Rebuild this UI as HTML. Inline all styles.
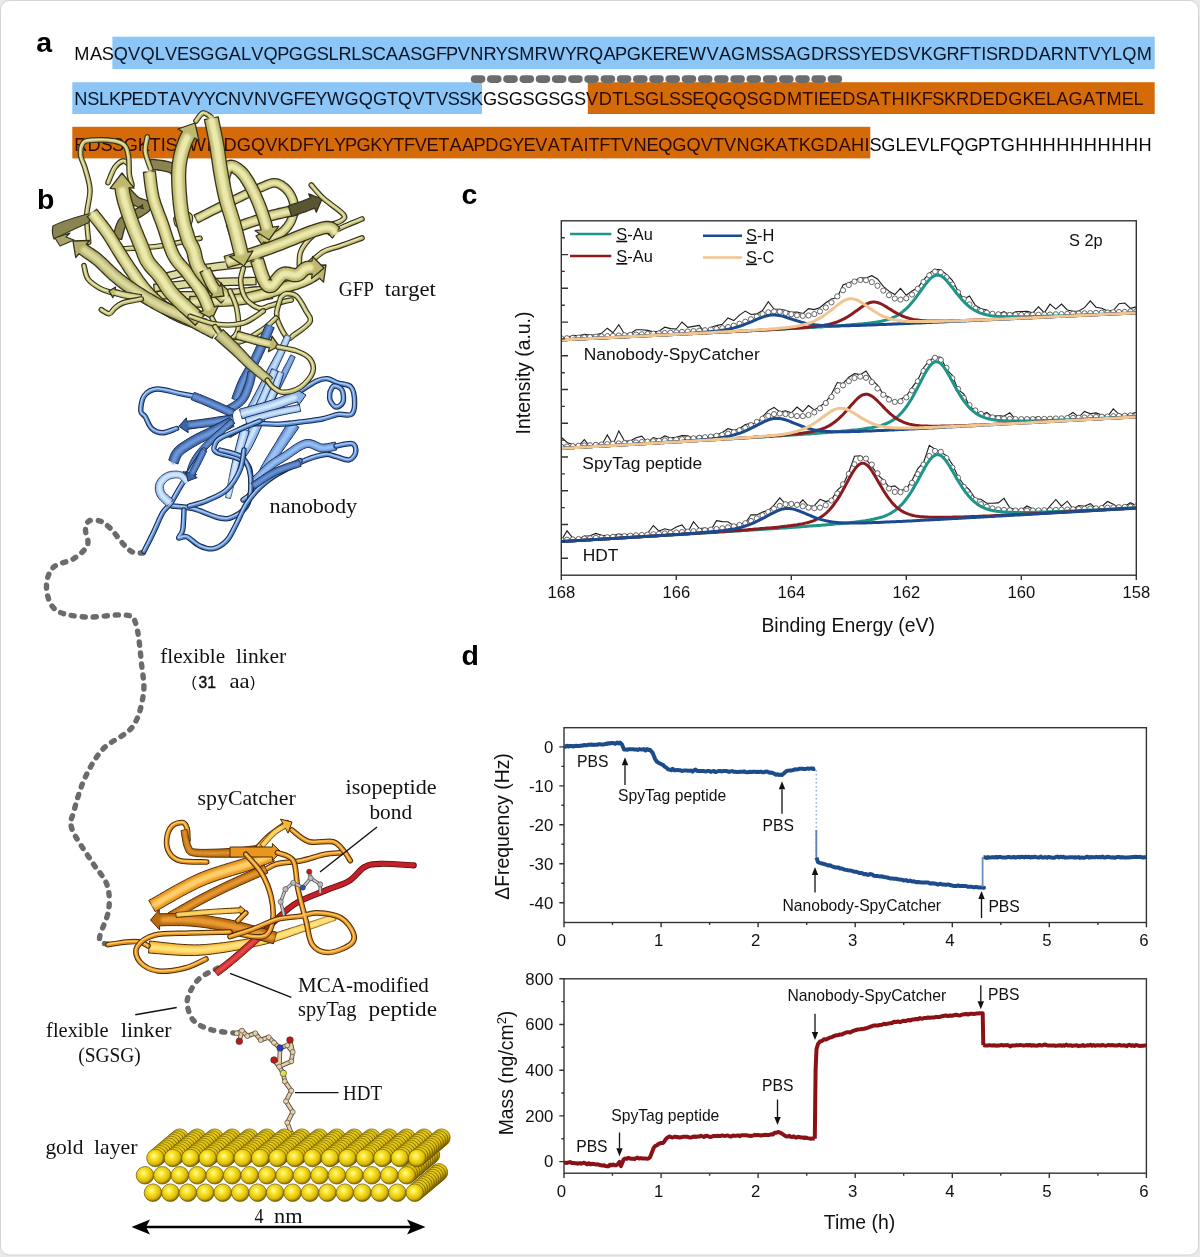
<!DOCTYPE html>
<html><head><meta charset="utf-8"><title>Figure</title>
<style>
html,body{margin:0;padding:0;background:#e9e9e9;width:1200px;height:1257px;overflow:hidden}
svg{display:block;filter:blur(0.3px)}
text{font-family:"Liberation Sans",sans-serif}
.sf{font-family:"Liberation Serif",serif}
</style></head><body>
<svg width="1200" height="1257" viewBox="0 0 1200 1257">
<defs><filter id="bl" x="-20%" y="-20%" width="140%" height="140%"><feGaussianBlur stdDeviation="1.1"/></filter></defs>
<rect x="0.5" y="0.5" width="1198" height="1254.5" rx="9" ry="9" fill="#ffffff" stroke="#d4d4d4" stroke-width="1"/>
<text x="36.3" y="52" font-size="28.5" font-weight="bold" fill="#000">a</text>
<rect x="112.4" y="36.7" width="1042.3" height="32.4" fill="#8cc6f6"/>
<rect x="72.3" y="82.2" width="409.7" height="31.8" fill="#8cc6f6"/>
<rect x="587.8" y="82.2" width="566.9" height="31.8" fill="#d56a08"/>
<rect x="72.3" y="126.8" width="798" height="31.6" fill="#d56a08"/>
<rect x="470.8" y="75.3" width="14.6" height="7.6" rx="3.8" fill="#6c6c6c"/>
<rect x="487.0" y="75.3" width="14.6" height="7.6" rx="3.8" fill="#6c6c6c"/>
<rect x="503.2" y="75.3" width="14.6" height="7.6" rx="3.8" fill="#6c6c6c"/>
<rect x="519.5" y="75.3" width="14.6" height="7.6" rx="3.8" fill="#6c6c6c"/>
<rect x="535.7" y="75.3" width="14.6" height="7.6" rx="3.8" fill="#6c6c6c"/>
<rect x="551.9" y="75.3" width="14.6" height="7.6" rx="3.8" fill="#6c6c6c"/>
<rect x="568.1" y="75.3" width="14.6" height="7.6" rx="3.8" fill="#6c6c6c"/>
<rect x="584.3" y="75.3" width="14.6" height="7.6" rx="3.8" fill="#6c6c6c"/>
<rect x="600.6" y="75.3" width="14.6" height="7.6" rx="3.8" fill="#6c6c6c"/>
<rect x="616.8" y="75.3" width="14.6" height="7.6" rx="3.8" fill="#6c6c6c"/>
<rect x="633.0" y="75.3" width="14.6" height="7.6" rx="3.8" fill="#6c6c6c"/>
<rect x="649.2" y="75.3" width="14.6" height="7.6" rx="3.8" fill="#6c6c6c"/>
<rect x="665.4" y="75.3" width="14.6" height="7.6" rx="3.8" fill="#6c6c6c"/>
<rect x="681.7" y="75.3" width="14.6" height="7.6" rx="3.8" fill="#6c6c6c"/>
<rect x="697.9" y="75.3" width="14.6" height="7.6" rx="3.8" fill="#6c6c6c"/>
<rect x="714.1" y="75.3" width="14.6" height="7.6" rx="3.8" fill="#6c6c6c"/>
<rect x="730.3" y="75.3" width="14.6" height="7.6" rx="3.8" fill="#6c6c6c"/>
<rect x="746.5" y="75.3" width="14.6" height="7.6" rx="3.8" fill="#6c6c6c"/>
<rect x="762.8" y="75.3" width="14.6" height="7.6" rx="3.8" fill="#6c6c6c"/>
<rect x="779.0" y="75.3" width="14.6" height="7.6" rx="3.8" fill="#6c6c6c"/>
<rect x="795.2" y="75.3" width="14.6" height="7.6" rx="3.8" fill="#6c6c6c"/>
<rect x="811.4" y="75.3" width="14.6" height="7.6" rx="3.8" fill="#6c6c6c"/>
<rect x="827.6" y="75.3" width="14.6" height="7.6" rx="3.8" fill="#6c6c6c"/>
<text x="74.3 89.9 101.8" y="59.5" font-size="18.20" fill="#0a0a0a">MAS</text>
<text x="113.8 128.1 140.5 154.8 165.0 177.0 188.5 200.3 214.4 228.7 241.0 251.2 263.6 277.3 288.8 302.9 316.7 328.5 338.4 351.3 361.1 372.8 385.8 398.3 410.2 422.1 435.9 446.1 457.8 470.3 483.4 495.8 507.1 519.2 534.4 547.7 564.7 576.1 589.0 603.4 615.1 626.7 640.7 652.4 663.9 676.5 688.7 706.4 718.9 731.1 745.5 760.7 772.2 784.2 796.4 811.0 824.3 836.9 848.4 859.8 871.1 883.3 896.6 908.6 920.8 932.8 946.6 959.2 970.0 981.2 986.1 997.7 1011.0 1025.0 1038.8 1050.8 1063.9 1077.3 1088.5 1100.3 1111.9 1122.2 1136.7" y="59.5" font-size="18.20" fill="#061426">QVQLVESGGALVQPGGSLRLSCAASGFPVNRYSMRWYRQAPGKEREWVAGMSSAGDRSSYEDSVKGRFTISRDDARNTVYLQM</text>
<text x="74.2 87.2 99.0 109.0 120.4 131.6 143.8 157.3 168.5 180.9 192.6 203.7 215.0 228.1 241.6 254.1 267.5 279.7 293.5 303.9 315.2 327.1 344.6 358.7 372.9 387.0 398.1 412.4 424.7 435.9 447.8 459.3 471.0" y="105.3" font-size="18.20" fill="#061426">NSLKPEDTAVYYCNVNVGFEYWGQGTQVTVSSK</text>
<text x="483.0 496.8 508.7 522.5 534.4 548.2 560.1 573.9" y="105.3" font-size="18.20" fill="#0a0a0a">GSGSGSGS</text>
<text x="585.9 598.7 612.3 623.4 633.3 645.1 659.3 669.1 680.7 692.2 704.2 718.4 732.6 746.6 758.4 773.0 786.9 802.3 813.6 818.5 830.0 842.3 855.6 867.6 880.0 891.4 904.9 910.1 921.8 932.3 944.1 955.9 969.2 982.5 994.8 1008.3 1022.4 1034.1 1046.0 1056.3 1068.6 1082.9 1095.2 1106.6 1121.7 1133.6" y="105.3" font-size="18.20" fill="#2e0a00">VDTLSGLSSEQGQSGDMTIEEDSATHIKFSKRDEDGKELAGATMEL</text>
<text x="74.2 87.4 100.6 112.0 123.7 137.7 149.6 160.8 165.6 177.4 188.8 206.4 211.2 223.4 236.8 250.9 265.2 277.3 289.6 302.8 312.9 324.5 334.0 345.0 356.4 370.3 381.7 393.2 403.9 414.8 426.6 438.3 449.5 461.9 473.5 485.3 498.8 512.3 523.5 535.3 547.7 559.9 571.0 583.4 588.5 599.2 609.9 621.1 633.5 646.4 658.2 672.3 686.4 700.7 712.9 724.0 736.4 749.7 763.6 775.6 787.8 798.7 810.6 825.1 838.7 851.1 864.6" y="151.0" font-size="18.20" fill="#2e0a00">RDSSGKTISTWISDGQVKDFYLYPGKYTFVETAAPDGYEVATAITFTVNEQGQVTVNGKATKGDAHI</text>
<text x="869.5 881.3 895.5 905.3 917.3 929.6 939.5 950.3 964.6 978.1 989.7 1000.8 1015.2 1028.9 1042.6 1056.3 1070.1 1083.8 1097.5 1111.2 1124.9 1138.6" y="151.0" font-size="18.20" fill="#0a0a0a">SGLEVLFQGPTGHHHHHHHHHH</text>
<path d="M143.4,553.0 C141.6,552.8 135.8,553.5 132.4,552.0 C129.1,550.5 127.0,548.0 123.3,544.0 C119.6,540.0 113.9,531.8 110.0,528.0 C106.1,524.2 103.5,522.2 100.0,521.0 C96.5,519.8 91.4,519.5 89.0,521.0 C86.6,522.5 85.8,526.0 85.5,530.0 C85.2,534.0 89.4,540.2 87.5,545.0 C85.6,549.8 79.8,554.7 74.0,558.5 C68.2,562.3 57.6,562.8 53.0,567.7 C48.4,572.6 46.1,580.8 46.5,587.8 C46.9,594.8 49.2,604.9 55.6,609.8 C62.0,614.7 73.3,616.1 84.9,617.0 C96.5,617.9 116.5,613.8 125.0,615.0 C133.5,616.2 133.2,616.1 136.0,624.4 C138.8,632.7 140.4,653.1 141.6,664.7 C142.8,676.3 144.9,683.6 143.4,694.0 C141.9,704.4 139.1,717.8 132.4,726.9 C125.7,736.0 111.1,740.3 103.2,748.8 C95.3,757.3 89.8,767.6 84.9,778.0 C80.0,788.4 76.2,802.5 74.0,811.0 C71.8,819.5 69.0,820.5 72.0,829.0 C75.0,837.5 86.4,853.0 92.2,862.2 C98.0,871.4 104.0,876.3 106.8,884.2 C109.5,892.1 109.9,900.7 108.7,909.8 C107.5,918.9 99.2,933.2 99.5,939.0 C99.8,944.8 108.7,943.6 110.5,944.5" fill="none" stroke="#6b6b6b" stroke-width="5.4" stroke-dasharray="3.2,7.8" stroke-linecap="round"/>
<path d="M218.0,968.0 C215.0,969.7 204.7,974.0 200.0,978.0 C195.3,982.0 192.1,987.5 190.0,992.0 C187.9,996.5 186.6,1000.2 187.3,1005.0 C188.0,1009.8 189.9,1016.8 194.0,1021.0 C198.1,1025.2 205.3,1028.0 212.0,1030.0 C218.7,1032.0 230.3,1032.5 234.0,1033.0" fill="none" stroke="#6b6b6b" stroke-width="5.4" stroke-dasharray="3.2,7.8" stroke-linecap="round"/>
<path d="M158.9,282.6 L161.4,282.0 L164.4,281.2 L168.0,280.3 L172.0,279.2 L176.3,278.1 L180.9,276.9 L185.8,275.7 L190.7,274.6 L195.7,273.6 L200.6,272.7 L206.0,271.9 L212.0,271.0 L218.5,270.2 L225.3,269.4 L232.0,268.6 L238.6,267.9 L244.8,267.2 L250.3,266.6 L254.9,266.1 L258.4,265.7 L257.6,258.3 L254.1,258.7 L249.5,259.2 L244.0,259.8 L237.8,260.4 L231.2,261.1 L224.4,261.9 L217.6,262.7 L211.0,263.6 L204.9,264.4 L199.4,265.3 L194.2,266.2 L189.1,267.3 L184.1,268.4 L179.1,269.6 L174.4,270.8 L170.1,271.9 L166.0,273.0 L162.5,274.0 L159.5,274.8 L157.1,275.4 Z" fill="#dedba0" stroke="#34321a" stroke-width="1.3" stroke-linejoin="round"/>
<path d="M154.4,291.7 L157.1,291.4 L160.6,291.0 L164.6,290.5 L169.1,289.9 L173.9,289.3 L179.1,288.8 L184.4,288.2 L189.8,287.6 L195.1,287.1 L200.3,286.7 L205.7,286.4 L211.6,286.1 L218.0,285.9 L224.5,285.6 L231.0,285.4 L237.3,285.3 L243.1,285.1 L248.3,285.0 L252.7,284.9 L256.1,284.7 L255.9,277.3 L252.5,277.4 L248.1,277.5 L242.9,277.6 L237.1,277.8 L230.8,277.9 L224.2,278.1 L217.7,278.4 L211.3,278.6 L205.2,278.9 L199.7,279.3 L194.5,279.7 L189.1,280.2 L183.6,280.7 L178.3,281.3 L173.1,281.9 L168.2,282.5 L163.6,283.1 L159.6,283.6 L156.2,284.0 L153.6,284.3 Z" fill="#dedba0" stroke="#34321a" stroke-width="1.3" stroke-linejoin="round"/>
<path d="M157.0,298.7 L159.6,298.8 L163.0,298.8 L166.9,298.9 L171.4,299.0 L176.3,299.1 L181.4,299.1 L186.8,299.1 L192.3,299.1 L197.8,299.0 L203.2,298.7 L208.9,298.4 L215.2,298.0 L221.9,297.4 L228.8,296.9 L235.7,296.2 L242.4,295.6 L248.6,295.0 L254.1,294.5 L258.8,294.1 L262.3,293.7 L261.7,286.3 L258.1,286.6 L253.4,287.0 L247.9,287.6 L241.7,288.1 L235.0,288.8 L228.2,289.4 L221.3,290.0 L214.6,290.5 L208.4,290.9 L202.8,291.3 L197.6,291.5 L192.2,291.6 L186.8,291.6 L181.5,291.6 L176.4,291.6 L171.5,291.5 L167.1,291.4 L163.1,291.3 L159.7,291.3 L157.0,291.3 Z" fill="#dedba0" stroke="#34321a" stroke-width="1.3" stroke-linejoin="round"/>
<path d="M172.6,304.7 L174.3,304.9 L176.3,305.1 L178.6,305.5 L181.3,305.9 L184.4,306.2 L187.8,306.6 L191.6,306.8 L195.8,307.0 L200.3,306.9 L205.2,306.7 L210.9,306.3 L217.6,305.6 L225.1,304.8 L233.0,303.9 L241.0,302.8 L248.8,301.8 L256.2,300.8 L262.8,300.0 L268.3,299.2 L272.5,298.7 L271.5,291.3 L267.4,291.8 L261.8,292.5 L255.2,293.4 L247.9,294.4 L240.0,295.4 L232.0,296.4 L224.2,297.4 L216.8,298.2 L210.3,298.8 L204.8,299.3 L200.2,299.4 L195.9,299.5 L192.0,299.3 L188.4,299.1 L185.2,298.8 L182.3,298.4 L179.7,298.1 L177.3,297.7 L175.2,297.4 L173.4,297.3 Z" fill="#dedba0" stroke="#34321a" stroke-width="1.3" stroke-linejoin="round"/>
<path d="M176.0,219.0 C177.0,218.0 179.7,213.5 182.0,213.0 C184.3,212.5 189.0,214.0 190.0,216.0 C191.0,218.0 190.0,223.5 188.0,225.0 C186.0,226.5 180.0,226.0 178.0,225.0 C176.0,224.0 176.3,220.0 176.0,219.0" fill="none" stroke="#34321a" stroke-width="5.6" stroke-linecap="round" stroke-linejoin="round"/><path d="M176.0,219.0 C177.0,218.0 179.7,213.5 182.0,213.0 C184.3,212.5 189.0,214.0 190.0,216.0 C191.0,218.0 190.0,223.5 188.0,225.0 C186.0,226.5 180.0,226.0 178.0,225.0 C176.0,224.0 176.3,220.0 176.0,219.0" fill="none" stroke="#c2bd78" stroke-width="3.4" stroke-linecap="round" stroke-linejoin="round"/><path d="M176.0,219.0 C177.0,218.0 179.7,213.5 182.0,213.0 C184.3,212.5 189.0,214.0 190.0,216.0 C191.0,218.0 190.0,223.5 188.0,225.0 C186.0,226.5 180.0,226.0 178.0,225.0 C176.0,224.0 176.3,220.0 176.0,219.0" fill="none" stroke="#e6e4a8" stroke-width="1.4" stroke-linecap="round" stroke-linejoin="round" transform="translate(-0.4,-0.5)"/>
<path d="M120.0,249.0 C126.7,248.5 146.7,247.8 160.0,246.0 C173.3,244.2 193.3,239.6 200.0,238.3" fill="none" stroke="#34321a" stroke-width="5.6" stroke-linecap="round" stroke-linejoin="round"/><path d="M120.0,249.0 C126.7,248.5 146.7,247.8 160.0,246.0 C173.3,244.2 193.3,239.6 200.0,238.3" fill="none" stroke="#c2bd78" stroke-width="3.4" stroke-linecap="round" stroke-linejoin="round"/><path d="M120.0,249.0 C126.7,248.5 146.7,247.8 160.0,246.0 C173.3,244.2 193.3,239.6 200.0,238.3" fill="none" stroke="#e6e4a8" stroke-width="1.4" stroke-linecap="round" stroke-linejoin="round" transform="translate(-0.4,-0.5)"/>
<path d="M122.1,193.4 L122.7,194.0 L123.5,194.9 L124.4,195.9 L125.5,197.1 L126.7,198.4 L128.0,199.7 L129.3,201.1 L130.6,202.3 L132.0,203.5 L133.4,204.7 L135.0,205.7 L136.8,206.5 L138.4,207.1 L140.0,207.6 L141.4,208.1 L142.5,208.4 L143.2,208.7 L143.3,208.7 L142.7,208.0 L142.2,206.0 L142.5,204.8 L142.5,204.7 L142.0,205.2 L141.1,205.9 L139.8,206.7 L138.4,207.6 L136.9,208.5 L135.4,209.4 L133.9,210.4 L132.6,211.2 L131.6,211.8 L130.5,212.4 L129.3,212.9 L128.0,213.5 L126.6,214.1 L125.1,214.8 L123.6,215.7 L122.0,216.7 L120.5,218.0 L119.1,219.6 L117.9,221.4 L117.0,223.4 L116.2,225.4 L115.5,227.5 L114.9,229.6 L114.4,231.5 L113.9,233.3 L113.6,234.9 L113.2,236.1 L113.0,237.0 L121.6,239.6 L121.9,238.5 L122.3,237.1 L122.7,235.5 L123.1,233.7 L123.6,232.0 L124.1,230.2 L124.6,228.5 L125.2,227.0 L125.8,225.8 L126.3,225.0 L126.8,224.4 L127.5,223.9 L128.3,223.4 L129.2,222.8 L130.3,222.3 L131.6,221.7 L133.0,221.1 L134.4,220.5 L136.0,219.7 L137.4,218.8 L138.7,218.0 L140.1,217.1 L141.6,216.2 L143.2,215.3 L144.7,214.3 L146.3,213.3 L147.7,212.2 L149.1,210.9 L150.3,209.3 L151.2,206.6 L150.4,203.4 L148.7,201.5 L147.0,200.6 L145.6,200.0 L144.1,199.5 L142.7,199.1 L141.4,198.6 L140.2,198.2 L139.3,197.8 L138.6,197.3 L137.8,196.7 L136.7,195.7 L135.6,194.6 L134.4,193.5 L133.2,192.2 L132.1,191.0 L131.0,189.8 L130.1,188.8 L129.2,187.9 L128.5,187.2 Z" fill="#8a8550" stroke="#34321a" stroke-width="1.3" stroke-linejoin="round"/>
<path d="M197.9,222.8 L199.9,221.8 L202.6,220.5 L205.7,218.9 L209.2,217.1 L212.9,215.2 L216.8,213.3 L220.8,211.3 L224.7,209.4 L228.4,207.5 L231.9,205.8 L235.2,204.2 L238.7,202.5 L242.2,200.8 L245.6,199.2 L249.1,197.5 L252.4,196.0 L255.6,194.5 L258.5,193.1 L261.2,191.9 L263.7,190.9 L265.8,190.0 L267.7,189.2 L269.2,188.5 L270.6,188.0 L271.6,187.6 L272.5,187.3 L273.2,187.2 L273.8,187.1 L274.5,187.1 L275.3,187.2 L276.2,187.4 L277.1,187.7 L278.0,188.1 L279.0,188.7 L280.1,189.4 L281.1,190.1 L282.1,191.0 L283.0,191.8 L283.9,192.8 L284.7,193.7 L285.4,194.6 L286.2,195.7 L286.8,196.8 L287.5,198.0 L288.0,199.2 L288.6,200.5 L289.0,201.7 L289.3,203.0 L289.6,204.2 L289.8,205.4 L289.8,206.7 L289.8,208.0 L289.7,209.4 L289.6,210.8 L289.3,212.3 L289.0,213.8 L288.6,215.2 L288.2,216.6 L287.7,218.0 L287.1,219.2 L286.6,220.4 L285.9,221.5 L285.1,222.7 L284.3,223.8 L283.4,224.9 L282.4,226.0 L281.5,227.0 L280.5,228.0 L279.5,228.8 L278.5,229.6 L277.5,230.2 L276.5,230.9 L275.4,231.4 L274.3,231.9 L273.1,232.4 L272.0,232.8 L270.8,233.1 L269.7,233.4 L268.6,233.6 L267.6,233.8 L266.7,233.8 L265.7,233.8 L264.6,233.6 L265.6,230.5 L256.0,236.0 L262.2,245.2 L263.3,242.1 L265.0,242.3 L266.7,242.3 L268.4,242.2 L270.0,242.0 L271.5,241.7 L273.0,241.3 L274.6,240.9 L276.1,240.4 L277.6,239.7 L279.2,239.1 L280.7,238.3 L282.1,237.4 L283.5,236.4 L284.8,235.4 L286.1,234.3 L287.4,233.1 L288.7,231.8 L289.9,230.4 L291.0,229.0 L292.1,227.5 L293.1,226.0 L294.0,224.4 L294.9,222.8 L295.6,221.1 L296.2,219.4 L296.8,217.6 L297.3,215.8 L297.7,213.9 L298.0,212.1 L298.2,210.2 L298.3,208.3 L298.3,206.4 L298.2,204.6 L298.0,202.8 L297.6,201.0 L297.1,199.2 L296.5,197.5 L295.8,195.8 L295.1,194.2 L294.2,192.6 L293.3,191.1 L292.3,189.7 L291.3,188.3 L290.2,187.0 L289.0,185.8 L287.7,184.6 L286.4,183.5 L284.9,182.4 L283.4,181.4 L281.8,180.5 L280.2,179.8 L278.5,179.2 L276.7,178.8 L275.0,178.6 L273.4,178.6 L271.8,178.8 L270.3,179.1 L268.9,179.5 L267.4,180.1 L265.9,180.7 L264.3,181.4 L262.5,182.2 L260.3,183.1 L257.8,184.1 L255.0,185.4 L252.0,186.8 L248.8,188.3 L245.4,189.8 L242.0,191.5 L238.5,193.2 L235.0,194.9 L231.5,196.5 L228.1,198.2 L224.7,199.9 L220.9,201.7 L217.0,203.7 L213.0,205.7 L209.1,207.6 L205.3,209.5 L201.8,211.3 L198.7,212.9 L196.1,214.2 L194.1,215.2 Z" fill="#bdb86e" stroke="#34321a" stroke-width="1.3" stroke-linejoin="round"/><path d="M198.0,218.0 L200.7,216.7 L203.8,215.1 L207.2,213.3 L211.0,211.4 L214.9,209.5 L218.9,207.5 L222.8,205.5 L226.5,203.7 L230.0,202.0 L233.4,200.4 L236.8,198.7 L240.3,197.0 L243.8,195.3 L247.2,193.7 L250.6,192.1 L253.8,190.6 L256.8,189.3 L259.5,188.0 L262.0,187.0 L264.1,186.1 L266.0,185.3 L267.6,184.6 L269.0,184.0 L270.2,183.6 L271.4,183.2 L272.5,183.0 L273.6,182.9 L274.8,182.9 L276.0,183.0 L277.3,183.3 L278.6,183.7 L279.9,184.3 L281.2,185.0 L282.5,185.9 L283.7,186.8 L284.9,187.8 L286.0,188.8 L287.1,189.9 L288.0,191.0 L288.9,192.1 L289.7,193.4 L290.5,194.7 L291.3,196.1 L291.9,197.5 L292.5,199.0 L293.1,200.5 L293.5,202.0 L293.8,203.5 L294.0,205.0 L294.1,206.5 L294.1,208.1 L294.0,209.8 L293.8,211.4 L293.5,213.1 L293.1,214.8 L292.7,216.4 L292.2,218.0 L291.6,219.6 L291.0,221.0 L290.3,222.4 L289.5,223.8 L288.6,225.1 L287.6,226.4 L286.6,227.7 L285.6,228.9 L284.4,230.0 L283.3,231.1 L282.2,232.1 L281.0,233.0 L279.8,233.8 L278.6,234.6 L277.3,235.2 L276.0,235.8 L274.6,236.4 L273.3,236.8 L271.9,237.2 L270.6,237.6 L269.3,237.8 L268.0,238.0 L266.7,238.1 L265.3,238.0" fill="none" stroke="#ebe9ad" stroke-width="4.2" stroke-linecap="round" filter="url(#bl)"/>
<path d="M229.6,234.7 L232.2,233.9 L235.6,232.7 L239.6,231.3 L244.1,229.8 L248.9,228.1 L253.9,226.4 L258.7,224.8 L263.4,223.3 L267.7,221.9 L271.4,220.8 L274.7,219.9 L278.0,219.0 L281.2,218.3 L284.2,217.6 L287.1,217.0 L289.8,216.5 L292.3,216.0 L294.5,215.6 L296.4,215.2 L298.0,214.9 L296.0,205.1 L294.5,205.4 L292.6,205.8 L290.4,206.2 L287.9,206.7 L285.1,207.2 L282.1,207.8 L278.9,208.5 L275.6,209.3 L272.1,210.2 L268.6,211.2 L264.7,212.4 L260.4,213.8 L255.6,215.3 L250.7,217.0 L245.7,218.6 L240.9,220.3 L236.4,221.8 L232.3,223.2 L229.0,224.4 L226.4,225.3 Z" fill="#bdb86e" stroke="#34321a" stroke-width="1.3" stroke-linejoin="round"/><path d="M230.6,229.1 L234.0,228.0 L238.0,226.6 L242.5,225.0 L247.3,223.4 L252.3,221.7 L257.2,220.1 L261.9,218.5 L266.2,217.1 L270.0,216.0 L273.4,215.0 L276.8,214.2 L280.1,213.4 L283.2,212.7 L286.1,212.1 L288.9,211.6 L291.4,211.1 L293.6,210.7 L295.5,210.3" fill="none" stroke="#ebe9ad" stroke-width="5.0" stroke-linecap="round" filter="url(#bl)"/>
<path d="M291.7,216.2 L292.6,215.9 L293.7,215.6 L295.0,215.2 L296.5,214.7 L298.1,214.2 L299.9,213.6 L301.6,213.0 L303.4,212.4 L305.2,211.8 L306.9,211.1 L308.7,210.5 L310.6,209.7 L312.6,208.9 L314.6,208.1 L316.3,212.2 L322.0,199.0 L308.6,193.8 L310.4,197.9 L308.4,198.7 L306.5,199.5 L304.7,200.2 L303.1,200.9 L301.5,201.4 L299.8,202.0 L298.1,202.6 L296.4,203.2 L294.7,203.7 L293.1,204.2 L291.7,204.7 L290.3,205.1 L289.2,205.5 L288.3,205.8 Z" fill="#5a5632" stroke="#34321a" stroke-width="1.3" stroke-linejoin="round"/>
<path d="M311.3,185.0 C313.3,187.2 318.0,193.4 323.3,198.3 C328.6,203.2 340.4,210.5 343.3,214.3 C346.2,218.1 344.0,218.8 340.7,221.0 C337.4,223.2 328.4,224.8 323.3,227.7 C318.2,230.6 313.8,234.3 310.0,238.3 C306.2,242.3 302.5,247.2 300.7,251.7 C298.9,256.1 299.5,262.8 299.3,265.0" fill="none" stroke="#34321a" stroke-width="5.6" stroke-linecap="round" stroke-linejoin="round"/><path d="M311.3,185.0 C313.3,187.2 318.0,193.4 323.3,198.3 C328.6,203.2 340.4,210.5 343.3,214.3 C346.2,218.1 344.0,218.8 340.7,221.0 C337.4,223.2 328.4,224.8 323.3,227.7 C318.2,230.6 313.8,234.3 310.0,238.3 C306.2,242.3 302.5,247.2 300.7,251.7 C298.9,256.1 299.5,262.8 299.3,265.0" fill="none" stroke="#c2bd78" stroke-width="3.4" stroke-linecap="round" stroke-linejoin="round"/><path d="M311.3,185.0 C313.3,187.2 318.0,193.4 323.3,198.3 C328.6,203.2 340.4,210.5 343.3,214.3 C346.2,218.1 344.0,218.8 340.7,221.0 C337.4,223.2 328.4,224.8 323.3,227.7 C318.2,230.6 313.8,234.3 310.0,238.3 C306.2,242.3 302.5,247.2 300.7,251.7 C298.9,256.1 299.5,262.8 299.3,265.0" fill="none" stroke="#e6e4a8" stroke-width="1.4" stroke-linecap="round" stroke-linejoin="round" transform="translate(-0.4,-0.5)"/>
<path d="M362.0,219.0 C359.2,220.2 350.3,223.7 345.0,226.0 C339.7,228.3 332.5,231.8 330.0,233.0" fill="none" stroke="#34321a" stroke-width="5.6" stroke-linecap="round" stroke-linejoin="round"/><path d="M362.0,219.0 C359.2,220.2 350.3,223.7 345.0,226.0 C339.7,228.3 332.5,231.8 330.0,233.0" fill="none" stroke="#c2bd78" stroke-width="3.4" stroke-linecap="round" stroke-linejoin="round"/><path d="M362.0,219.0 C359.2,220.2 350.3,223.7 345.0,226.0 C339.7,228.3 332.5,231.8 330.0,233.0" fill="none" stroke="#e6e4a8" stroke-width="1.4" stroke-linecap="round" stroke-linejoin="round" transform="translate(-0.4,-0.5)"/>
<path d="M362.0,238.0 C358.3,239.3 346.4,243.7 340.0,246.0 C333.6,248.3 328.8,248.5 323.3,251.7 C317.9,254.9 310.0,262.8 307.3,265.0" fill="none" stroke="#34321a" stroke-width="5.6" stroke-linecap="round" stroke-linejoin="round"/><path d="M362.0,238.0 C358.3,239.3 346.4,243.7 340.0,246.0 C333.6,248.3 328.8,248.5 323.3,251.7 C317.9,254.9 310.0,262.8 307.3,265.0" fill="none" stroke="#c2bd78" stroke-width="3.4" stroke-linecap="round" stroke-linejoin="round"/><path d="M362.0,238.0 C358.3,239.3 346.4,243.7 340.0,246.0 C333.6,248.3 328.8,248.5 323.3,251.7 C317.9,254.9 310.0,262.8 307.3,265.0" fill="none" stroke="#e6e4a8" stroke-width="1.4" stroke-linecap="round" stroke-linejoin="round" transform="translate(-0.4,-0.5)"/>
<path d="M227.8,267.7 L230.4,266.9 L233.6,265.9 L237.4,264.8 L241.8,263.4 L246.5,262.0 L251.4,260.4 L256.6,258.8 L261.8,257.1 L267.0,255.4 L272.0,253.7 L277.2,251.7 L282.9,249.6 L288.7,247.2 L294.7,244.8 L300.7,242.4 L306.4,240.1 L311.9,238.0 L316.8,236.2 L321.0,234.8 L324.3,233.9 L326.6,233.5 L327.9,233.5 L328.6,233.6 L328.8,233.7 L328.8,233.8 L329.0,234.0 L329.4,234.5 L330.0,235.4 L331.3,236.9 L332.6,237.9 L339.4,228.1 L339.6,228.3 L339.7,228.4 L339.3,227.7 L338.3,226.4 L336.8,224.7 L334.6,223.2 L331.9,222.1 L328.8,221.5 L325.4,221.5 L321.7,222.1 L317.5,223.3 L312.8,224.8 L307.6,226.7 L302.0,228.9 L296.2,231.2 L290.2,233.7 L284.3,236.1 L278.5,238.4 L273.0,240.5 L268.0,242.3 L263.1,244.0 L258.0,245.7 L252.9,247.4 L247.8,249.0 L242.9,250.5 L238.2,252.0 L233.9,253.3 L230.1,254.5 L226.8,255.5 L224.2,256.3 Z" fill="#bdb86e" stroke="#34321a" stroke-width="1.3" stroke-linejoin="round"/><path d="M228.6,261.2 L231.8,260.2 L235.7,259.0 L240.0,257.7 L244.7,256.2 L249.6,254.7 L254.8,253.1 L259.9,251.4 L265.0,249.7 L270.0,248.0 L275.1,246.1 L280.7,244.0 L286.5,241.7 L292.5,239.2 L298.4,236.8 L304.2,234.5 L309.8,232.4 L314.8,230.5 L319.3,229.0 L323.0,228.0 L326.0,227.5 L328.4,227.5 L330.2,227.8 L331.7,228.4 L332.8,229.2 L333.7,230.2 L334.3,231.1 L334.9,231.9 L335.4,232.6" fill="none" stroke="#ebe9ad" stroke-width="6.0" stroke-linecap="round" filter="url(#bl)"/>
<path d="M230.0,191.8 L230.0,190.8 L229.9,189.4 L229.8,187.8 L229.7,186.1 L229.6,184.4 L229.6,182.6 L229.6,180.9 L229.6,179.4 L229.7,178.2 L229.9,177.3 L230.1,176.4 L230.4,175.4 L230.8,174.4 L231.2,173.5 L231.5,172.8 L231.9,172.2 L232.2,171.9 L232.3,171.8 L232.1,171.9 L231.5,172.1 L230.9,172.2 L230.8,172.2 L231.0,172.3 L231.6,172.5 L232.3,172.8 L233.1,173.3 L234.0,173.9 L234.9,174.6 L235.8,175.3 L236.6,176.1 L237.3,176.8 L238.1,177.7 L238.9,178.6 L239.7,179.7 L240.5,180.8 L241.3,182.1 L242.1,183.4 L243.0,184.8 L243.9,186.3 L244.8,187.9 L245.6,189.5 L246.6,191.3 L247.5,193.2 L248.4,195.1 L249.4,197.1 L250.3,199.1 L251.2,201.2 L252.1,203.2 L252.9,205.3 L253.7,207.2 L254.5,209.2 L255.2,211.2 L256.0,213.2 L256.7,215.2 L257.3,217.2 L258.0,219.2 L258.6,221.1 L259.2,223.0 L259.7,224.9 L260.2,226.6 L260.6,228.2 L261.0,229.9 L255.1,230.7 L269.0,240.0 L278.7,226.4 L272.7,227.2 L272.3,225.3 L271.8,223.4 L271.3,221.5 L270.7,219.6 L270.1,217.6 L269.4,215.5 L268.7,213.4 L268.0,211.3 L267.3,209.1 L266.5,207.0 L265.7,204.9 L264.9,202.8 L264.0,200.7 L263.1,198.5 L262.2,196.4 L261.2,194.2 L260.3,192.1 L259.3,189.9 L258.3,187.9 L257.2,185.8 L256.2,183.9 L255.2,182.1 L254.3,180.4 L253.3,178.7 L252.4,177.1 L251.4,175.6 L250.4,174.1 L249.4,172.6 L248.3,171.2 L247.2,169.8 L246.0,168.5 L244.8,167.3 L243.6,166.2 L242.3,165.2 L240.9,164.1 L239.5,163.2 L238.0,162.3 L236.5,161.5 L234.8,160.9 L232.9,160.4 L230.8,160.2 L228.5,160.5 L226.3,161.4 L224.5,162.6 L223.2,163.9 L222.1,165.4 L221.1,166.8 L220.3,168.3 L219.6,169.9 L219.1,171.5 L218.6,173.1 L218.1,174.7 L217.8,176.7 L217.6,178.7 L217.6,180.8 L217.6,182.8 L217.6,184.8 L217.7,186.8 L217.8,188.5 L217.9,190.1 L218.0,191.3 L218.0,192.2 Z" fill="#bdb86e" stroke="#34321a" stroke-width="1.3" stroke-linejoin="round"/><path d="M224.0,191.0 L223.9,189.7 L223.8,188.2 L223.7,186.4 L223.6,184.6 L223.6,182.7 L223.6,180.8 L223.6,179.1 L223.8,177.4 L224.0,176.0 L224.3,174.7 L224.7,173.4 L225.2,172.2 L225.7,170.9 L226.3,169.8 L227.0,168.8 L227.7,167.9 L228.4,167.2 L229.2,166.6 L230.0,166.3 L230.9,166.2 L231.9,166.3 L232.9,166.6 L234.0,167.0 L235.1,167.6 L236.3,168.2 L237.4,169.0 L238.6,169.9 L239.7,170.8 L240.7,171.7 L241.7,172.7 L242.6,173.7 L243.6,174.9 L244.5,176.1 L245.4,177.4 L246.3,178.8 L247.3,180.3 L248.2,181.8 L249.1,183.4 L250.0,185.0 L250.9,186.7 L251.9,188.6 L252.9,190.5 L253.8,192.5 L254.8,194.6 L255.8,196.7 L256.7,198.8 L257.6,200.9 L258.5,203.0 L259.3,205.0 L260.1,207.0 L260.9,209.1 L261.6,211.2 L262.3,213.2 L263.0,215.3 L263.7,217.4 L264.3,219.4 L264.9,221.3 L265.5,223.2 L266.0,225.0 L266.5,226.8" fill="none" stroke="#ebe9ad" stroke-width="6.0" stroke-linecap="round" filter="url(#bl)"/>
<path d="M149.2,168.9 L150.8,169.2 L152.8,169.5 L155.2,169.7 L157.8,170.0 L160.5,170.4 L163.2,170.8 L165.6,171.3 L167.8,171.9 L169.4,172.5 L170.3,173.0 L170.9,173.6 L171.5,174.5 L172.2,175.8 L172.8,177.3 L173.3,179.1 L173.7,181.0 L174.1,182.8 L174.5,184.5 L174.8,186.2 L175.2,187.5 L184.8,184.5 L184.5,183.7 L184.2,182.5 L183.9,180.8 L183.5,178.7 L182.9,176.5 L182.2,174.2 L181.3,171.7 L180.1,169.3 L178.5,167.0 L176.3,165.0 L173.6,163.5 L170.9,162.4 L168.0,161.6 L165.0,161.0 L162.0,160.5 L159.1,160.1 L156.4,159.8 L154.0,159.5 L152.2,159.3 L150.8,159.1 Z" fill="#8a8550" stroke="#34321a" stroke-width="1.3" stroke-linejoin="round"/>
<path d="M108.0,182.7 C109.1,180.2 112.2,171.3 114.7,167.7 C117.2,164.1 120.5,161.7 122.7,161.0 C124.9,160.3 127.1,163.2 128.0,163.7" fill="none" stroke="#34321a" stroke-width="5.6" stroke-linecap="round" stroke-linejoin="round"/><path d="M108.0,182.7 C109.1,180.2 112.2,171.3 114.7,167.7 C117.2,164.1 120.5,161.7 122.7,161.0 C124.9,160.3 127.1,163.2 128.0,163.7" fill="none" stroke="#c2bd78" stroke-width="3.4" stroke-linecap="round" stroke-linejoin="round"/><path d="M108.0,182.7 C109.1,180.2 112.2,171.3 114.7,167.7 C117.2,164.1 120.5,161.7 122.7,161.0 C124.9,160.3 127.1,163.2 128.0,163.7" fill="none" stroke="#e6e4a8" stroke-width="1.4" stroke-linecap="round" stroke-linejoin="round" transform="translate(-0.4,-0.5)"/>
<path d="M147.3,137.0 C147.0,139.4 144.7,146.4 145.3,151.7 C145.9,157.0 149.8,166.1 150.7,169.0" fill="none" stroke="#34321a" stroke-width="5.6" stroke-linecap="round" stroke-linejoin="round"/><path d="M147.3,137.0 C147.0,139.4 144.7,146.4 145.3,151.7 C145.9,157.0 149.8,166.1 150.7,169.0" fill="none" stroke="#c2bd78" stroke-width="3.4" stroke-linecap="round" stroke-linejoin="round"/><path d="M147.3,137.0 C147.0,139.4 144.7,146.4 145.3,151.7 C145.9,157.0 149.8,166.1 150.7,169.0" fill="none" stroke="#e6e4a8" stroke-width="1.4" stroke-linecap="round" stroke-linejoin="round" transform="translate(-0.4,-0.5)"/>
<path d="M190.2,307.5 L193.4,307.4 L197.6,307.2 L202.6,307.1 L208.2,306.9 L214.2,306.7 L220.5,306.4 L226.7,306.1 L232.8,305.6 L238.6,305.1 L243.8,304.4 L248.6,303.6 L253.2,302.7 L257.7,301.6 L262.0,300.4 L266.2,299.2 L270.2,298.0 L274.1,296.7 L277.8,295.5 L281.3,294.3 L284.7,293.2 L287.9,292.2 L291.1,291.2 L294.1,290.2 L297.0,289.3 L299.8,288.3 L302.6,287.3 L305.2,286.3 L307.7,285.2 L310.2,284.1 L312.6,282.8 L315.0,281.4 L317.4,279.9 L319.5,278.2 L323.5,282.1 L326.0,265.0 L308.7,265.7 L312.7,269.6 L311.0,270.9 L309.2,272.1 L307.4,273.2 L305.4,274.2 L303.3,275.1 L301.0,276.1 L298.7,277.0 L296.2,277.9 L293.5,278.9 L290.7,279.8 L287.7,280.7 L284.6,281.7 L281.3,282.8 L277.9,283.9 L274.3,285.0 L270.7,286.3 L266.9,287.5 L263.0,288.7 L259.1,289.8 L255.0,290.9 L250.8,291.9 L246.6,292.8 L242.2,293.6 L237.4,294.2 L231.9,294.7 L226.0,295.1 L219.9,295.4 L213.8,295.7 L207.8,295.9 L202.2,296.1 L197.2,296.2 L193.0,296.4 L189.8,296.5 Z" fill="#bdb86e" stroke="#34321a" stroke-width="1.3" stroke-linejoin="round"/><path d="M193.2,301.9 L197.4,301.7 L202.4,301.6 L208.0,301.4 L214.0,301.2 L220.2,300.9 L226.4,300.6 L232.4,300.2 L238.0,299.6 L243.0,299.0 L247.6,298.2 L252.0,297.3 L256.4,296.3 L260.6,295.1 L264.6,293.9 L268.6,292.7 L272.4,291.5 L276.0,290.3 L279.6,289.1 L283.0,288.0 L286.3,287.0 L289.4,286.0 L292.4,285.0 L295.3,284.1 L298.0,283.1 L300.6,282.2 L303.1,281.2 L305.5,280.2 L307.8,279.1 L310.0,278.0 L312.1,276.8 L314.2,275.4" fill="none" stroke="#ebe9ad" stroke-width="5.5" stroke-linecap="round" filter="url(#bl)"/>
<path d="M250.8,262.1 L251.2,263.3 L251.8,264.9 L252.4,266.9 L253.1,269.2 L253.9,271.6 L254.7,274.1 L255.6,276.6 L256.4,278.9 L257.3,281.1 L258.2,282.9 L259.0,284.4 L259.7,285.7 L260.5,287.0 L261.4,288.3 L262.6,289.6 L264.1,290.9 L266.0,292.0 L268.3,292.6 L270.8,292.7 L273.3,292.1 L275.8,290.8 L277.6,289.2 L279.1,287.5 L280.4,285.9 L281.7,284.3 L282.9,282.8 L283.9,281.6 L284.9,280.6 L285.5,280.1 L285.6,280.0 L285.5,280.0 L285.8,280.0 L286.4,280.0 L287.4,280.2 L288.6,280.5 L290.1,280.9 L291.8,281.3 L293.7,281.6 L296.0,281.7 L298.5,281.3 L300.9,280.5 L302.8,279.4 L304.3,278.2 L305.5,277.1 L306.4,276.1 L307.2,275.4 L307.8,274.8 L308.2,274.5 L308.4,274.4 L308.7,274.3 L309.4,274.2 L310.6,274.0 L312.2,274.0 L311.6,278.5 L324.0,268.0 L312.6,256.5 L312.0,261.0 L309.8,261.1 L307.6,261.3 L305.3,261.7 L303.1,262.5 L301.1,263.6 L299.5,264.8 L298.2,266.0 L297.2,267.0 L296.4,267.8 L295.8,268.3 L295.5,268.6 L295.4,268.7 L295.5,268.7 L295.5,268.7 L295.1,268.6 L294.3,268.5 L293.1,268.2 L291.6,267.9 L289.9,267.5 L288.0,267.1 L285.7,267.0 L283.2,267.2 L280.4,268.0 L277.9,269.5 L275.9,271.1 L274.3,272.9 L272.8,274.6 L271.5,276.3 L270.3,277.8 L269.2,279.1 L268.5,279.9 L268.2,280.2 L268.7,279.9 L269.4,279.7 L270.2,279.7 L271.1,280.0 L271.6,280.3 L271.8,280.4 L271.7,280.3 L271.4,279.8 L270.9,279.1 L270.4,278.1 L269.8,277.1 L269.2,275.9 L268.5,274.2 L267.8,272.2 L267.0,270.0 L266.2,267.6 L265.5,265.3 L264.8,263.0 L264.2,261.0 L263.6,259.3 L263.2,257.9 Z" fill="#bdb86e" stroke="#34321a" stroke-width="1.3" stroke-linejoin="round"/><path d="M257.4,261.3 L258.0,262.9 L258.6,265.0 L259.3,267.2 L260.1,269.6 L260.9,272.0 L261.7,274.4 L262.5,276.6 L263.3,278.5 L264.0,280.0 L264.7,281.2 L265.3,282.4 L265.9,283.4 L266.6,284.3 L267.2,285.0 L267.8,285.6 L268.5,286.0 L269.3,286.2 L270.1,286.2 L271.0,286.0 L272.0,285.5 L273.0,284.5 L274.2,283.3 L275.3,281.9 L276.6,280.3 L277.8,278.7 L279.1,277.2 L280.4,275.9 L281.7,274.8 L283.0,274.0 L284.3,273.6 L285.7,273.5 L287.2,273.6 L288.6,273.8 L290.1,274.2 L291.6,274.6 L293.0,274.9 L294.4,275.1 L295.8,275.2 L297.0,275.0 L298.1,274.6 L299.1,274.0 L300.1,273.3 L301.0,272.4 L301.8,271.6 L302.7,270.7 L303.6,269.8 L304.6,269.1 L305.7,268.5 L307.0,268.0 L308.5,267.7 L310.2,267.6" fill="none" stroke="#ebe9ad" stroke-width="6.5" stroke-linecap="round" filter="url(#bl)"/>
<path d="M88.7,242.3 C88.4,237.9 86.5,224.4 86.7,215.7 C86.9,207.0 90.2,198.1 90.0,190.3 C89.8,182.5 86.8,174.8 85.3,169.0 C83.8,163.2 81.1,159.9 80.7,155.7 C80.3,151.5 81.0,146.3 82.7,143.7 C84.4,141.1 85.4,140.8 90.7,140.3 C96.0,139.9 108.9,140.0 114.7,141.0 C120.5,142.0 123.0,143.4 125.3,146.3 C127.6,149.2 128.0,153.6 128.7,158.3 C129.4,163.0 128.8,169.9 129.3,174.3 C129.9,178.8 131.6,183.2 132.0,185.0" fill="none" stroke="#34321a" stroke-width="5.6" stroke-linecap="round" stroke-linejoin="round"/><path d="M88.7,242.3 C88.4,237.9 86.5,224.4 86.7,215.7 C86.9,207.0 90.2,198.1 90.0,190.3 C89.8,182.5 86.8,174.8 85.3,169.0 C83.8,163.2 81.1,159.9 80.7,155.7 C80.3,151.5 81.0,146.3 82.7,143.7 C84.4,141.1 85.4,140.8 90.7,140.3 C96.0,139.9 108.9,140.0 114.7,141.0 C120.5,142.0 123.0,143.4 125.3,146.3 C127.6,149.2 128.0,153.6 128.7,158.3 C129.4,163.0 128.8,169.9 129.3,174.3 C129.9,178.8 131.6,183.2 132.0,185.0" fill="none" stroke="#c2bd78" stroke-width="3.4" stroke-linecap="round" stroke-linejoin="round"/><path d="M88.7,242.3 C88.4,237.9 86.5,224.4 86.7,215.7 C86.9,207.0 90.2,198.1 90.0,190.3 C89.8,182.5 86.8,174.8 85.3,169.0 C83.8,163.2 81.1,159.9 80.7,155.7 C80.3,151.5 81.0,146.3 82.7,143.7 C84.4,141.1 85.4,140.8 90.7,140.3 C96.0,139.9 108.9,140.0 114.7,141.0 C120.5,142.0 123.0,143.4 125.3,146.3 C127.6,149.2 128.0,153.6 128.7,158.3 C129.4,163.0 128.8,169.9 129.3,174.3 C129.9,178.8 131.6,183.2 132.0,185.0" fill="none" stroke="#e6e4a8" stroke-width="1.4" stroke-linecap="round" stroke-linejoin="round" transform="translate(-0.4,-0.5)"/>
<path d="M53,226 C60,222 80,216 95,212 L88,223 C76,228 64,234 54,239 C52,234 52,230 53,226 Z" fill="#8a8550" stroke="#34321a" stroke-width="1.2" stroke-linejoin="round"/>
<path d="M55,238 L70,233 L66,237 L74,240 L60,246 Z" fill="#a9a468" stroke="#34321a" stroke-width="1.1" stroke-linejoin="round"/>
<path d="M87.3,216.7 L88.2,217.8 L89.3,219.2 L90.6,220.9 L92.1,222.7 L93.6,224.6 L95.3,226.7 L96.9,228.8 L98.6,231.0 L100.2,233.2 L101.8,235.4 L103.3,237.6 L104.8,240.0 L106.4,242.5 L108.0,245.1 L109.6,247.7 L111.2,250.5 L112.9,253.2 L114.6,255.9 L116.3,258.6 L118.0,261.3 L119.7,263.9 L121.4,266.5 L123.1,269.1 L124.8,271.8 L126.6,274.4 L128.4,277.0 L130.1,279.5 L131.8,282.0 L133.5,284.4 L135.2,286.6 L136.9,288.7 L138.4,290.8 L140.0,292.7 L141.6,294.6 L143.1,296.3 L144.7,298.1 L146.2,299.7 L147.8,301.3 L149.3,302.9 L150.9,304.4 L152.5,305.8 L154.1,307.2 L155.7,308.5 L157.3,309.8 L158.9,310.9 L160.5,312.1 L162.1,313.1 L163.7,314.2 L165.3,315.2 L166.9,316.2 L168.6,317.1 L170.4,318.1 L172.1,319.0 L173.8,319.9 L175.6,320.7 L177.3,321.6 L179.1,322.3 L180.9,323.1 L182.7,323.8 L184.5,324.6 L186.5,325.3 L188.6,326.1 L190.8,326.8 L192.9,327.5 L195.1,328.2 L197.2,328.9 L199.1,329.4 L200.7,330.0 L202.1,330.4 L203.2,330.7 L206.8,319.3 L205.7,318.9 L204.2,318.5 L202.6,318.0 L200.7,317.4 L198.7,316.8 L196.6,316.1 L194.5,315.4 L192.5,314.8 L190.6,314.1 L188.9,313.4 L187.2,312.7 L185.6,312.0 L183.9,311.3 L182.3,310.6 L180.7,309.9 L179.1,309.1 L177.6,308.4 L176.1,307.5 L174.6,306.7 L173.1,305.8 L171.6,304.9 L170.1,304.0 L168.7,303.1 L167.3,302.2 L165.9,301.2 L164.5,300.2 L163.2,299.1 L161.8,298.0 L160.5,296.9 L159.1,295.6 L157.7,294.3 L156.3,292.9 L154.9,291.5 L153.5,290.0 L152.1,288.4 L150.7,286.8 L149.3,285.1 L147.8,283.3 L146.3,281.4 L144.8,279.4 L143.2,277.3 L141.6,275.0 L140.0,272.7 L138.3,270.2 L136.6,267.7 L134.8,265.1 L133.1,262.5 L131.4,259.9 L129.7,257.3 L128.0,254.7 L126.4,252.2 L124.8,249.6 L123.1,246.9 L121.5,244.2 L119.8,241.5 L118.2,238.8 L116.5,236.1 L114.9,233.5 L113.3,231.0 L111.6,228.6 L110.0,226.2 L108.2,223.9 L106.5,221.5 L104.7,219.3 L103.0,217.1 L101.4,215.1 L99.9,213.3 L98.6,211.7 L97.6,210.4 L96.7,209.3 Z" fill="#bdb86e" stroke="#34321a" stroke-width="1.3" stroke-linejoin="round"/><path d="M92.9,214.1 L94.0,215.5 L95.3,217.1 L96.7,218.9 L98.3,220.9 L100.0,223.0 L101.7,225.2 L103.4,227.4 L105.1,229.7 L106.7,232.0 L108.3,234.3 L109.8,236.8 L111.5,239.3 L113.1,241.9 L114.7,244.6 L116.4,247.3 L118.0,250.1 L119.7,252.8 L121.3,255.4 L123.0,258.0 L124.7,260.6 L126.4,263.2 L128.1,265.8 L129.8,268.5 L131.6,271.1 L133.3,273.6 L135.0,276.1 L136.7,278.5 L138.4,280.8 L140.0,283.0 L141.6,285.1 L143.1,287.0 L144.6,288.9 L146.1,290.7 L147.6,292.4 L149.1,294.0 L150.6,295.6 L152.0,297.1 L153.5,298.6 L155.0,300.0 L156.5,301.4 L158.0,302.6 L159.4,303.8 L160.9,305.0 L162.4,306.1 L163.9,307.1 L165.4,308.1 L166.9,309.1 L168.4,310.0 L170.0,311.0 L171.6,311.9 L173.2,312.8 L174.8,313.7 L176.5,314.5 L178.1,315.3 L179.8,316.1 L181.5,316.8 L183.2,317.6 L185.0,318.3 L186.7,319.0 L188.5,319.7 L190.6,320.4 L192.6,321.1 L194.8,321.8 L196.9,322.5 L198.9,323.1 L200.8,323.7 L202.5,324.2 L203.9,324.7" fill="none" stroke="#ebe9ad" stroke-width="6.0" stroke-linecap="round" filter="url(#bl)"/>
<path d="M217.8,327.7 L216.9,327.2 L215.8,326.6 L214.4,325.9 L212.8,325.0 L211.2,324.1 L209.4,323.2 L207.7,322.3 L206.0,321.4 L204.3,320.5 L202.8,319.7 L201.5,319.0 L200.3,318.4 L199.2,317.7 L198.1,317.1 L196.9,316.5 L195.7,315.8 L194.4,315.1 L192.9,314.4 L191.2,313.5 L189.3,312.6 L187.1,311.6 L184.7,310.5 L182.1,309.3 L179.4,308.1 L176.6,306.9 L173.8,305.7 L170.9,304.4 L168.1,303.1 L165.4,301.7 L162.8,300.4 L160.2,299.0 L157.5,297.5 L154.7,295.9 L152.0,294.3 L149.2,292.7 L146.5,291.0 L143.9,289.4 L141.3,287.8 L138.9,286.2 L136.6,284.7 L134.5,283.3 L132.5,281.9 L130.6,280.6 L128.9,279.3 L127.2,278.1 L125.5,276.8 L123.9,275.5 L122.2,274.2 L120.6,272.8 L118.9,271.4 L117.2,270.0 L115.6,268.5 L113.9,266.9 L112.2,265.2 L110.4,263.5 L108.7,261.8 L107.0,260.1 L105.3,258.5 L103.6,256.9 L101.9,255.4 L100.2,254.0 L98.5,252.8 L97.0,251.6 L95.4,250.6 L94.0,249.6 L92.6,248.6 L91.2,247.8 L90.0,246.9 L88.8,246.1 L87.6,245.2 L86.4,244.3 L89.7,240.5 L73.0,241.0 L75.7,257.5 L79.0,253.7 L80.4,254.8 L81.8,255.8 L83.2,256.8 L84.5,257.7 L85.9,258.6 L87.3,259.5 L88.6,260.5 L90.0,261.4 L91.4,262.4 L92.7,263.5 L94.1,264.6 L95.6,265.8 L97.1,267.2 L98.7,268.7 L100.3,270.4 L102.0,272.0 L103.8,273.8 L105.5,275.5 L107.4,277.2 L109.2,278.9 L111.1,280.6 L112.9,282.1 L114.7,283.5 L116.4,284.9 L118.1,286.3 L119.9,287.6 L121.8,289.0 L123.7,290.4 L125.7,291.8 L127.8,293.2 L130.0,294.7 L132.4,296.3 L134.9,297.9 L137.5,299.5 L140.2,301.2 L143.0,302.9 L145.9,304.6 L148.7,306.3 L151.6,307.9 L154.4,309.5 L157.2,311.0 L160.0,312.5 L163.0,313.9 L165.9,315.3 L168.9,316.6 L171.8,317.9 L174.6,319.1 L177.3,320.3 L179.8,321.4 L182.1,322.5 L184.1,323.4 L185.9,324.3 L187.5,325.1 L188.9,325.8 L190.1,326.4 L191.2,327.0 L192.3,327.6 L193.4,328.2 L194.6,328.9 L195.8,329.6 L197.2,330.3 L198.7,331.1 L200.3,332.0 L202.0,332.9 L203.8,333.8 L205.5,334.7 L207.2,335.6 L208.7,336.4 L210.1,337.2 L211.3,337.8 L212.2,338.3 Z" fill="#b3ae6c" stroke="#34321a" stroke-width="1.3" stroke-linejoin="round"/><path d="M214.1,332.5 L212.9,331.9 L211.5,331.2 L210.0,330.3 L208.3,329.4 L206.6,328.5 L204.8,327.6 L203.1,326.7 L201.5,325.8 L200.0,325.0 L198.7,324.3 L197.4,323.6 L196.3,323.0 L195.2,322.4 L194.1,321.8 L192.9,321.1 L191.6,320.5 L190.2,319.7 L188.6,318.9 L186.7,318.0 L184.6,317.0 L182.2,315.9 L179.7,314.8 L177.0,313.6 L174.2,312.4 L171.3,311.1 L168.4,309.8 L165.6,308.5 L162.7,307.1 L160.0,305.7 L157.3,304.2 L154.5,302.7 L151.7,301.1 L148.9,299.5 L146.1,297.8 L143.4,296.1 L140.7,294.4 L138.1,292.8 L135.6,291.2 L133.3,289.7 L131.1,288.2 L129.1,286.8 L127.2,285.5 L125.3,284.2 L123.5,282.8 L121.8,281.5 L120.1,280.2 L118.4,278.9 L116.7,277.5 L115.0,276.0 L113.2,274.5 L111.5,272.9 L109.7,271.2 L108.0,269.5 L106.2,267.8 L104.5,266.1 L102.8,264.4 L101.2,262.9 L99.6,261.4 L98.0,260.0 L96.5,258.8 L95.0,257.6 L93.5,256.5 L92.0,255.5 L90.6,254.6 L89.2,253.6 L87.9,252.7 L86.6,251.8 L85.3,250.9 L84.0,250.0" fill="none" stroke="#dcd99c" stroke-width="6.0" stroke-linecap="round" filter="url(#bl)"/>
<path d="M204.7,314.8 L203.1,313.3 L200.8,311.3 L198.2,308.9 L195.3,306.3 L192.2,303.5 L189.1,300.6 L186.0,297.7 L183.1,295.0 L180.5,292.5 L178.5,290.3 L176.8,288.4 L175.3,286.5 L174.0,284.7 L172.8,283.0 L171.6,281.2 L170.5,279.4 L169.4,277.6 L168.2,275.8 L166.9,273.9 L165.6,272.1 L164.1,270.2 L162.7,268.6 L161.3,267.0 L160.0,265.6 L158.7,264.2 L157.6,262.9 L156.5,261.7 L155.5,260.6 L154.7,259.4 L153.9,258.3 L153.2,257.1 L152.6,256.0 L152.1,254.9 L151.6,253.7 L151.1,252.4 L150.6,251.0 L150.0,249.4 L149.4,247.7 L148.6,245.8 L147.8,243.7 L146.9,241.4 L145.9,239.0 L144.8,236.4 L143.7,233.8 L142.6,231.0 L141.4,228.3 L140.3,225.5 L139.3,222.7 L138.2,220.0 L137.3,217.4 L136.4,214.7 L135.4,212.0 L134.5,209.3 L133.6,206.5 L132.8,203.9 L132.0,201.2 L131.2,198.7 L130.6,196.2 L130.0,193.9 L129.6,191.8 L129.3,189.7 L129.1,187.7 L134.1,188.2 L122.0,173.0 L110.1,188.3 L115.1,188.8 L115.4,191.5 L115.8,194.2 L116.4,196.9 L117.0,199.6 L117.7,202.4 L118.5,205.2 L119.4,208.0 L120.3,210.9 L121.2,213.7 L122.2,216.5 L123.1,219.3 L124.1,222.0 L125.1,224.8 L126.2,227.7 L127.3,230.6 L128.4,233.5 L129.6,236.3 L130.7,239.1 L131.9,241.8 L132.9,244.4 L133.9,246.8 L134.8,248.9 L135.6,250.9 L136.2,252.6 L136.9,254.3 L137.4,255.9 L138.0,257.4 L138.7,259.0 L139.3,260.6 L140.1,262.3 L141.0,264.0 L142.1,265.7 L143.3,267.5 L144.5,269.2 L145.8,270.8 L147.1,272.3 L148.4,273.7 L149.7,275.1 L150.9,276.4 L152.2,277.8 L153.3,279.1 L154.4,280.5 L155.5,282.0 L156.5,283.5 L157.6,285.1 L158.7,286.9 L159.8,288.8 L161.1,290.8 L162.6,292.9 L164.2,295.1 L166.1,297.4 L168.1,299.7 L170.6,302.3 L173.3,305.0 L176.4,307.9 L179.5,310.9 L182.8,313.8 L185.9,316.7 L188.8,319.3 L191.5,321.7 L193.6,323.7 L195.3,325.2 Z" fill="#bdb86e" stroke="#34321a" stroke-width="1.3" stroke-linejoin="round"/><path d="M198.4,318.5 L196.2,316.5 L193.5,314.1 L190.6,311.5 L187.5,308.7 L184.3,305.7 L181.2,302.8 L178.2,300.0 L175.5,297.4 L173.3,295.0 L171.4,292.9 L169.8,290.8 L168.3,288.8 L167.0,286.9 L165.7,285.0 L164.6,283.2 L163.5,281.4 L162.4,279.7 L161.2,278.0 L160.0,276.3 L158.7,274.7 L157.4,273.2 L156.1,271.7 L154.9,270.3 L153.6,269.0 L152.4,267.6 L151.2,266.3 L150.0,264.9 L149.0,263.5 L148.0,262.0 L147.1,260.5 L146.4,259.1 L145.7,257.7 L145.1,256.3 L144.6,254.9 L144.0,253.4 L143.4,251.9 L142.8,250.2 L142.1,248.3 L141.3,246.3 L140.4,244.1 L139.4,241.7 L138.3,239.1 L137.2,236.4 L136.1,233.7 L134.9,230.9 L133.8,228.0 L132.7,225.2 L131.7,222.4 L130.7,219.7 L129.8,217.0 L128.8,214.3 L127.9,211.5 L127.0,208.7 L126.1,205.9 L125.2,203.2 L124.5,200.5 L123.8,197.9 L123.2,195.4 L122.7,193.0 L122.3,190.6" fill="none" stroke="#ebe9ad" stroke-width="7.0" stroke-linecap="round" filter="url(#bl)"/>
<path d="M143.4,172.5 L143.6,174.0 L143.8,176.0 L144.1,178.4 L144.4,181.1 L144.8,184.1 L145.2,187.2 L145.7,190.4 L146.2,193.6 L146.8,196.8 L147.5,199.7 L148.2,202.6 L149.1,205.4 L150.0,208.1 L151.0,210.9 L152.0,213.6 L153.0,216.2 L154.0,218.9 L155.0,221.6 L156.1,224.3 L157.0,227.0 L158.0,229.8 L159.0,232.8 L160.0,236.0 L161.0,239.2 L162.0,242.4 L163.1,245.7 L164.2,248.9 L165.4,252.0 L166.6,254.9 L167.9,257.7 L169.4,260.3 L170.8,262.6 L172.3,264.7 L173.8,266.6 L175.3,268.4 L176.8,270.0 L178.2,271.5 L179.5,273.0 L180.7,274.4 L182.0,276.0 L183.3,277.7 L184.7,279.6 L186.2,281.4 L187.6,283.2 L189.0,285.0 L190.4,286.8 L191.7,288.5 L192.9,290.2 L194.0,291.8 L195.0,293.2 L195.8,294.7 L196.6,296.0 L197.3,297.3 L198.0,298.5 L198.6,299.8 L199.2,301.0 L199.8,302.3 L200.3,303.5 L200.9,304.9 L201.4,306.3 L202.0,307.7 L202.6,309.2 L203.1,310.8 L199.3,311.9 L212.0,319.0 L218.3,305.9 L214.5,307.0 L213.9,305.2 L213.2,303.4 L212.6,301.7 L211.9,300.3 L211.3,298.8 L210.7,297.4 L210.1,296.0 L209.4,294.6 L208.7,293.1 L207.9,291.6 L207.0,290.0 L206.1,288.4 L205.0,286.8 L203.9,285.0 L202.6,283.2 L201.3,281.4 L199.9,279.5 L198.5,277.7 L197.1,275.8 L195.6,274.0 L194.2,272.2 L192.8,270.4 L191.4,268.6 L190.0,266.8 L188.5,265.1 L187.0,263.5 L185.7,261.9 L184.3,260.5 L183.1,259.0 L181.9,257.5 L180.8,255.9 L179.7,254.2 L178.7,252.3 L177.6,250.1 L176.6,247.6 L175.5,244.8 L174.5,241.8 L173.5,238.7 L172.4,235.6 L171.4,232.3 L170.4,229.2 L169.4,226.0 L168.4,223.0 L167.3,220.1 L166.3,217.3 L165.2,214.6 L164.2,211.9 L163.2,209.3 L162.3,206.8 L161.4,204.2 L160.5,201.8 L159.8,199.3 L159.1,196.9 L158.5,194.3 L158.0,191.5 L157.5,188.5 L157.1,185.5 L156.7,182.6 L156.3,179.7 L156.0,177.0 L155.7,174.6 L155.5,172.5 L155.2,170.9 Z" fill="#bdb86e" stroke="#34321a" stroke-width="1.3" stroke-linejoin="round"/><path d="M149.5,173.3 L149.8,175.3 L150.0,177.7 L150.4,180.4 L150.7,183.3 L151.1,186.4 L151.6,189.5 L152.1,192.5 L152.7,195.5 L153.3,198.3 L154.0,201.0 L154.8,203.6 L155.7,206.2 L156.6,208.8 L157.6,211.4 L158.6,214.1 L159.6,216.7 L160.7,219.4 L161.7,222.2 L162.7,225.0 L163.7,227.9 L164.7,231.0 L165.7,234.2 L166.7,237.4 L167.8,240.6 L168.8,243.8 L169.9,246.8 L171.0,249.8 L172.1,252.5 L173.3,255.0 L174.5,257.2 L175.8,259.3 L177.1,261.1 L178.5,262.8 L179.8,264.4 L181.2,266.0 L182.6,267.5 L184.0,269.0 L185.4,270.6 L186.7,272.3 L188.1,274.1 L189.5,275.9 L190.9,277.7 L192.3,279.5 L193.7,281.4 L195.1,283.2 L196.5,284.9 L197.7,286.7 L198.9,288.4 L200.0,290.0 L201.0,291.5 L201.8,293.0 L202.6,294.4 L203.3,295.8 L204.0,297.2 L204.6,298.5 L205.2,299.8 L205.8,301.2 L206.4,302.6 L207.0,304.0 L207.6,305.5 L208.2,307.2" fill="none" stroke="#ebe9ad" stroke-width="6.0" stroke-linecap="round" filter="url(#bl)"/>
<path d="M230.9,293.0 L229.9,292.0 L228.6,290.8 L227.1,289.3 L225.4,287.7 L223.6,286.0 L221.8,284.2 L220.0,282.4 L218.2,280.6 L216.6,278.9 L215.2,277.4 L213.9,275.8 L212.6,274.3 L211.3,272.7 L210.0,271.2 L208.8,269.7 L207.7,268.2 L206.7,266.8 L205.8,265.4 L204.9,264.1 L204.2,262.8 L203.7,261.6 L203.2,260.4 L202.8,259.1 L202.4,257.7 L202.1,256.2 L201.7,254.6 L201.4,252.9 L201.0,251.2 L200.5,249.4 L199.9,247.7 L199.3,246.0 L198.6,244.6 L198.0,243.4 L197.4,242.3 L196.9,241.4 L196.5,240.6 L196.0,239.8 L195.6,238.9 L195.2,237.7 L194.7,236.1 L194.0,234.2 L193.4,232.0 L192.7,229.8 L191.9,227.4 L191.2,224.9 L190.5,222.3 L189.9,219.6 L189.3,216.7 L188.7,213.8 L188.2,210.7 L187.8,207.3 L187.3,203.6 L186.9,199.6 L186.6,195.4 L186.2,191.2 L186.0,187.0 L185.8,182.9 L185.6,178.9 L185.6,175.3 L185.7,172.0 L185.9,169.0 L186.1,166.2 L186.5,163.6 L186.9,161.1 L187.3,158.7 L187.9,156.4 L188.5,154.1 L189.1,151.9 L189.9,149.6 L190.6,147.3 L191.4,145.1 L192.4,142.8 L193.5,140.4 L194.7,138.0 L199.0,140.6 L195.0,123.0 L178.0,129.0 L182.3,131.6 L180.9,134.3 L179.6,137.1 L178.4,139.9 L177.4,142.7 L176.5,145.3 L175.7,147.8 L175.0,150.4 L174.3,153.0 L173.7,155.7 L173.1,158.6 L172.6,161.6 L172.2,164.7 L171.9,168.0 L171.7,171.4 L171.6,175.2 L171.7,179.2 L171.8,183.4 L172.0,187.8 L172.3,192.2 L172.6,196.6 L173.0,200.9 L173.4,205.1 L173.9,209.0 L174.4,212.7 L174.9,216.2 L175.5,219.5 L176.2,222.7 L177.0,225.7 L177.7,228.6 L178.5,231.3 L179.3,233.9 L180.0,236.2 L180.7,238.4 L181.3,240.5 L182.0,242.4 L182.7,244.2 L183.4,245.7 L184.0,247.1 L184.7,248.2 L185.2,249.1 L185.6,249.9 L186.0,250.7 L186.3,251.4 L186.7,252.3 L187.0,253.4 L187.4,254.6 L187.7,256.0 L188.0,257.6 L188.4,259.3 L188.8,261.1 L189.4,263.0 L190.0,265.1 L190.8,267.1 L191.8,269.2 L192.8,271.1 L194.0,273.0 L195.2,274.8 L196.4,276.6 L197.8,278.3 L199.1,280.0 L200.5,281.7 L201.9,283.3 L203.3,285.0 L204.8,286.6 L206.4,288.4 L208.2,290.3 L210.0,292.2 L212.0,294.1 L213.9,296.0 L215.7,297.8 L217.4,299.4 L218.9,300.9 L220.2,302.1 L221.1,303.0 Z" fill="#bdb86e" stroke="#34321a" stroke-width="1.3" stroke-linejoin="round"/><path d="M225.0,297.0 L223.8,295.8 L222.2,294.4 L220.6,292.8 L218.8,291.0 L216.9,289.2 L215.0,287.3 L213.2,285.5 L211.5,283.7 L210.0,282.0 L208.6,280.4 L207.2,278.8 L205.9,277.2 L204.6,275.6 L203.3,274.0 L202.1,272.4 L200.9,270.8 L199.9,269.2 L198.9,267.6 L198.0,266.0 L197.2,264.4 L196.6,262.7 L196.1,261.1 L195.6,259.4 L195.2,257.7 L194.9,256.1 L194.5,254.5 L194.2,252.9 L193.8,251.4 L193.3,250.0 L192.8,248.7 L192.3,247.6 L191.8,246.6 L191.3,245.7 L190.8,244.8 L190.2,243.8 L189.7,242.8 L189.2,241.5 L188.6,240.1 L188.0,238.3 L187.4,236.3 L186.7,234.1 L186.0,231.8 L185.2,229.4 L184.5,226.8 L183.8,224.0 L183.1,221.1 L182.4,218.1 L181.8,215.0 L181.3,211.7 L180.8,208.2 L180.4,204.3 L180.0,200.3 L179.6,196.0 L179.3,191.7 L179.0,187.4 L178.8,183.1 L178.6,179.1 L178.6,175.2 L178.7,171.7 L178.9,168.5 L179.2,165.4 L179.5,162.6 L180.0,159.8 L180.5,157.2 L181.1,154.7 L181.7,152.2 L182.4,149.8 L183.2,147.4 L184.0,145.0 L184.9,142.5 L186.0,139.9 L187.2,137.4" fill="none" stroke="#ebe9ad" stroke-width="7.0" stroke-linecap="round" filter="url(#bl)"/>
<path d="M196.0,121.0 C197.2,119.7 200.5,113.7 203.0,113.0 C205.5,112.3 209.7,116.3 211.0,117.0" fill="none" stroke="#34321a" stroke-width="5.6" stroke-linecap="round" stroke-linejoin="round"/><path d="M196.0,121.0 C197.2,119.7 200.5,113.7 203.0,113.0 C205.5,112.3 209.7,116.3 211.0,117.0" fill="none" stroke="#c2bd78" stroke-width="3.4" stroke-linecap="round" stroke-linejoin="round"/><path d="M196.0,121.0 C197.2,119.7 200.5,113.7 203.0,113.0 C205.5,112.3 209.7,116.3 211.0,117.0" fill="none" stroke="#e6e4a8" stroke-width="1.4" stroke-linecap="round" stroke-linejoin="round" transform="translate(-0.4,-0.5)"/>
<path d="M204.4,119.7 L204.8,121.3 L205.2,123.4 L205.7,125.8 L206.3,128.5 L206.9,131.4 L207.5,134.4 L208.1,137.5 L208.8,140.6 L209.3,143.5 L209.8,146.2 L210.2,148.8 L210.6,151.4 L211.0,154.0 L211.4,156.7 L211.8,159.3 L212.1,162.0 L212.5,164.7 L212.9,167.4 L213.3,170.1 L213.8,172.9 L214.3,175.6 L214.7,178.2 L215.2,180.9 L215.7,183.6 L216.2,186.3 L216.8,189.0 L217.3,191.8 L217.9,194.5 L218.5,197.2 L219.2,200.0 L219.9,202.8 L220.7,205.6 L221.5,208.3 L222.4,211.1 L223.2,213.8 L224.1,216.4 L224.9,219.1 L225.7,221.7 L226.5,224.3 L227.3,226.9 L228.0,229.5 L228.7,232.3 L229.4,235.1 L230.1,238.0 L230.8,240.8 L231.5,243.6 L232.2,246.3 L232.8,248.8 L233.4,251.2 L233.9,253.3 L234.4,255.3 L229.5,256.4 L244.0,266.0 L252.9,251.0 L248.0,252.1 L247.5,250.1 L247.0,247.9 L246.4,245.5 L245.8,243.0 L245.1,240.3 L244.4,237.4 L243.7,234.6 L243.0,231.7 L242.3,228.8 L241.5,225.9 L240.7,223.1 L240.0,220.4 L239.1,217.6 L238.3,214.9 L237.4,212.2 L236.6,209.5 L235.7,206.9 L234.9,204.3 L234.2,201.7 L233.5,199.1 L232.8,196.6 L232.2,194.0 L231.6,191.5 L231.0,188.9 L230.5,186.3 L230.0,183.7 L229.5,181.1 L229.0,178.4 L228.5,175.8 L228.1,173.2 L227.6,170.5 L227.2,167.9 L226.8,165.3 L226.4,162.7 L226.0,160.1 L225.6,157.4 L225.3,154.7 L224.9,152.0 L224.5,149.3 L224.1,146.5 L223.6,143.8 L223.1,140.9 L222.5,137.9 L221.9,134.8 L221.2,131.6 L220.6,128.6 L220.0,125.6 L219.4,122.9 L218.9,120.5 L218.5,118.5 L218.2,116.9 Z" fill="#bdb86e" stroke="#34321a" stroke-width="1.3" stroke-linejoin="round"/><path d="M211.6,119.9 L212.1,121.9 L212.6,124.3 L213.1,127.1 L213.8,130.0 L214.4,133.0 L215.0,136.1 L215.6,139.2 L216.2,142.2 L216.7,145.0 L217.2,147.7 L217.6,150.3 L218.0,153.0 L218.3,155.7 L218.7,158.4 L219.1,161.0 L219.4,163.7 L219.8,166.4 L220.3,169.0 L220.7,171.7 L221.2,174.4 L221.6,177.0 L222.1,179.7 L222.6,182.3 L223.1,185.0 L223.6,187.7 L224.2,190.3 L224.7,193.0 L225.4,195.6 L226.0,198.3 L226.7,201.0 L227.4,203.6 L228.2,206.3 L229.1,209.0 L229.9,211.6 L230.8,214.3 L231.6,217.0 L232.4,219.7 L233.2,222.3 L234.0,225.0 L234.7,227.7 L235.5,230.5 L236.2,233.4 L236.9,236.3 L237.6,239.1 L238.3,241.9 L239.0,244.6 L239.6,247.2 L240.2,249.5 L240.7,251.7" fill="none" stroke="#ebe9ad" stroke-width="7.0" stroke-linecap="round" filter="url(#bl)"/>
<path d="M200.0,272.4 L200.5,273.4 L201.2,274.9 L202.0,276.6 L202.9,278.7 L203.9,280.8 L204.9,283.1 L206.0,285.3 L207.2,287.4 L208.3,289.4 L209.6,291.2 L210.9,292.9 L212.3,294.3 L210.9,297.7 L224.0,296.0 L221.3,283.0 L219.9,286.4 L219.1,285.6 L218.4,284.8 L217.7,283.6 L216.8,282.1 L215.8,280.3 L214.8,278.3 L213.9,276.2 L212.9,274.1 L212.0,272.1 L211.2,270.3 L210.5,268.8 L210.0,267.6 Z" fill="#bdb86e" stroke="#34321a" stroke-width="1.3" stroke-linejoin="round"/><path d="M205.5,271.1 L206.2,272.6 L207.0,274.4 L207.9,276.4 L208.9,278.5 L209.9,280.7 L210.9,282.8 L212.0,284.8 L213.0,286.5 L214.0,288.0 L215.0,289.2" fill="none" stroke="#ebe9ad" stroke-width="5.5" stroke-linecap="round" filter="url(#bl)"/>
<path d="M84.0,265.7 C84.7,267.9 85.3,275.2 88.0,279.0 C90.7,282.8 96.2,286.1 100.0,288.3 C103.8,290.5 108.9,291.6 110.7,292.3" fill="none" stroke="#34321a" stroke-width="5.6" stroke-linecap="round" stroke-linejoin="round"/><path d="M84.0,265.7 C84.7,267.9 85.3,275.2 88.0,279.0 C90.7,282.8 96.2,286.1 100.0,288.3 C103.8,290.5 108.9,291.6 110.7,292.3" fill="none" stroke="#c2bd78" stroke-width="3.4" stroke-linecap="round" stroke-linejoin="round"/><path d="M84.0,265.7 C84.7,267.9 85.3,275.2 88.0,279.0 C90.7,282.8 96.2,286.1 100.0,288.3 C103.8,290.5 108.9,291.6 110.7,292.3" fill="none" stroke="#e6e4a8" stroke-width="1.4" stroke-linecap="round" stroke-linejoin="round" transform="translate(-0.4,-0.5)"/>
<path d="M141.5,294.7 L140.5,294.6 L139.3,294.4 L137.8,294.2 L136.2,293.9 L134.5,293.6 L132.7,293.3 L130.8,293.0 L129.0,292.7 L127.2,292.4 L125.6,292.1 L124.0,291.7 L122.2,291.3 L120.4,290.9 L118.6,290.4 L116.8,289.9 L115.0,289.5 L115.6,287.1 L109.0,291.0 L112.9,297.7 L113.5,295.3 L115.2,295.7 L117.1,296.2 L119.0,296.7 L120.8,297.1 L122.7,297.6 L124.4,297.9 L126.1,298.3 L127.9,298.6 L129.8,298.9 L131.7,299.3 L133.5,299.6 L135.3,299.8 L136.9,300.1 L138.4,300.3 L139.6,300.5 L140.5,300.7 Z" fill="#bdb86e" stroke="#34321a" stroke-width="1.3" stroke-linejoin="round"/><path d="M140.0,297.5 L138.8,297.4 L137.4,297.1 L135.8,296.9 L134.0,296.6 L132.2,296.3 L130.3,296.0 L128.5,295.7 L126.7,295.3 L125.0,295.0 L123.3,294.6 L121.5,294.2 L119.7,293.8 L117.8,293.3 L116.0,292.8" fill="none" stroke="#ebe9ad" stroke-width="3.0" stroke-linecap="round" filter="url(#bl)"/>
<path d="M101.3,309.7 C102.6,310.4 107.1,313.9 109.3,313.7 C111.5,313.5 112.5,310.1 114.7,308.3 C116.9,306.5 118.3,304.6 122.7,303.0 C127.1,301.4 138.2,299.7 141.3,299.0" fill="none" stroke="#34321a" stroke-width="5.6" stroke-linecap="round" stroke-linejoin="round"/><path d="M101.3,309.7 C102.6,310.4 107.1,313.9 109.3,313.7 C111.5,313.5 112.5,310.1 114.7,308.3 C116.9,306.5 118.3,304.6 122.7,303.0 C127.1,301.4 138.2,299.7 141.3,299.0" fill="none" stroke="#c2bd78" stroke-width="3.4" stroke-linecap="round" stroke-linejoin="round"/><path d="M101.3,309.7 C102.6,310.4 107.1,313.9 109.3,313.7 C111.5,313.5 112.5,310.1 114.7,308.3 C116.9,306.5 118.3,304.6 122.7,303.0 C127.1,301.4 138.2,299.7 141.3,299.0" fill="none" stroke="#e6e4a8" stroke-width="1.4" stroke-linecap="round" stroke-linejoin="round" transform="translate(-0.4,-0.5)"/>
<path d="M243.3,268.3 C242.9,270.5 240.2,276.6 240.7,281.7 C241.1,286.8 242.9,294.6 246.0,299.0 C249.1,303.4 255.3,307.2 259.3,308.3 C263.3,309.4 266.0,306.8 270.0,305.7 C274.0,304.6 279.8,302.6 283.3,301.7 C286.9,300.8 290.0,300.3 291.3,300.0" fill="none" stroke="#34321a" stroke-width="5.6" stroke-linecap="round" stroke-linejoin="round"/><path d="M243.3,268.3 C242.9,270.5 240.2,276.6 240.7,281.7 C241.1,286.8 242.9,294.6 246.0,299.0 C249.1,303.4 255.3,307.2 259.3,308.3 C263.3,309.4 266.0,306.8 270.0,305.7 C274.0,304.6 279.8,302.6 283.3,301.7 C286.9,300.8 290.0,300.3 291.3,300.0" fill="none" stroke="#c2bd78" stroke-width="3.4" stroke-linecap="round" stroke-linejoin="round"/><path d="M243.3,268.3 C242.9,270.5 240.2,276.6 240.7,281.7 C241.1,286.8 242.9,294.6 246.0,299.0 C249.1,303.4 255.3,307.2 259.3,308.3 C263.3,309.4 266.0,306.8 270.0,305.7 C274.0,304.6 279.8,302.6 283.3,301.7 C286.9,300.8 290.0,300.3 291.3,300.0" fill="none" stroke="#e6e4a8" stroke-width="1.4" stroke-linecap="round" stroke-linejoin="round" transform="translate(-0.4,-0.5)"/>
<path d="M280.7,297.7 C281.6,297.0 283.3,293.9 286.0,293.7 C288.7,293.5 293.4,293.4 296.7,296.3 C300.0,299.2 303.8,306.8 306.0,311.0 C308.2,315.2 312.0,317.7 310.0,321.7 C308.0,325.7 297.8,332.3 294.0,335.0 C290.2,337.7 290.0,339.9 287.3,337.7 C284.6,335.5 279.8,325.9 278.0,321.7 C276.2,317.5 276.2,316.3 276.7,312.3 C277.1,308.3 280.0,300.1 280.7,297.7" fill="none" stroke="#34321a" stroke-width="5.6" stroke-linecap="round" stroke-linejoin="round"/><path d="M280.7,297.7 C281.6,297.0 283.3,293.9 286.0,293.7 C288.7,293.5 293.4,293.4 296.7,296.3 C300.0,299.2 303.8,306.8 306.0,311.0 C308.2,315.2 312.0,317.7 310.0,321.7 C308.0,325.7 297.8,332.3 294.0,335.0 C290.2,337.7 290.0,339.9 287.3,337.7 C284.6,335.5 279.8,325.9 278.0,321.7 C276.2,317.5 276.2,316.3 276.7,312.3 C277.1,308.3 280.0,300.1 280.7,297.7" fill="none" stroke="#c2bd78" stroke-width="3.4" stroke-linecap="round" stroke-linejoin="round"/><path d="M280.7,297.7 C281.6,297.0 283.3,293.9 286.0,293.7 C288.7,293.5 293.4,293.4 296.7,296.3 C300.0,299.2 303.8,306.8 306.0,311.0 C308.2,315.2 312.0,317.7 310.0,321.7 C308.0,325.7 297.8,332.3 294.0,335.0 C290.2,337.7 290.0,339.9 287.3,337.7 C284.6,335.5 279.8,325.9 278.0,321.7 C276.2,317.5 276.2,316.3 276.7,312.3 C277.1,308.3 280.0,300.1 280.7,297.7" fill="none" stroke="#e6e4a8" stroke-width="1.4" stroke-linecap="round" stroke-linejoin="round" transform="translate(-0.4,-0.5)"/>
<path d="M230.0,291.0 C231.1,293.9 235.4,301.9 236.7,308.3 C238.0,314.8 239.1,324.6 238.0,329.7 C236.9,334.8 233.1,338.8 230.0,339.0 C226.9,339.2 222.3,334.5 219.3,331.0 C216.3,327.5 213.2,320.2 212.0,318.0" fill="none" stroke="#34321a" stroke-width="5.6" stroke-linecap="round" stroke-linejoin="round"/><path d="M230.0,291.0 C231.1,293.9 235.4,301.9 236.7,308.3 C238.0,314.8 239.1,324.6 238.0,329.7 C236.9,334.8 233.1,338.8 230.0,339.0 C226.9,339.2 222.3,334.5 219.3,331.0 C216.3,327.5 213.2,320.2 212.0,318.0" fill="none" stroke="#c2bd78" stroke-width="3.4" stroke-linecap="round" stroke-linejoin="round"/><path d="M230.0,291.0 C231.1,293.9 235.4,301.9 236.7,308.3 C238.0,314.8 239.1,324.6 238.0,329.7 C236.9,334.8 233.1,338.8 230.0,339.0 C226.9,339.2 222.3,334.5 219.3,331.0 C216.3,327.5 213.2,320.2 212.0,318.0" fill="none" stroke="#e6e4a8" stroke-width="1.4" stroke-linecap="round" stroke-linejoin="round" transform="translate(-0.4,-0.5)"/>
<path d="M190.0,316.3 C194.4,317.6 207.8,323.2 216.7,324.3 C225.6,325.4 235.5,325.2 243.3,323.0 C251.1,320.8 260.0,313.0 263.3,311.0" fill="none" stroke="#34321a" stroke-width="5.6" stroke-linecap="round" stroke-linejoin="round"/><path d="M190.0,316.3 C194.4,317.6 207.8,323.2 216.7,324.3 C225.6,325.4 235.5,325.2 243.3,323.0 C251.1,320.8 260.0,313.0 263.3,311.0" fill="none" stroke="#c2bd78" stroke-width="3.4" stroke-linecap="round" stroke-linejoin="round"/><path d="M190.0,316.3 C194.4,317.6 207.8,323.2 216.7,324.3 C225.6,325.4 235.5,325.2 243.3,323.0 C251.1,320.8 260.0,313.0 263.3,311.0" fill="none" stroke="#e6e4a8" stroke-width="1.4" stroke-linecap="round" stroke-linejoin="round" transform="translate(-0.4,-0.5)"/>
<path d="M215.0,326.7 C216.4,328.4 219.1,334.2 223.3,336.7 C227.5,339.2 233.6,342.8 240.0,341.7 C246.4,340.6 256.0,333.9 262.0,330.0 C268.0,326.1 273.7,320.0 276.0,318.0" fill="none" stroke="#34321a" stroke-width="5.6" stroke-linecap="round" stroke-linejoin="round"/><path d="M215.0,326.7 C216.4,328.4 219.1,334.2 223.3,336.7 C227.5,339.2 233.6,342.8 240.0,341.7 C246.4,340.6 256.0,333.9 262.0,330.0 C268.0,326.1 273.7,320.0 276.0,318.0" fill="none" stroke="#c2bd78" stroke-width="3.4" stroke-linecap="round" stroke-linejoin="round"/><path d="M215.0,326.7 C216.4,328.4 219.1,334.2 223.3,336.7 C227.5,339.2 233.6,342.8 240.0,341.7 C246.4,340.6 256.0,333.9 262.0,330.0 C268.0,326.1 273.7,320.0 276.0,318.0" fill="none" stroke="#e6e4a8" stroke-width="1.4" stroke-linecap="round" stroke-linejoin="round" transform="translate(-0.4,-0.5)"/>
<path d="M265.8,324.3 L265.4,325.4 L264.8,326.9 L264.0,328.6 L263.2,330.6 L262.3,332.7 L261.4,334.9 L260.5,337.1 L259.6,339.3 L258.7,341.3 L257.9,343.2 L257.1,344.9 L256.3,346.6 L255.6,348.3 L254.9,349.9 L254.1,351.5 L253.3,353.2 L252.6,354.8 L251.8,356.4 L250.9,358.2 L250.0,359.9 L249.0,361.8 L248.0,363.6 L246.9,365.6 L245.7,367.6 L244.5,369.7 L243.3,371.8 L242.2,373.9 L241.0,376.0 L239.9,378.0 L238.9,380.1 L238.0,382.1 L237.1,384.3 L236.2,386.5 L235.4,388.6 L234.6,390.7 L233.9,392.7 L233.2,394.5 L232.7,396.1 L232.2,397.4 L231.8,398.4 L240.2,401.6 L240.6,400.5 L241.1,399.1 L241.7,397.5 L242.3,395.7 L243.0,393.8 L243.8,391.8 L244.6,389.8 L245.4,387.7 L246.2,385.8 L247.1,383.9 L248.0,382.1 L249.0,380.2 L250.0,378.2 L251.2,376.2 L252.3,374.2 L253.5,372.1 L254.7,370.1 L255.9,368.0 L257.0,366.0 L258.0,364.1 L258.9,362.2 L259.8,360.4 L260.7,358.7 L261.5,357.0 L262.3,355.3 L263.0,353.7 L263.8,352.0 L264.6,350.3 L265.3,348.6 L266.1,346.8 L267.0,344.9 L267.9,342.8 L268.8,340.6 L269.7,338.4 L270.7,336.2 L271.5,334.1 L272.3,332.1 L273.1,330.3 L273.7,328.9 L274.2,327.7 Z" fill="#3a64a8" stroke="#17294d" stroke-width="1.0" stroke-linejoin="round"/><path d="M269.5,327.1 L268.9,328.6 L268.2,330.4 L267.4,332.3 L266.5,334.4 L265.6,336.6 L264.7,338.8 L263.7,341.0 L262.8,343.1 L262.0,345.0 L261.2,346.8 L260.4,348.5 L259.7,350.2 L258.9,351.8 L258.2,353.4 L257.4,355.1 L256.6,356.7 L255.8,358.4 L254.9,360.2 L254.0,362.0 L253.0,363.9 L251.9,365.8 L250.8,367.8 L249.6,369.9 L248.4,371.9 L247.3,374.0 L246.1,376.1 L245.0,378.1 L244.0,380.1 L243.0,382.0 L242.1,384.0 L241.2,386.0 L240.4,388.1 L239.6,390.2 L238.8,392.2 L238.1,394.2 L237.5,396.0 L236.9,397.6 L236.4,398.9" fill="none" stroke="#6f98d8" stroke-width="4.5" stroke-linecap="round" filter="url(#bl)"/>
<path d="M285.2,334.8 L284.8,335.7 L284.3,336.9 L283.6,338.3 L282.9,339.8 L282.2,341.5 L281.4,343.2 L280.5,345.1 L279.6,346.9 L278.7,348.7 L277.8,350.5 L276.9,352.3 L276.0,354.1 L275.0,356.0 L273.9,357.9 L272.9,359.8 L271.8,361.8 L270.7,363.9 L269.5,365.9 L268.4,368.0 L267.3,370.2 L266.1,372.4 L265.0,374.6 L263.8,376.9 L262.6,379.3 L261.4,381.6 L260.2,384.0 L259.0,386.3 L257.9,388.5 L256.7,390.7 L255.6,392.8 L254.5,394.9 L253.3,397.0 L252.1,399.2 L250.9,401.4 L249.7,403.5 L248.6,405.5 L247.5,407.3 L246.6,408.9 L245.8,410.3 L245.1,411.4 L254.9,416.6 L255.4,415.5 L256.1,414.0 L257.0,412.4 L257.9,410.5 L258.9,408.4 L260.0,406.2 L261.1,404.0 L262.2,401.7 L263.3,399.4 L264.4,397.2 L265.4,395.0 L266.4,392.7 L267.5,390.3 L268.5,387.9 L269.6,385.5 L270.6,383.1 L271.7,380.7 L272.7,378.3 L273.7,376.0 L274.7,373.8 L275.7,371.7 L276.7,369.5 L277.7,367.4 L278.7,365.4 L279.6,363.3 L280.6,361.3 L281.5,359.3 L282.5,357.3 L283.3,355.4 L284.2,353.5 L285.0,351.6 L285.8,349.7 L286.6,347.7 L287.3,345.8 L288.1,344.0 L288.8,342.3 L289.4,340.7 L289.9,339.3 L290.4,338.1 L290.8,337.2 Z" fill="#8ab6ea" stroke="#17294d" stroke-width="1.0" stroke-linejoin="round"/><path d="M287.6,336.9 L287.1,338.1 L286.5,339.5 L285.8,341.1 L285.1,342.8 L284.4,344.5 L283.5,346.4 L282.7,348.3 L281.9,350.2 L281.0,352.0 L280.1,353.8 L279.2,355.7 L278.3,357.6 L277.3,359.6 L276.2,361.6 L275.2,363.6 L274.2,365.7 L273.1,367.7 L272.1,369.9 L271.0,372.0 L269.9,374.2 L268.8,376.5 L267.7,378.8 L266.6,381.2 L265.5,383.6 L264.4,385.9 L263.3,388.3 L262.2,390.6 L261.1,392.8 L260.0,395.0 L258.9,397.1 L257.8,399.4 L256.6,401.6 L255.4,403.8 L254.3,405.9 L253.2,408.0 L252.2,409.8 L251.3,411.5 L250.6,412.9" fill="none" stroke="#d6e9ff" stroke-width="3.0" stroke-linecap="round" filter="url(#bl)"/>
<path d="M290.8,354.9 L290.2,355.9 L289.5,357.3 L288.7,358.8 L287.8,360.6 L286.8,362.5 L285.7,364.5 L284.6,366.6 L283.5,368.6 L282.4,370.7 L281.4,372.6 L280.3,374.6 L279.2,376.6 L278.0,378.7 L276.9,380.8 L275.7,382.9 L274.5,385.1 L273.3,387.2 L272.2,389.3 L271.0,391.4 L269.9,393.4 L268.8,395.4 L267.6,397.5 L266.4,399.7 L265.1,401.9 L264.0,404.0 L262.8,406.1 L261.8,407.9 L260.9,409.6 L260.1,411.0 L259.5,412.1 L266.5,415.9 L267.1,414.7 L267.8,413.3 L268.7,411.6 L269.6,409.7 L270.7,407.6 L271.7,405.4 L272.9,403.2 L274.0,400.9 L275.1,398.7 L276.1,396.6 L277.1,394.6 L278.2,392.5 L279.2,390.3 L280.3,388.1 L281.4,385.9 L282.5,383.8 L283.6,381.6 L284.6,379.5 L285.7,377.4 L286.6,375.4 L287.6,373.3 L288.6,371.2 L289.6,369.1 L290.6,366.9 L291.6,364.9 L292.5,362.9 L293.4,361.1 L294.1,359.5 L294.7,358.2 L295.2,357.1 Z" fill="#5f8fd6" stroke="#17294d" stroke-width="1.0" stroke-linejoin="round"/><path d="M292.5,357.1 L291.8,358.4 L291.0,360.0 L290.1,361.8 L289.2,363.7 L288.2,365.7 L287.1,367.8 L286.1,369.9 L285.0,372.0 L284.0,374.0 L283.0,376.0 L281.9,378.0 L280.8,380.1 L279.7,382.3 L278.6,384.4 L277.4,386.6 L276.3,388.8 L275.2,390.9 L274.1,393.0 L273.0,395.0 L271.9,397.1 L270.8,399.2 L269.6,401.4 L268.4,403.7 L267.3,405.8 L266.2,407.9 L265.2,409.8 L264.3,411.4 L263.6,412.9" fill="none" stroke="#9cc2f2" stroke-width="2.5" stroke-linecap="round" filter="url(#bl)"/>
<path d="M276.2,370.7 L275.7,372.0 L275.2,373.6 L274.5,375.5 L273.7,377.6 L272.9,379.9 L272.0,382.3 L271.1,384.8 L270.0,387.3 L269.0,389.8 L267.9,392.2 L266.7,394.7 L265.4,397.3 L264.0,400.1 L262.5,402.9 L260.9,405.8 L259.4,408.7 L257.8,411.6 L256.3,414.4 L254.8,417.1 L253.4,419.7 L252.1,422.2 L250.9,424.6 L249.7,427.0 L248.6,429.2 L247.5,431.4 L246.4,433.5 L245.3,435.6 L244.3,437.5 L243.2,439.4 L242.2,441.2 L241.0,442.9 L239.9,444.7 L238.6,446.5 L237.3,448.3 L236.1,450.0 L234.9,451.6 L233.7,453.1 L232.7,454.4 L231.8,455.6 L231.1,456.5 L240.9,463.5 L241.5,462.6 L242.3,461.4 L243.3,460.1 L244.4,458.5 L245.6,456.8 L246.8,454.9 L248.1,453.0 L249.4,451.0 L250.7,448.9 L251.8,446.8 L253.0,444.7 L254.0,442.6 L255.1,440.5 L256.1,438.3 L257.1,436.1 L258.2,433.8 L259.2,431.5 L260.3,429.1 L261.4,426.7 L262.6,424.3 L263.8,421.7 L265.1,419.0 L266.5,416.1 L268.0,413.2 L269.5,410.2 L270.9,407.2 L272.3,404.2 L273.7,401.3 L274.9,398.5 L276.1,395.8 L277.2,393.1 L278.2,390.4 L279.1,387.8 L280.0,385.1 L280.8,382.6 L281.6,380.3 L282.3,378.1 L282.9,376.2 L283.4,374.6 L283.8,373.3 Z" fill="#8ab6ea" stroke="#17294d" stroke-width="1.0" stroke-linejoin="round"/><path d="M279.6,373.3 L279.0,374.9 L278.4,376.8 L277.7,378.9 L276.9,381.2 L276.0,383.7 L275.1,386.3 L274.1,388.9 L273.1,391.5 L272.0,394.0 L270.8,396.6 L269.5,399.3 L268.1,402.1 L266.7,405.1 L265.2,408.0 L263.7,410.9 L262.2,413.9 L260.7,416.7 L259.3,419.4 L258.0,422.0 L256.8,424.5 L255.6,426.9 L254.5,429.2 L253.4,431.5 L252.3,433.8 L251.3,435.9 L250.2,438.0 L249.2,440.1 L248.1,442.1 L247.0,444.0 L245.9,445.9 L244.6,447.8 L243.4,449.7 L242.1,451.6 L240.8,453.4 L239.6,455.0 L238.5,456.6 L237.5,457.9 L236.7,459.1" fill="none" stroke="#d6e9ff" stroke-width="4.0" stroke-linecap="round" filter="url(#bl)"/>
<path d="M289.0,420.7 L288.2,421.9 L287.3,423.5 L286.2,425.3 L285.0,427.3 L283.7,429.5 L282.3,431.8 L280.9,434.2 L279.4,436.6 L278.0,438.9 L276.7,441.2 L275.3,443.4 L273.9,445.7 L272.4,448.1 L270.9,450.5 L269.4,453.0 L267.9,455.4 L266.4,457.8 L265.0,460.2 L263.6,462.6 L262.4,464.8 L261.1,467.1 L260.0,469.4 L258.8,471.7 L257.7,474.0 L256.7,476.2 L255.7,478.3 L254.8,480.2 L254.1,481.9 L253.4,483.3 L252.9,484.4 L259.1,487.6 L259.7,486.5 L260.5,485.1 L261.4,483.5 L262.4,481.6 L263.5,479.7 L264.6,477.6 L265.8,475.5 L267.1,473.3 L268.4,471.2 L269.6,469.2 L271.0,467.1 L272.4,465.0 L274.0,462.8 L275.6,460.5 L277.2,458.2 L278.9,455.8 L280.6,453.5 L282.2,451.2 L283.8,449.0 L285.3,446.8 L286.9,444.7 L288.4,442.4 L290.0,440.1 L291.6,437.9 L293.2,435.6 L294.6,433.5 L296.0,431.6 L297.2,429.9 L298.2,428.4 L299.0,427.3 Z" fill="#5f8fd6" stroke="#17294d" stroke-width="1.0" stroke-linejoin="round"/><path d="M293.2,425.2 L292.3,426.7 L291.1,428.4 L289.8,430.4 L288.4,432.6 L287.0,434.8 L285.5,437.1 L283.9,439.5 L282.4,441.8 L281.0,444.0 L279.6,446.2 L278.0,448.5 L276.5,450.8 L274.9,453.2 L273.3,455.6 L271.7,457.9 L270.2,460.3 L268.7,462.6 L267.3,464.8 L266.0,467.0 L264.8,469.1 L263.5,471.4 L262.3,473.6 L261.2,475.8 L260.1,477.9 L259.0,480.0 L258.1,481.8 L257.3,483.5 L256.6,484.9" fill="none" stroke="#9cc2f2" stroke-width="6.0" stroke-linecap="round" filter="url(#bl)"/>
<path d="M240.7,428.8 L240.2,430.7 L239.6,433.1 L238.8,435.9 L238.0,439.1 L237.1,442.6 L236.1,446.3 L235.2,450.1 L234.2,453.8 L233.4,457.6 L232.6,461.1 L231.8,464.8 L231.0,468.8 L230.1,472.9 L229.3,477.2 L228.5,481.4 L227.8,485.4 L227.1,489.1 L226.5,492.5 L226.0,495.3 L225.6,497.5 L230.4,498.5 L231.0,496.4 L231.7,493.6 L232.5,490.3 L233.4,486.6 L234.3,482.6 L235.4,478.5 L236.4,474.3 L237.5,470.3 L238.5,466.4 L239.4,462.9 L240.4,459.4 L241.5,455.8 L242.6,452.1 L243.8,448.5 L244.9,444.9 L246.0,441.5 L247.0,438.3 L248.0,435.5 L248.7,433.1 L249.3,431.2 Z" fill="#8ab6ea" stroke="#17294d" stroke-width="1.0" stroke-linejoin="round"/><path d="M244.5,431.9 L243.8,434.3 L242.9,437.1 L242.0,440.3 L241.0,443.8 L240.0,447.4 L238.9,451.1 L237.9,454.8 L236.9,458.5 L236.0,462.0 L235.1,465.6 L234.2,469.5 L233.3,473.6 L232.3,477.8 L231.4,482.0 L230.6,486.0 L229.8,489.7 L229.1,493.0 L228.5,495.8" fill="none" stroke="#d6e9ff" stroke-width="4.5" stroke-linecap="round" filter="url(#bl)"/>
<path d="M271.8,368.6 L271.0,370.4 L270.0,372.8 L268.8,375.6 L267.4,378.7 L266.0,382.1 L264.5,385.6 L263.0,389.1 L261.5,392.5 L260.1,395.7 L258.8,398.6 L257.6,401.3 L256.3,404.1 L255.0,406.9 L253.7,409.7 L252.5,412.4 L251.3,414.9 L250.3,417.3 L249.3,419.4 L248.5,421.1 L247.8,422.5 L254.2,425.5 L254.8,424.1 L255.6,422.3 L256.6,420.2 L257.7,417.9 L258.9,415.3 L260.1,412.6 L261.4,409.9 L262.7,407.0 L264.0,404.2 L265.2,401.4 L266.5,398.5 L267.9,395.3 L269.4,391.9 L270.9,388.4 L272.4,384.9 L273.9,381.5 L275.2,378.4 L276.4,375.6 L277.4,373.2 L278.2,371.4 Z" fill="#8ab6ea" stroke="#17294d" stroke-width="1.0" stroke-linejoin="round"/><path d="M274.2,371.8 L273.2,374.2 L272.0,377.0 L270.6,380.1 L269.2,383.5 L267.7,387.0 L266.2,390.5 L264.7,393.9 L263.3,397.1 L262.0,400.0 L260.8,402.8 L259.5,405.6 L258.2,408.4 L256.9,411.2 L255.7,413.9 L254.5,416.4 L253.4,418.8 L252.5,420.8 L251.6,422.6" fill="none" stroke="#d6e9ff" stroke-width="3.5" stroke-linecap="round" filter="url(#bl)"/>
<path d="M248.1,371.2 L247.9,372.0 L247.7,373.0 L247.5,374.2 L247.3,375.4 L247.0,376.8 L246.7,378.2 L246.4,379.6 L246.0,381.0 L245.7,382.4 L245.2,383.7 L244.7,385.1 L244.2,386.6 L243.7,388.1 L243.1,389.7 L242.5,391.1 L241.9,392.6 L241.2,393.9 L240.5,395.2 L239.7,396.4 L239.0,397.4 L238.0,398.4 L236.9,399.4 L235.5,400.5 L234.0,401.5 L232.4,402.6 L230.8,403.6 L229.3,404.5 L227.9,405.3 L226.7,406.1 L225.8,406.7 L230.2,413.3 L231.0,412.8 L232.1,412.1 L233.5,411.3 L235.0,410.4 L236.7,409.3 L238.5,408.1 L240.3,406.9 L242.0,405.6 L243.6,404.1 L245.0,402.6 L246.3,401.0 L247.3,399.4 L248.3,397.7 L249.1,395.9 L249.9,394.2 L250.6,392.5 L251.2,390.9 L251.7,389.3 L252.3,387.8 L252.8,386.3 L253.3,384.7 L253.8,383.1 L254.2,381.5 L254.5,379.9 L254.9,378.4 L255.1,376.9 L255.4,375.6 L255.6,374.5 L255.8,373.5 L255.9,372.8 Z" fill="#3a64a8" stroke="#17294d" stroke-width="1.0" stroke-linejoin="round"/><path d="M251.8,372.8 L251.7,373.7 L251.4,374.9 L251.2,376.2 L250.9,377.6 L250.6,379.0 L250.3,380.5 L249.9,382.1 L249.5,383.6 L249.0,385.0 L248.5,386.4 L248.0,388.0 L247.4,389.5 L246.8,391.1 L246.2,392.7 L245.5,394.3 L244.7,395.8 L243.9,397.3 L243.0,398.7 L242.0,400.0 L240.8,401.2 L239.4,402.5 L237.9,403.7 L236.2,404.8 L234.6,405.9 L232.9,407.0 L231.4,407.9 L230.0,408.7 L228.9,409.4" fill="none" stroke="#6f98d8" stroke-width="4.0" stroke-linecap="round" filter="url(#bl)"/>
<path d="M299.0,392.0 C301.9,390.2 311.9,383.2 316.7,381.0 C321.4,378.8 323.9,378.4 327.5,378.7 C331.1,379.0 334.1,381.6 338.0,383.0 C341.9,384.4 348.2,383.8 351.0,387.0 C353.8,390.2 354.6,397.9 354.6,402.5 C354.7,407.1 354.0,412.4 351.3,414.4 C348.6,416.4 343.2,413.6 338.3,414.4 C333.4,415.2 328.4,417.7 322.0,419.0 C315.6,420.3 307.2,421.1 300.0,422.0 C292.8,422.9 286.9,423.8 278.8,424.2 C270.8,424.6 259.8,422.4 251.7,424.2 C243.6,426.0 233.6,433.2 230.0,435.0" fill="none" stroke="#17294d" stroke-width="5.4" stroke-linecap="round" stroke-linejoin="round"/><path d="M299.0,392.0 C301.9,390.2 311.9,383.2 316.7,381.0 C321.4,378.8 323.9,378.4 327.5,378.7 C331.1,379.0 334.1,381.6 338.0,383.0 C341.9,384.4 348.2,383.8 351.0,387.0 C353.8,390.2 354.6,397.9 354.6,402.5 C354.7,407.1 354.0,412.4 351.3,414.4 C348.6,416.4 343.2,413.6 338.3,414.4 C333.4,415.2 328.4,417.7 322.0,419.0 C315.6,420.3 307.2,421.1 300.0,422.0 C292.8,422.9 286.9,423.8 278.8,424.2 C270.8,424.6 259.8,422.4 251.7,424.2 C243.6,426.0 233.6,433.2 230.0,435.0" fill="none" stroke="#5a8ad2" stroke-width="3.4" stroke-linecap="round" stroke-linejoin="round"/><path d="M299.0,392.0 C301.9,390.2 311.9,383.2 316.7,381.0 C321.4,378.8 323.9,378.4 327.5,378.7 C331.1,379.0 334.1,381.6 338.0,383.0 C341.9,384.4 348.2,383.8 351.0,387.0 C353.8,390.2 354.6,397.9 354.6,402.5 C354.7,407.1 354.0,412.4 351.3,414.4 C348.6,416.4 343.2,413.6 338.3,414.4 C333.4,415.2 328.4,417.7 322.0,419.0 C315.6,420.3 307.2,421.1 300.0,422.0 C292.8,422.9 286.9,423.8 278.8,424.2 C270.8,424.6 259.8,422.4 251.7,424.2 C243.6,426.0 233.6,433.2 230.0,435.0" fill="none" stroke="#a8cbf4" stroke-width="1.4" stroke-linecap="round" stroke-linejoin="round" transform="translate(-0.4,-0.5)"/>
<path d="M330.0,392.0 C330.7,391.0 332.0,386.3 334.0,386.0 C336.0,385.7 340.5,387.3 342.0,390.0 C343.5,392.7 344.0,399.2 343.0,402.0 C342.0,404.8 338.2,407.3 336.0,407.0 C333.8,406.7 331.0,402.5 330.0,400.0 C329.0,397.5 330.0,393.3 330.0,392.0" fill="none" stroke="#17294d" stroke-width="5.4" stroke-linecap="round" stroke-linejoin="round"/><path d="M330.0,392.0 C330.7,391.0 332.0,386.3 334.0,386.0 C336.0,385.7 340.5,387.3 342.0,390.0 C343.5,392.7 344.0,399.2 343.0,402.0 C342.0,404.8 338.2,407.3 336.0,407.0 C333.8,406.7 331.0,402.5 330.0,400.0 C329.0,397.5 330.0,393.3 330.0,392.0" fill="none" stroke="#5a8ad2" stroke-width="3.4" stroke-linecap="round" stroke-linejoin="round"/><path d="M330.0,392.0 C330.7,391.0 332.0,386.3 334.0,386.0 C336.0,385.7 340.5,387.3 342.0,390.0 C343.5,392.7 344.0,399.2 343.0,402.0 C342.0,404.8 338.2,407.3 336.0,407.0 C333.8,406.7 331.0,402.5 330.0,400.0 C329.0,397.5 330.0,393.3 330.0,392.0" fill="none" stroke="#a8cbf4" stroke-width="1.4" stroke-linecap="round" stroke-linejoin="round" transform="translate(-0.4,-0.5)"/>
<path d="M242.1,418.8 L243.9,418.4 L246.2,417.7 L248.9,417.0 L252.0,416.2 L255.3,415.3 L258.7,414.4 L262.1,413.5 L265.4,412.5 L268.6,411.6 L271.5,410.8 L274.1,409.9 L276.8,409.1 L279.3,408.2 L281.8,407.3 L284.2,406.4 L286.5,405.5 L288.7,404.7 L290.8,404.0 L292.7,403.3 L294.5,402.8 L296.1,402.3 L297.7,401.9 L298.3,405.8 L306.0,395.0 L294.6,388.2 L295.2,392.2 L293.4,392.7 L291.5,393.2 L289.6,393.9 L287.5,394.6 L285.3,395.3 L283.1,396.1 L280.8,397.0 L278.4,397.9 L276.0,398.7 L273.5,399.6 L271.0,400.4 L268.5,401.2 L265.8,402.0 L262.7,402.9 L259.4,403.8 L256.1,404.8 L252.7,405.7 L249.4,406.5 L246.3,407.4 L243.6,408.1 L241.3,408.7 L239.5,409.2 Z" fill="#8ab6ea" stroke="#17294d" stroke-width="1.0" stroke-linejoin="round"/><path d="M242.6,413.5 L244.9,412.9 L247.6,412.2 L250.7,411.4 L254.0,410.5 L257.4,409.6 L260.8,408.7 L264.1,407.7 L267.2,406.8 L270.0,406.0 L272.6,405.2 L275.2,404.3 L277.7,403.4 L280.1,402.6 L282.5,401.7 L284.8,400.8 L287.0,400.0 L289.1,399.3 L291.1,398.6 L293.0,398.0 L294.8,397.5" fill="none" stroke="#d6e9ff" stroke-width="5.0" stroke-linecap="round" filter="url(#bl)"/>
<path d="M246.9,424.4 L248.7,423.9 L251.0,423.2 L253.7,422.5 L256.7,421.6 L259.9,420.7 L263.2,419.7 L266.6,418.8 L269.9,417.9 L273.0,417.1 L275.8,416.4 L278.5,415.8 L281.4,415.2 L284.3,414.6 L287.2,414.0 L290.0,413.4 L292.6,412.9 L295.1,412.5 L297.3,412.1 L299.2,411.7 L300.7,411.4 L299.3,404.6 L297.9,404.8 L296.0,405.2 L293.8,405.6 L291.3,406.1 L288.7,406.6 L285.8,407.1 L282.9,407.7 L279.9,408.3 L277.0,408.9 L274.2,409.6 L271.3,410.3 L268.1,411.2 L264.8,412.1 L261.4,413.0 L258.0,413.9 L254.7,414.9 L251.7,415.7 L249.0,416.5 L246.8,417.1 L245.1,417.6 Z" fill="#8ab6ea" stroke="#17294d" stroke-width="1.0" stroke-linejoin="round"/><path d="M247.7,420.5 L250.0,419.9 L252.7,419.1 L255.7,418.2 L258.9,417.3 L262.3,416.4 L265.7,415.4 L269.0,414.5 L272.1,413.7 L275.0,413.0 L277.8,412.4 L280.7,411.7 L283.6,411.1 L286.5,410.5 L289.3,410.0 L292.0,409.5 L294.5,409.0 L296.7,408.6 L298.5,408.3" fill="none" stroke="#d6e9ff" stroke-width="3.5" stroke-linecap="round" filter="url(#bl)"/>
<path d="M192.8,396.0 C190.5,395.6 184.8,394.5 178.8,393.3 C172.9,392.1 162.9,388.6 157.1,389.0 C151.3,389.4 146.8,392.3 144.1,396.0 C141.4,399.7 140.6,407.8 140.8,411.2 C141.0,414.6 143.4,413.7 145.2,416.6 C147.0,419.5 148.8,425.8 151.7,428.5 C154.6,431.2 158.3,432.8 162.5,432.8 C166.7,432.8 174.2,429.2 176.6,428.5" fill="none" stroke="#17294d" stroke-width="5.4" stroke-linecap="round" stroke-linejoin="round"/><path d="M192.8,396.0 C190.5,395.6 184.8,394.5 178.8,393.3 C172.9,392.1 162.9,388.6 157.1,389.0 C151.3,389.4 146.8,392.3 144.1,396.0 C141.4,399.7 140.6,407.8 140.8,411.2 C141.0,414.6 143.4,413.7 145.2,416.6 C147.0,419.5 148.8,425.8 151.7,428.5 C154.6,431.2 158.3,432.8 162.5,432.8 C166.7,432.8 174.2,429.2 176.6,428.5" fill="none" stroke="#5a8ad2" stroke-width="3.4" stroke-linecap="round" stroke-linejoin="round"/><path d="M192.8,396.0 C190.5,395.6 184.8,394.5 178.8,393.3 C172.9,392.1 162.9,388.6 157.1,389.0 C151.3,389.4 146.8,392.3 144.1,396.0 C141.4,399.7 140.6,407.8 140.8,411.2 C141.0,414.6 143.4,413.7 145.2,416.6 C147.0,419.5 148.8,425.8 151.7,428.5 C154.6,431.2 158.3,432.8 162.5,432.8 C166.7,432.8 174.2,429.2 176.6,428.5" fill="none" stroke="#a8cbf4" stroke-width="1.4" stroke-linecap="round" stroke-linejoin="round" transform="translate(-0.4,-0.5)"/>
<path d="M191.3,399.7 L192.3,400.1 L193.6,400.6 L195.0,401.2 L196.7,401.9 L198.5,402.6 L200.4,403.3 L202.4,404.1 L204.4,405.0 L206.4,405.8 L208.4,406.7 L210.6,407.6 L213.0,408.7 L215.5,409.8 L218.2,411.0 L220.9,412.2 L223.5,413.4 L225.9,414.5 L228.0,415.5 L229.9,416.3 L231.3,416.9 L234.5,409.7 L233.2,409.0 L231.4,408.2 L229.2,407.2 L226.8,406.1 L224.2,404.9 L221.5,403.7 L218.8,402.5 L216.2,401.4 L213.8,400.3 L211.6,399.3 L209.5,398.5 L207.5,397.6 L205.4,396.7 L203.4,395.9 L201.5,395.1 L199.6,394.4 L198.0,393.8 L196.5,393.2 L195.3,392.7 L194.3,392.3 Z" fill="#3a64a8" stroke="#17294d" stroke-width="1.0" stroke-linejoin="round"/><path d="M193.8,396.4 L195.0,396.9 L196.5,397.5 L198.2,398.1 L200.0,398.9 L201.9,399.6 L203.9,400.4 L205.9,401.3 L208.0,402.1 L210.0,403.0 L212.2,403.9 L214.6,405.0 L217.2,406.2 L219.8,407.4 L222.5,408.6 L225.1,409.8 L227.5,410.9 L229.7,411.8 L231.5,412.7" fill="none" stroke="#6f98d8" stroke-width="4.0" stroke-linecap="round" filter="url(#bl)"/>
<path d="M232.3,414.8 L230.6,415.1 L228.5,415.4 L225.9,415.8 L223.1,416.3 L220.0,416.7 L216.8,417.2 L213.5,417.7 L210.3,418.2 L207.3,418.6 L204.5,419.0 L201.7,419.4 L198.7,419.8 L195.7,420.2 L192.6,420.6 L189.7,420.9 L186.8,421.3 L186.4,417.8 L178.8,426.3 L188.2,432.7 L187.8,429.2 L190.6,428.9 L193.6,428.5 L196.7,428.1 L199.7,427.7 L202.7,427.3 L205.5,427.0 L208.4,426.6 L211.5,426.1 L214.7,425.6 L218.0,425.1 L221.2,424.6 L224.3,424.2 L227.1,423.7 L229.7,423.3 L231.8,423.0 L233.5,422.8 Z" fill="#3a64a8" stroke="#17294d" stroke-width="1.0" stroke-linejoin="round"/><path d="M231.2,419.1 L229.1,419.4 L226.5,419.8 L223.7,420.2 L220.6,420.7 L217.4,421.2 L214.1,421.7 L210.9,422.2 L207.8,422.6 L205.0,423.0 L202.2,423.4 L199.2,423.8 L196.2,424.2 L193.1,424.5 L190.2,424.9" fill="none" stroke="#6f98d8" stroke-width="4.0" stroke-linecap="round" filter="url(#bl)"/>
<path d="M229.5,417.5 L228.2,418.2 L226.5,419.1 L224.4,420.1 L222.1,421.3 L219.6,422.6 L217.0,423.9 L214.5,425.2 L212.0,426.4 L209.8,427.5 L207.8,428.5 L206.1,429.4 L204.5,430.1 L202.9,430.8 L201.5,431.5 L200.0,432.2 L198.6,432.9 L197.1,433.6 L195.6,434.3 L194.1,435.2 L192.5,436.1 L190.8,437.0 L189.1,438.1 L187.3,439.1 L185.5,440.3 L183.6,441.4 L181.8,442.6 L180.0,443.9 L178.3,445.1 L176.7,446.4 L175.2,447.8 L173.9,449.3 L172.7,450.9 L171.8,452.5 L171.0,454.0 L170.4,455.4 L169.9,456.8 L169.5,457.9 L169.2,458.9 L168.9,459.5 L168.7,460.0 L177.9,464.0 L178.2,463.2 L178.6,462.2 L178.9,461.2 L179.3,460.2 L179.7,459.2 L180.1,458.2 L180.6,457.3 L181.1,456.4 L181.7,455.6 L182.4,454.8 L183.3,454.0 L184.4,453.0 L185.8,452.0 L187.4,450.9 L189.0,449.8 L190.7,448.8 L192.5,447.7 L194.2,446.7 L195.9,445.7 L197.5,444.7 L198.9,443.9 L200.3,443.2 L201.6,442.5 L202.9,441.9 L204.3,441.2 L205.7,440.6 L207.1,439.9 L208.7,439.2 L210.4,438.4 L212.2,437.5 L214.2,436.5 L216.5,435.3 L219.0,434.1 L221.5,432.8 L224.1,431.5 L226.6,430.2 L228.9,429.1 L231.0,428.0 L232.7,427.1 L234.1,426.5 Z" fill="#3a64a8" stroke="#17294d" stroke-width="1.0" stroke-linejoin="round"/><path d="M230.5,422.7 L228.7,423.6 L226.6,424.6 L224.3,425.8 L221.8,427.0 L219.3,428.3 L216.7,429.6 L214.3,430.9 L212.0,432.0 L210.0,433.0 L208.2,433.9 L206.6,434.7 L205.0,435.4 L203.6,436.1 L202.2,436.7 L200.8,437.4 L199.4,438.0 L198.0,438.8 L196.5,439.5 L195.0,440.4 L193.4,441.3 L191.7,442.4 L189.9,443.4 L188.1,444.5 L186.3,445.6 L184.6,446.8 L182.9,447.9 L181.4,449.1 L180.0,450.2 L178.8,451.3 L177.8,452.4 L176.9,453.6 L176.2,454.9 L175.6,456.1 L175.0,457.3 L174.6,458.5 L174.2,459.6 L173.9,460.5 L173.6,461.4" fill="none" stroke="#6f98d8" stroke-width="5.0" stroke-linecap="round" filter="url(#bl)"/>
<path d="M230.9,418.8 L229.2,420.3 L227.0,422.2 L224.3,424.6 L221.3,427.3 L218.1,430.1 L214.9,433.0 L211.7,435.9 L208.7,438.8 L205.9,441.4 L203.6,443.7 L201.7,445.8 L200.0,447.7 L198.4,449.6 L196.9,451.3 L195.6,453.0 L194.4,454.7 L193.3,456.4 L192.2,458.1 L191.3,459.8 L190.3,461.7 L189.4,463.7 L188.6,465.9 L187.9,468.1 L187.3,470.3 L186.8,472.4 L182.9,471.6 L188.0,481.0 L196.5,474.5 L192.6,473.7 L193.1,471.8 L193.6,469.8 L194.3,467.8 L194.9,466.0 L195.7,464.3 L196.5,462.7 L197.4,461.2 L198.3,459.6 L199.3,458.1 L200.4,456.6 L201.6,455.1 L203.0,453.4 L204.4,451.7 L206.1,449.9 L208.0,447.9 L210.2,445.7 L212.8,443.1 L215.8,440.3 L218.9,437.5 L222.2,434.6 L225.3,431.7 L228.3,429.1 L231.0,426.7 L233.2,424.7 L234.9,423.2 Z" fill="#3a64a8" stroke="#17294d" stroke-width="1.0" stroke-linejoin="round"/><path d="M231.2,422.5 L229.0,424.5 L226.3,426.9 L223.3,429.5 L220.2,432.3 L216.9,435.2 L213.7,438.1 L210.7,440.9 L208.1,443.5 L205.8,445.8 L203.9,447.8 L202.2,449.7 L200.7,451.5 L199.3,453.2 L198.0,454.8 L196.9,456.4 L195.8,458.0 L194.8,459.6 L193.9,461.3 L193.0,463.0 L192.2,464.8 L191.4,466.8 L190.8,468.9 L190.2,471.0" fill="none" stroke="#6f98d8" stroke-width="3.0" stroke-linecap="round" filter="url(#bl)"/>
<path d="M260.0,421.0 C253.7,423.7 229.7,433.1 222.1,437.2 C214.5,441.3 215.4,443.3 214.5,445.8 C213.6,448.3 212.7,450.1 216.7,452.3 C220.7,454.5 232.9,456.3 238.3,458.8 C243.7,461.3 247.0,462.4 249.2,467.5 C251.4,472.6 251.2,484.6 251.3,489.2 C251.4,493.8 250.9,493.2 249.5,495.0 C248.1,496.8 244.1,499.2 243.0,500.0" fill="none" stroke="#17294d" stroke-width="5.4" stroke-linecap="round" stroke-linejoin="round"/><path d="M260.0,421.0 C253.7,423.7 229.7,433.1 222.1,437.2 C214.5,441.3 215.4,443.3 214.5,445.8 C213.6,448.3 212.7,450.1 216.7,452.3 C220.7,454.5 232.9,456.3 238.3,458.8 C243.7,461.3 247.0,462.4 249.2,467.5 C251.4,472.6 251.2,484.6 251.3,489.2 C251.4,493.8 250.9,493.2 249.5,495.0 C248.1,496.8 244.1,499.2 243.0,500.0" fill="none" stroke="#5a8ad2" stroke-width="3.4" stroke-linecap="round" stroke-linejoin="round"/><path d="M260.0,421.0 C253.7,423.7 229.7,433.1 222.1,437.2 C214.5,441.3 215.4,443.3 214.5,445.8 C213.6,448.3 212.7,450.1 216.7,452.3 C220.7,454.5 232.9,456.3 238.3,458.8 C243.7,461.3 247.0,462.4 249.2,467.5 C251.4,472.6 251.2,484.6 251.3,489.2 C251.4,493.8 250.9,493.2 249.5,495.0 C248.1,496.8 244.1,499.2 243.0,500.0" fill="none" stroke="#a8cbf4" stroke-width="1.4" stroke-linecap="round" stroke-linejoin="round" transform="translate(-0.4,-0.5)"/>
<path d="M254.5,486.8 L255.7,485.7 L257.1,484.2 L258.8,482.4 L260.8,480.5 L262.8,478.4 L264.9,476.3 L267.0,474.2 L269.1,472.2 L270.9,470.5 L272.6,469.1 L274.0,467.9 L275.4,466.9 L276.6,466.0 L277.8,465.2 L279.0,464.5 L280.2,463.7 L281.5,462.9 L283.0,462.1 L284.6,461.2 L286.3,460.1 L288.3,458.8 L290.4,457.3 L292.6,455.8 L294.9,454.2 L297.1,452.7 L299.3,451.2 L301.5,449.9 L303.5,448.8 L305.2,448.1 L306.7,447.6 L307.8,447.5 L308.9,447.5 L310.1,447.8 L311.3,448.2 L312.7,448.8 L314.2,449.5 L315.8,450.3 L317.6,451.0 L319.5,451.6 L321.6,452.0 L323.6,452.0 L325.5,452.0 L327.3,451.8 L329.1,451.5 L330.8,451.2 L332.4,450.9 L333.8,450.6 L335.0,450.3 L336.0,450.1 L336.7,449.9 L335.3,442.1 L334.4,442.2 L333.3,442.5 L332.0,442.7 L330.7,443.0 L329.2,443.3 L327.8,443.6 L326.3,443.8 L324.9,444.0 L323.5,444.0 L322.4,444.0 L321.4,443.9 L320.4,443.5 L319.1,443.0 L317.6,442.3 L316.0,441.5 L314.2,440.7 L312.2,440.1 L309.9,439.6 L307.5,439.5 L304.9,439.8 L302.4,440.6 L299.9,441.7 L297.5,443.0 L295.1,444.4 L292.6,446.0 L290.3,447.7 L288.0,449.3 L285.8,450.8 L283.9,452.2 L282.1,453.3 L280.4,454.3 L278.9,455.2 L277.5,456.0 L276.2,456.8 L274.8,457.6 L273.5,458.5 L272.1,459.4 L270.6,460.4 L269.1,461.6 L267.4,462.9 L265.6,464.6 L263.6,466.4 L261.4,468.5 L259.3,470.6 L257.1,472.8 L255.0,474.9 L253.1,476.9 L251.4,478.6 L250.0,480.1 L248.9,481.2 Z" fill="#5f8fd6" stroke="#17294d" stroke-width="1.0" stroke-linejoin="round"/><path d="M252.8,482.9 L254.3,481.4 L256.0,479.6 L257.9,477.7 L260.0,475.6 L262.1,473.4 L264.2,471.3 L266.3,469.3 L268.3,467.5 L270.0,466.0 L271.6,464.7 L273.0,463.6 L274.3,462.7 L275.6,461.8 L276.9,461.0 L278.2,460.3 L279.5,459.5 L281.0,458.7 L282.5,457.7 L284.2,456.7 L286.1,455.5 L288.1,454.1 L290.3,452.5 L292.6,450.9 L294.9,449.4 L297.2,447.8 L299.5,446.4 L301.7,445.3 L303.8,444.3 L305.8,443.7 L307.6,443.5 L309.4,443.6 L311.1,443.9 L312.8,444.5 L314.4,445.2 L315.9,445.9 L317.5,446.6 L319.0,447.3 L320.5,447.7 L322.0,448.0 L323.6,448.0 L325.2,448.0 L326.8,447.8 L328.4,447.6 L330.0,447.3 L331.5,447.0 L332.9,446.7 L334.1,446.4 L335.2,446.1" fill="none" stroke="#9cc2f2" stroke-width="4.0" stroke-linecap="round" filter="url(#bl)"/>
<path d="M336.0,446.0 C338.7,445.6 349.1,442.6 352.4,443.7 C355.7,444.8 356.2,449.6 355.7,452.3 C355.2,455.0 352.4,459.2 349.2,459.9 C345.9,460.6 340.2,457.6 336.2,456.7 C332.2,455.8 330.4,453.9 325.3,454.5 C320.2,455.1 313.6,456.9 305.8,460.0 C298.1,463.1 286.9,469.0 278.8,473.0 C270.7,477.0 260.7,482.2 257.1,484.0" fill="none" stroke="#17294d" stroke-width="5.4" stroke-linecap="round" stroke-linejoin="round"/><path d="M336.0,446.0 C338.7,445.6 349.1,442.6 352.4,443.7 C355.7,444.8 356.2,449.6 355.7,452.3 C355.2,455.0 352.4,459.2 349.2,459.9 C345.9,460.6 340.2,457.6 336.2,456.7 C332.2,455.8 330.4,453.9 325.3,454.5 C320.2,455.1 313.6,456.9 305.8,460.0 C298.1,463.1 286.9,469.0 278.8,473.0 C270.7,477.0 260.7,482.2 257.1,484.0" fill="none" stroke="#5a8ad2" stroke-width="3.4" stroke-linecap="round" stroke-linejoin="round"/><path d="M336.0,446.0 C338.7,445.6 349.1,442.6 352.4,443.7 C355.7,444.8 356.2,449.6 355.7,452.3 C355.2,455.0 352.4,459.2 349.2,459.9 C345.9,460.6 340.2,457.6 336.2,456.7 C332.2,455.8 330.4,453.9 325.3,454.5 C320.2,455.1 313.6,456.9 305.8,460.0 C298.1,463.1 286.9,469.0 278.8,473.0 C270.7,477.0 260.7,482.2 257.1,484.0" fill="none" stroke="#a8cbf4" stroke-width="1.4" stroke-linecap="round" stroke-linejoin="round" transform="translate(-0.4,-0.5)"/>
<path d="M172.0,506.0 C175.6,506.4 185.3,506.7 193.3,508.7 C201.3,510.7 213.3,516.7 220.0,518.0 C226.7,519.3 228.9,518.7 233.3,516.7 C237.8,514.7 243.8,510.4 246.7,506.0 C249.6,501.6 250.3,496.0 250.7,490.0 C251.1,484.0 250.9,475.6 249.3,470.0 C247.7,464.4 246.2,460.0 241.3,456.7 C236.4,453.4 223.6,451.1 220.0,450.0" fill="none" stroke="#17294d" stroke-width="5.4" stroke-linecap="round" stroke-linejoin="round"/><path d="M172.0,506.0 C175.6,506.4 185.3,506.7 193.3,508.7 C201.3,510.7 213.3,516.7 220.0,518.0 C226.7,519.3 228.9,518.7 233.3,516.7 C237.8,514.7 243.8,510.4 246.7,506.0 C249.6,501.6 250.3,496.0 250.7,490.0 C251.1,484.0 250.9,475.6 249.3,470.0 C247.7,464.4 246.2,460.0 241.3,456.7 C236.4,453.4 223.6,451.1 220.0,450.0" fill="none" stroke="#5a8ad2" stroke-width="3.4" stroke-linecap="round" stroke-linejoin="round"/><path d="M172.0,506.0 C175.6,506.4 185.3,506.7 193.3,508.7 C201.3,510.7 213.3,516.7 220.0,518.0 C226.7,519.3 228.9,518.7 233.3,516.7 C237.8,514.7 243.8,510.4 246.7,506.0 C249.6,501.6 250.3,496.0 250.7,490.0 C251.1,484.0 250.9,475.6 249.3,470.0 C247.7,464.4 246.2,460.0 241.3,456.7 C236.4,453.4 223.6,451.1 220.0,450.0" fill="none" stroke="#a8cbf4" stroke-width="1.4" stroke-linecap="round" stroke-linejoin="round" transform="translate(-0.4,-0.5)"/>
<path d="M184.0,510.0 C183.8,513.3 183.6,525.3 182.7,530.0 C181.8,534.7 178.0,536.9 178.7,538.0 C179.4,539.1 183.1,535.4 186.7,536.7 C190.2,538.0 195.6,544.0 200.0,546.0 C204.4,548.0 208.9,549.6 213.3,548.7 C217.8,547.8 222.9,544.7 226.7,540.7 C230.5,536.7 232.7,530.9 236.0,524.7 C239.3,518.5 242.7,509.5 246.7,503.3 C250.7,497.1 255.6,491.7 260.0,487.3 C264.4,482.9 266.6,481.1 273.3,476.7 C280.0,472.3 295.6,463.4 300.0,460.7" fill="none" stroke="#17294d" stroke-width="5.4" stroke-linecap="round" stroke-linejoin="round"/><path d="M184.0,510.0 C183.8,513.3 183.6,525.3 182.7,530.0 C181.8,534.7 178.0,536.9 178.7,538.0 C179.4,539.1 183.1,535.4 186.7,536.7 C190.2,538.0 195.6,544.0 200.0,546.0 C204.4,548.0 208.9,549.6 213.3,548.7 C217.8,547.8 222.9,544.7 226.7,540.7 C230.5,536.7 232.7,530.9 236.0,524.7 C239.3,518.5 242.7,509.5 246.7,503.3 C250.7,497.1 255.6,491.7 260.0,487.3 C264.4,482.9 266.6,481.1 273.3,476.7 C280.0,472.3 295.6,463.4 300.0,460.7" fill="none" stroke="#5a8ad2" stroke-width="3.4" stroke-linecap="round" stroke-linejoin="round"/><path d="M184.0,510.0 C183.8,513.3 183.6,525.3 182.7,530.0 C181.8,534.7 178.0,536.9 178.7,538.0 C179.4,539.1 183.1,535.4 186.7,536.7 C190.2,538.0 195.6,544.0 200.0,546.0 C204.4,548.0 208.9,549.6 213.3,548.7 C217.8,547.8 222.9,544.7 226.7,540.7 C230.5,536.7 232.7,530.9 236.0,524.7 C239.3,518.5 242.7,509.5 246.7,503.3 C250.7,497.1 255.6,491.7 260.0,487.3 C264.4,482.9 266.6,481.1 273.3,476.7 C280.0,472.3 295.6,463.4 300.0,460.7" fill="none" stroke="#a8cbf4" stroke-width="1.4" stroke-linecap="round" stroke-linejoin="round" transform="translate(-0.4,-0.5)"/>
<path d="M189.3,506.0 C192.2,505.1 200.5,503.4 206.7,500.7 C212.9,498.0 221.1,495.1 226.7,490.0 C232.2,484.9 237.1,476.7 240.0,470.0 C242.9,463.3 243.3,453.3 244.0,450.0" fill="none" stroke="#17294d" stroke-width="5.4" stroke-linecap="round" stroke-linejoin="round"/><path d="M189.3,506.0 C192.2,505.1 200.5,503.4 206.7,500.7 C212.9,498.0 221.1,495.1 226.7,490.0 C232.2,484.9 237.1,476.7 240.0,470.0 C242.9,463.3 243.3,453.3 244.0,450.0" fill="none" stroke="#5a8ad2" stroke-width="3.4" stroke-linecap="round" stroke-linejoin="round"/><path d="M189.3,506.0 C192.2,505.1 200.5,503.4 206.7,500.7 C212.9,498.0 221.1,495.1 226.7,490.0 C232.2,484.9 237.1,476.7 240.0,470.0 C242.9,463.3 243.3,453.3 244.0,450.0" fill="none" stroke="#a8cbf4" stroke-width="1.4" stroke-linecap="round" stroke-linejoin="round" transform="translate(-0.4,-0.5)"/>
<path d="M254.9,488.9 L256.3,488.0 L257.9,486.9 L259.9,485.6 L262.0,484.1 L264.4,482.5 L266.8,480.8 L269.3,479.2 L271.8,477.7 L274.3,476.3 L276.5,475.1 L278.9,474.1 L281.5,473.0 L284.3,471.9 L287.1,470.9 L290.0,469.9 L292.7,469.0 L295.3,468.2 L297.6,467.5 L299.6,466.8 L301.1,466.3 L298.9,459.7 L297.4,460.2 L295.5,460.8 L293.2,461.5 L290.6,462.4 L287.8,463.3 L284.8,464.3 L281.9,465.4 L278.9,466.5 L276.1,467.6 L273.5,468.9 L270.9,470.2 L268.3,471.7 L265.6,473.3 L263.0,475.0 L260.5,476.7 L258.1,478.3 L255.9,479.8 L254.0,481.1 L252.3,482.2 L251.1,483.1 Z" fill="#3a64a8" stroke="#17294d" stroke-width="1.0" stroke-linejoin="round"/><path d="M254.3,485.1 L255.9,484.0 L257.9,482.7 L260.1,481.2 L262.4,479.6 L264.9,477.9 L267.5,476.3 L270.1,474.7 L272.6,473.3 L275.0,472.0 L277.5,470.9 L280.2,469.7 L283.1,468.6 L286.0,467.6 L288.9,466.6 L291.7,465.7 L294.2,464.9 L296.6,464.1 L298.5,463.5" fill="none" stroke="#6f98d8" stroke-width="3.5" stroke-linecap="round" filter="url(#bl)"/>
<path d="M144.0,551.3 C145.6,548.2 150.2,539.1 153.3,532.7 C156.4,526.3 159.8,517.6 162.7,512.7 C165.6,507.8 167.8,507.5 170.7,503.3 C173.6,499.1 176.2,493.5 180.0,487.3 C183.8,481.1 189.3,472.2 193.3,466.0 C197.3,459.8 202.2,452.7 204.0,450.0" fill="none" stroke="#17294d" stroke-width="5.4" stroke-linecap="round" stroke-linejoin="round"/><path d="M144.0,551.3 C145.6,548.2 150.2,539.1 153.3,532.7 C156.4,526.3 159.8,517.6 162.7,512.7 C165.6,507.8 167.8,507.5 170.7,503.3 C173.6,499.1 176.2,493.5 180.0,487.3 C183.8,481.1 189.3,472.2 193.3,466.0 C197.3,459.8 202.2,452.7 204.0,450.0" fill="none" stroke="#5a8ad2" stroke-width="3.4" stroke-linecap="round" stroke-linejoin="round"/><path d="M144.0,551.3 C145.6,548.2 150.2,539.1 153.3,532.7 C156.4,526.3 159.8,517.6 162.7,512.7 C165.6,507.8 167.8,507.5 170.7,503.3 C173.6,499.1 176.2,493.5 180.0,487.3 C183.8,481.1 189.3,472.2 193.3,466.0 C197.3,459.8 202.2,452.7 204.0,450.0" fill="none" stroke="#a8cbf4" stroke-width="1.4" stroke-linecap="round" stroke-linejoin="round" transform="translate(-0.4,-0.5)"/>
<path d="M173.1,499.7 L172.4,499.1 L171.5,498.4 L170.6,497.6 L169.5,496.8 L168.5,495.9 L167.4,495.0 L166.5,494.1 L165.6,493.3 L165.0,492.5 L164.6,492.0 L164.3,491.4 L164.0,490.7 L163.8,490.0 L163.6,489.2 L163.4,488.5 L163.4,487.8 L163.3,487.1 L163.4,486.5 L163.5,485.9 L163.6,485.4 L163.8,484.9 L164.2,484.2 L164.6,483.5 L165.2,482.8 L165.8,482.1 L166.5,481.4 L167.3,480.7 L168.0,480.2 L168.8,479.7 L169.5,479.3 L170.2,478.9 L171.1,478.6 L172.2,478.4 L173.2,478.1 L174.4,478.0 L175.5,477.9 L176.5,477.8 L177.5,477.9 L178.3,478.0 L178.9,478.1 L179.4,478.2 L179.9,478.6 L180.5,479.1 L181.2,479.7 L181.8,480.4 L182.5,481.2 L183.1,482.0 L183.7,482.7 L184.3,483.4 L184.7,484.0 L189.3,480.0 L189.0,479.7 L188.6,479.1 L188.0,478.3 L187.4,477.4 L186.7,476.5 L185.8,475.4 L184.9,474.4 L183.8,473.4 L182.5,472.6 L181.1,471.9 L179.6,471.5 L178.2,471.3 L176.8,471.1 L175.3,471.1 L173.8,471.2 L172.3,471.3 L170.8,471.5 L169.3,471.8 L167.9,472.2 L166.5,472.7 L165.2,473.4 L164.0,474.1 L162.8,474.9 L161.6,475.8 L160.5,476.8 L159.5,477.8 L158.6,478.9 L157.7,480.1 L157.0,481.3 L156.4,482.6 L155.9,483.9 L155.6,485.3 L155.4,486.6 L155.4,488.0 L155.4,489.4 L155.6,490.7 L155.9,492.1 L156.3,493.4 L156.7,494.7 L157.4,496.0 L158.2,497.4 L159.2,498.8 L160.3,500.0 L161.5,501.2 L162.7,502.4 L163.8,503.4 L164.8,504.4 L165.7,505.2 L166.4,505.8 L166.9,506.3 Z" fill="#8ab6ea" stroke="#17294d" stroke-width="1.0" stroke-linejoin="round"/><path d="M169.4,502.5 L168.6,501.8 L167.7,501.0 L166.7,500.1 L165.6,499.1 L164.5,498.1 L163.4,497.1 L162.4,496.0 L161.6,495.0 L161.0,494.0 L160.5,493.0 L160.1,492.0 L159.8,491.0 L159.6,490.0 L159.4,488.9 L159.4,487.9 L159.4,486.9 L159.5,485.9 L159.7,484.9 L160.0,484.0 L160.4,483.1 L161.0,482.2 L161.6,481.2 L162.4,480.3 L163.2,479.4 L164.1,478.6 L165.0,477.8 L166.0,477.1 L167.0,476.5 L168.0,476.0 L169.1,475.6 L170.2,475.2 L171.5,474.9 L172.8,474.7 L174.1,474.6 L175.4,474.5 L176.6,474.5 L177.9,474.6 L179.0,474.7 L180.0,475.0 L180.9,475.4 L181.8,476.0 L182.7,476.7 L183.5,477.6 L184.2,478.4 L184.9,479.3 L185.6,480.2 L186.1,480.9 L186.6,481.5" fill="none" stroke="#d6e9ff" stroke-width="4.5" stroke-linecap="round" filter="url(#bl)"/>
<path d="M201.3,448.7 L200.8,449.6 L200.2,450.9 L199.5,452.3 L198.7,454.0 L197.8,455.7 L196.9,457.6 L196.0,459.4 L195.0,461.3 L194.2,463.0 L193.3,464.6 L192.5,466.2 L191.6,467.9 L190.7,469.6 L189.8,471.4 L188.9,473.1 L185.8,471.4 L188.0,481.0 L197.2,477.6 L194.1,475.9 L195.1,474.2 L196.0,472.5 L196.9,470.7 L197.8,469.0 L198.7,467.4 L199.5,465.7 L200.4,464.0 L201.3,462.1 L202.3,460.2 L203.2,458.4 L204.1,456.6 L204.9,455.0 L205.6,453.5 L206.2,452.3 L206.7,451.3 Z" fill="#3a64a8" stroke="#17294d" stroke-width="1.0" stroke-linejoin="round"/><path d="M203.5,451.0 L202.9,452.2 L202.2,453.7 L201.4,455.3 L200.5,457.1 L199.6,458.9 L198.7,460.8 L197.7,462.6 L196.8,464.4 L196.0,466.0 L195.2,467.6 L194.3,469.3 L193.3,471.0 L192.4,472.8" fill="none" stroke="#6f98d8" stroke-width="3.0" stroke-linecap="round" filter="url(#bl)"/>
<path d="M214.9,338.4 L215.9,339.3 L217.3,340.5 L218.9,341.9 L220.7,343.5 L222.6,345.2 L224.6,346.9 L226.6,348.7 L228.6,350.5 L230.5,352.2 L232.3,353.8 L233.9,355.3 L235.5,356.9 L237.1,358.4 L238.7,360.0 L240.3,361.5 L242.0,363.1 L243.6,364.7 L245.3,366.3 L247.1,367.9 L248.9,369.5 L250.8,371.1 L252.8,372.7 L255.0,374.5 L257.1,376.2 L259.3,377.8 L261.3,379.4 L263.2,380.9 L264.9,382.2 L266.4,383.2 L267.5,384.1 L272.5,377.9 L271.5,377.0 L270.1,375.8 L268.5,374.4 L266.7,372.8 L264.7,371.2 L262.7,369.4 L260.7,367.6 L258.7,365.9 L256.8,364.1 L255.1,362.5 L253.6,361.0 L252.0,359.4 L250.5,357.8 L249.0,356.2 L247.5,354.6 L246.0,352.9 L244.5,351.3 L242.9,349.6 L241.3,347.9 L239.7,346.2 L238.0,344.4 L236.2,342.6 L234.2,340.7 L232.3,338.7 L230.4,336.8 L228.6,335.0 L226.9,333.3 L225.4,331.9 L224.1,330.6 L223.1,329.6 Z" fill="#a9a468" stroke="#34321a" stroke-width="1.3" stroke-linejoin="round"/><path d="M220.0,335.0 L221.3,336.2 L222.9,337.6 L224.6,339.2 L226.5,341.0 L228.5,342.8 L230.4,344.7 L232.4,346.5 L234.3,348.3 L236.0,350.0 L237.6,351.6 L239.2,353.2 L240.8,354.8 L242.4,356.4 L243.9,358.1 L245.5,359.7 L247.1,361.3 L248.7,362.9 L250.3,364.4 L252.0,366.0 L253.8,367.6 L255.8,369.3 L257.8,371.0 L259.9,372.8 L262.0,374.5 L264.0,376.1 L265.9,377.6 L267.5,379.0 L268.9,380.1" fill="none" stroke="#d0cd90" stroke-width="6.0" stroke-linecap="round" filter="url(#bl)"/>
<path d="M235.6,338.9 L237.2,339.3 L239.2,339.9 L241.6,340.5 L244.3,341.3 L247.2,342.1 L250.2,342.9 L253.2,343.8 L256.0,344.5 L258.7,345.3 L261.0,345.9 L263.1,346.4 L265.3,346.9 L267.3,347.4 L269.3,347.9 L268.4,351.8 L279.0,346.0 L272.0,336.2 L271.1,340.1 L269.2,339.7 L267.2,339.2 L265.1,338.7 L263.0,338.1 L260.7,337.5 L258.1,336.8 L255.3,336.0 L252.3,335.2 L249.4,334.4 L246.5,333.6 L243.8,332.8 L241.4,332.1 L239.3,331.6 L237.8,331.1 Z" fill="#bdb86e" stroke="#34321a" stroke-width="1.3" stroke-linejoin="round"/><path d="M238.2,335.4 L240.3,336.0 L242.7,336.7 L245.4,337.4 L248.3,338.2 L251.3,339.1 L254.2,339.9 L257.1,340.7 L259.7,341.4 L262.0,342.0 L264.1,342.5 L266.2,343.1 L268.2,343.5" fill="none" stroke="#ebe9ad" stroke-width="4.0" stroke-linecap="round" filter="url(#bl)"/>
<path d="M278.0,347.0 C281.1,347.7 291.4,349.0 296.7,351.0 C302.0,353.0 307.3,355.4 310.0,359.0 C312.7,362.6 314.2,367.6 312.7,372.3 C311.1,377.0 305.6,383.7 300.7,387.0 C295.8,390.3 288.0,392.3 283.3,392.3 C278.6,392.3 275.4,389.0 272.7,387.0 C270.0,385.0 268.2,381.4 267.3,380.3" fill="none" stroke="#34321a" stroke-width="5.6" stroke-linecap="round" stroke-linejoin="round"/><path d="M278.0,347.0 C281.1,347.7 291.4,349.0 296.7,351.0 C302.0,353.0 307.3,355.4 310.0,359.0 C312.7,362.6 314.2,367.6 312.7,372.3 C311.1,377.0 305.6,383.7 300.7,387.0 C295.8,390.3 288.0,392.3 283.3,392.3 C278.6,392.3 275.4,389.0 272.7,387.0 C270.0,385.0 268.2,381.4 267.3,380.3" fill="none" stroke="#c2bd78" stroke-width="3.4" stroke-linecap="round" stroke-linejoin="round"/><path d="M278.0,347.0 C281.1,347.7 291.4,349.0 296.7,351.0 C302.0,353.0 307.3,355.4 310.0,359.0 C312.7,362.6 314.2,367.6 312.7,372.3 C311.1,377.0 305.6,383.7 300.7,387.0 C295.8,390.3 288.0,392.3 283.3,392.3 C278.6,392.3 275.4,389.0 272.7,387.0 C270.0,385.0 268.2,381.4 267.3,380.3" fill="none" stroke="#e6e4a8" stroke-width="1.4" stroke-linecap="round" stroke-linejoin="round" transform="translate(-0.4,-0.5)"/>
<path d="M261.7,871.7 C264.3,870.4 270.9,865.6 277.5,863.8 C284.1,862.0 293.3,862.3 301.2,860.7 C309.1,859.1 318.4,855.6 325.0,854.3 C331.6,853.0 338.2,853.0 340.8,852.7" fill="none" stroke="#4e2a04" stroke-width="5.6" stroke-linecap="round" stroke-linejoin="round"/><path d="M261.7,871.7 C264.3,870.4 270.9,865.6 277.5,863.8 C284.1,862.0 293.3,862.3 301.2,860.7 C309.1,859.1 318.4,855.6 325.0,854.3 C331.6,853.0 338.2,853.0 340.8,852.7" fill="none" stroke="#e39322" stroke-width="3.6" stroke-linecap="round" stroke-linejoin="round"/><path d="M261.7,871.7 C264.3,870.4 270.9,865.6 277.5,863.8 C284.1,862.0 293.3,862.3 301.2,860.7 C309.1,859.1 318.4,855.6 325.0,854.3 C331.6,853.0 338.2,853.0 340.8,852.7" fill="none" stroke="#ffc864" stroke-width="1.4" stroke-linecap="round" stroke-linejoin="round" transform="translate(-0.4,-0.5)"/>
<path d="M206.7,862.0 C202.2,861.8 186.2,862.2 180.0,860.7 C173.8,859.2 171.5,856.3 169.3,852.7 C167.1,849.1 166.2,843.8 166.7,839.3 C167.1,834.8 169.3,828.8 172.0,826.0 C174.7,823.2 180.2,822.2 182.7,822.5 C185.2,822.8 186.1,825.1 187.0,828.0 C187.9,830.9 187.8,838.0 188.0,840.0" fill="none" stroke="#4e2a04" stroke-width="5.6" stroke-linecap="round" stroke-linejoin="round"/><path d="M206.7,862.0 C202.2,861.8 186.2,862.2 180.0,860.7 C173.8,859.2 171.5,856.3 169.3,852.7 C167.1,849.1 166.2,843.8 166.7,839.3 C167.1,834.8 169.3,828.8 172.0,826.0 C174.7,823.2 180.2,822.2 182.7,822.5 C185.2,822.8 186.1,825.1 187.0,828.0 C187.9,830.9 187.8,838.0 188.0,840.0" fill="none" stroke="#e39322" stroke-width="3.6" stroke-linecap="round" stroke-linejoin="round"/><path d="M206.7,862.0 C202.2,861.8 186.2,862.2 180.0,860.7 C173.8,859.2 171.5,856.3 169.3,852.7 C167.1,849.1 166.2,843.8 166.7,839.3 C167.1,834.8 169.3,828.8 172.0,826.0 C174.7,823.2 180.2,822.2 182.7,822.5 C185.2,822.8 186.1,825.1 187.0,828.0 C187.9,830.9 187.8,838.0 188.0,840.0" fill="none" stroke="#ffc864" stroke-width="1.4" stroke-linecap="round" stroke-linejoin="round" transform="translate(-0.4,-0.5)"/>
<path d="M181.1,830.6 L181.2,831.6 L181.5,833.1 L181.7,834.8 L182.0,836.8 L182.4,838.9 L182.8,841.1 L183.2,843.2 L183.7,845.3 L184.3,847.2 L184.9,848.7 L185.4,849.8 L185.7,850.6 L186.1,851.4 L186.6,852.5 L187.6,853.6 L188.8,854.6 L190.2,855.2 L191.7,855.6 L193.5,856.0 L195.6,856.3 L198.3,856.6 L201.6,856.8 L205.3,857.0 L209.3,857.1 L213.5,857.2 L217.8,857.2 L222.1,857.2 L226.2,857.2 L230.0,857.2 L233.5,857.1 L236.8,857.0 L240.1,856.8 L243.4,856.6 L246.5,856.4 L249.5,856.1 L252.3,855.8 L254.9,855.5 L257.2,855.3 L259.0,855.1 L260.6,855.0 L259.4,845.0 L257.9,845.2 L255.9,845.5 L253.7,845.9 L251.2,846.2 L248.4,846.6 L245.5,847.0 L242.5,847.4 L239.4,847.7 L236.2,848.0 L233.1,848.3 L229.7,848.5 L225.9,848.7 L221.9,848.9 L217.7,849.1 L213.5,849.2 L209.3,849.3 L205.4,849.4 L201.9,849.4 L198.8,849.3 L196.4,849.1 L194.5,848.9 L193.2,848.7 L192.4,848.5 L192.2,848.4 L192.3,848.5 L192.4,848.7 L192.3,848.5 L192.0,847.9 L191.6,846.9 L191.1,845.9 L190.6,844.8 L190.1,843.4 L189.6,841.7 L189.1,839.7 L188.6,837.7 L188.2,835.7 L187.8,833.8 L187.5,832.0 L187.2,830.5 L186.9,829.4 Z" fill="#b86a10" stroke="#4e2a04" stroke-width="1.0" stroke-linejoin="round"/><path d="M184.2,831.1 L184.5,832.5 L184.8,834.3 L185.1,836.2 L185.5,838.3 L185.9,840.4 L186.4,842.4 L186.9,844.3 L187.4,846.0 L188.0,847.3 L188.5,848.3 L188.9,849.2 L189.2,850.0 L189.5,850.6 L189.9,851.1 L190.5,851.5 L191.3,851.9 L192.5,852.2 L194.0,852.4 L196.0,852.7 L198.6,852.9 L201.8,853.1 L205.4,853.2 L209.3,853.2 L213.5,853.2 L217.7,853.2 L222.0,853.1 L226.0,853.0 L229.9,852.8 L233.3,852.7 L236.5,852.5 L239.7,852.3 L242.9,852.0 L246.0,851.7 L249.0,851.4 L251.8,851.0 L254.3,850.7 L256.5,850.4 L258.5,850.2" fill="none" stroke="#e89a30" stroke-width="3.0" stroke-linecap="round" filter="url(#bl)"/>
<path d="M258.5,846.4 C260.4,844.5 265.2,839.0 270.0,835.0 C274.8,831.0 284.2,824.8 287.0,822.7" fill="none" stroke="#4e2a04" stroke-width="5.6" stroke-linecap="round" stroke-linejoin="round"/><path d="M258.5,846.4 C260.4,844.5 265.2,839.0 270.0,835.0 C274.8,831.0 284.2,824.8 287.0,822.7" fill="none" stroke="#e39322" stroke-width="3.6" stroke-linecap="round" stroke-linejoin="round"/><path d="M258.5,846.4 C260.4,844.5 265.2,839.0 270.0,835.0 C274.8,831.0 284.2,824.8 287.0,822.7" fill="none" stroke="#ffc864" stroke-width="1.4" stroke-linecap="round" stroke-linejoin="round" transform="translate(-0.4,-0.5)"/>
<path d="M263.9,847.7 L264.6,846.8 L265.6,845.6 L266.7,844.3 L268.0,842.8 L269.3,841.3 L270.7,839.7 L272.2,838.1 L273.7,836.5 L275.2,835.2 L276.6,834.0 L278.1,832.8 L279.8,831.7 L281.6,830.5 L283.6,829.4 L285.5,828.3 L288.1,833.2 L292.0,822.0 L280.5,819.1 L283.1,823.9 L281.1,825.1 L279.1,826.2 L277.1,827.5 L275.2,828.8 L273.4,830.0 L271.8,831.4 L270.2,833.0 L268.6,834.6 L267.0,836.3 L265.6,838.0 L264.2,839.6 L262.9,841.1 L261.8,842.4 L260.9,843.5 L260.1,844.3 Z" fill="#f5b534" stroke="#4e2a04" stroke-width="1.0" stroke-linejoin="round"/><path d="M262.8,845.1 L263.7,844.0 L264.8,842.7 L266.1,841.2 L267.4,839.6 L268.9,838.0 L270.4,836.3 L271.9,834.8 L273.5,833.3 L275.0,832.0 L276.6,830.8 L278.4,829.6 L280.3,828.4 L282.3,827.2" fill="none" stroke="#ffe27a" stroke-width="2.5" stroke-linecap="round" filter="url(#bl)"/>
<path d="M292.0,830.0 C294.9,832.0 302.4,839.8 309.2,841.7 C316.0,843.7 327.2,840.1 333.0,841.7 C338.8,843.3 341.1,848.0 344.0,851.2 C346.9,854.4 349.2,859.1 350.3,860.7" fill="none" stroke="#4e2a04" stroke-width="5.6" stroke-linecap="round" stroke-linejoin="round"/><path d="M292.0,830.0 C294.9,832.0 302.4,839.8 309.2,841.7 C316.0,843.7 327.2,840.1 333.0,841.7 C338.8,843.3 341.1,848.0 344.0,851.2 C346.9,854.4 349.2,859.1 350.3,860.7" fill="none" stroke="#e39322" stroke-width="3.6" stroke-linecap="round" stroke-linejoin="round"/><path d="M292.0,830.0 C294.9,832.0 302.4,839.8 309.2,841.7 C316.0,843.7 327.2,840.1 333.0,841.7 C338.8,843.3 341.1,848.0 344.0,851.2 C346.9,854.4 349.2,859.1 350.3,860.7" fill="none" stroke="#ffc864" stroke-width="1.4" stroke-linecap="round" stroke-linejoin="round" transform="translate(-0.4,-0.5)"/>
<path d="M269.7,848.9 L268.3,849.4 L266.8,850.1 L264.9,850.8 L262.9,851.6 L260.7,852.4 L258.2,853.4 L255.5,854.4 L252.5,855.5 L249.3,856.7 L245.9,857.8 L242.2,859.1 L238.0,860.4 L233.5,861.7 L228.7,863.2 L223.6,864.7 L218.4,866.4 L213.1,868.1 L207.8,869.9 L202.5,871.9 L197.4,874.0 L192.2,876.5 L186.7,879.2 L181.0,882.2 L175.4,885.2 L169.8,888.3 L164.5,891.4 L159.6,894.2 L155.3,896.7 L151.7,898.8 L148.8,900.3 L155.2,911.7 L158.1,910.1 L161.8,907.9 L166.1,905.4 L171.0,902.6 L176.2,899.7 L181.6,896.6 L187.2,893.6 L192.6,890.8 L197.8,888.2 L202.6,886.0 L207.3,884.0 L212.2,882.2 L217.2,880.4 L222.3,878.7 L227.4,877.2 L232.4,875.6 L237.2,874.2 L241.8,872.8 L246.2,871.5 L250.1,870.2 L253.7,868.9 L256.9,867.7 L260.0,866.6 L262.8,865.5 L265.3,864.6 L267.6,863.7 L269.7,862.9 L271.5,862.2 L273.0,861.6 L274.3,861.1 Z" fill="#e8961e" stroke="#4e2a04" stroke-width="1.0" stroke-linejoin="round"/><path d="M270.7,855.5 L269.1,856.1 L267.3,856.8 L265.3,857.6 L263.0,858.5 L260.5,859.5 L257.7,860.5 L254.7,861.6 L251.5,862.8 L248.0,864.0 L244.2,865.3 L239.9,866.6 L235.4,868.0 L230.5,869.4 L225.5,870.9 L220.4,872.5 L215.2,874.2 L210.0,876.0 L204.9,878.0 L200.0,880.0 L195.0,882.3 L189.6,885.0 L184.1,887.9 L178.5,890.9 L173.0,894.0 L167.7,897.0 L162.9,899.8 L158.5,902.3 L154.9,904.4" fill="none" stroke="#ffcf6a" stroke-width="6.5" stroke-linecap="round" filter="url(#bl)"/>
<path d="M264.2,864.9 L262.0,865.8 L259.2,867.1 L255.9,868.5 L252.1,870.2 L248.1,871.9 L243.9,873.8 L239.7,875.7 L235.5,877.5 L231.6,879.3 L228.1,880.9 L224.8,882.5 L221.7,884.0 L218.6,885.5 L215.6,886.9 L212.6,888.4 L209.7,889.9 L206.8,891.4 L203.8,892.9 L200.9,894.4 L197.9,896.0 L194.7,897.7 L191.3,899.6 L187.8,901.6 L184.3,903.6 L180.9,905.5 L177.6,907.4 L174.5,909.2 L171.8,910.8 L169.5,912.1 L167.8,913.1 L172.2,920.9 L174.0,919.9 L176.3,918.6 L179.0,917.0 L182.1,915.2 L185.4,913.3 L188.8,911.4 L192.3,909.4 L195.7,907.5 L199.0,905.6 L202.1,904.0 L205.1,902.4 L208.0,900.9 L210.9,899.4 L213.7,897.9 L216.6,896.5 L219.6,895.0 L222.5,893.6 L225.6,892.1 L228.7,890.6 L231.9,889.1 L235.4,887.5 L239.2,885.7 L243.3,883.9 L247.5,882.0 L251.7,880.2 L255.7,878.4 L259.5,876.8 L262.8,875.3 L265.6,874.1 L267.8,873.1 Z" fill="#b86a10" stroke="#4e2a04" stroke-width="1.0" stroke-linejoin="round"/><path d="M263.8,870.0 L261.0,871.2 L257.7,872.7 L253.9,874.3 L249.9,876.1 L245.7,877.9 L241.5,879.8 L237.4,881.6 L233.5,883.4 L230.0,885.0 L226.8,886.5 L223.6,888.0 L220.6,889.5 L217.6,891.0 L214.6,892.4 L211.7,893.9 L208.8,895.4 L205.9,896.9 L203.0,898.4 L200.0,900.0 L196.9,901.7 L193.5,903.5 L190.1,905.5 L186.6,907.5 L183.1,909.4 L179.8,911.3 L176.8,913.1 L174.1,914.7 L171.8,916.0" fill="none" stroke="#e89a30" stroke-width="4.5" stroke-linecap="round" filter="url(#bl)"/>
<path d="M230.0,857.0 L231.5,857.0 L233.4,857.0 L235.6,857.0 L238.2,857.0 L240.9,857.0 L243.7,857.0 L246.6,857.0 L249.5,857.0 L252.3,857.0 L255.0,857.0 L257.7,857.0 L260.6,857.0 L263.5,857.0 L266.6,857.0 L269.6,857.0 L272.4,857.0 L272.4,860.5 L281.0,852.0 L272.4,843.5 L272.4,847.0 L269.6,847.0 L266.6,847.0 L263.5,847.0 L260.6,847.0 L257.7,847.0 L255.0,847.0 L252.3,847.0 L249.5,847.0 L246.6,847.0 L243.7,847.0 L240.9,847.0 L238.2,847.0 L235.6,847.0 L233.4,847.0 L231.5,847.0 L230.0,847.0 Z" fill="#e8961e" stroke="#4e2a04" stroke-width="1.0" stroke-linejoin="round"/><path d="M231.5,852.0 L233.4,852.0 L235.6,852.0 L238.2,852.0 L240.9,852.0 L243.7,852.0 L246.6,852.0 L249.5,852.0 L252.3,852.0 L255.0,852.0 L257.7,852.0 L260.6,852.0 L263.5,852.0 L266.6,852.0 L269.6,852.0" fill="none" stroke="#ffc860" stroke-width="5.0" stroke-linecap="round" filter="url(#bl)"/>
<path d="M148.5,953.0 L151.5,953.2 L155.2,953.5 L159.7,953.8 L164.7,954.3 L170.3,954.7 L176.1,955.1 L182.2,955.4 L188.3,955.5 L194.4,955.5 L200.3,955.2 L206.2,954.7 L212.3,954.0 L218.6,953.1 L225.0,952.2 L231.4,951.1 L237.8,949.9 L244.0,948.7 L250.0,947.5 L255.6,946.3 L260.9,945.1 L265.8,944.0 L270.4,942.7 L274.7,941.5 L278.8,940.2 L282.8,938.9 L286.5,937.6 L290.2,936.3 L293.8,935.0 L297.4,933.7 L301.1,932.4 L305.0,931.1 L309.0,929.7 L313.1,928.2 L317.1,926.8 L321.1,925.3 L324.8,923.9 L328.3,922.7 L331.3,921.5 L333.9,920.6 L336.0,919.8 L334.0,914.2 L331.9,914.8 L329.3,915.7 L326.2,916.8 L322.7,917.9 L318.9,919.2 L315.0,920.5 L310.9,921.8 L306.8,923.1 L302.8,924.4 L298.9,925.6 L295.1,926.8 L291.4,927.9 L287.8,929.1 L284.1,930.3 L280.4,931.5 L276.5,932.6 L272.5,933.8 L268.3,934.8 L263.9,935.9 L259.1,936.9 L253.9,937.8 L248.3,938.8 L242.4,939.9 L236.2,940.8 L229.9,941.8 L223.6,942.6 L217.3,943.4 L211.2,944.0 L205.3,944.5 L199.7,944.8 L194.3,944.9 L188.5,944.7 L182.7,944.4 L176.9,944.0 L171.2,943.4 L165.8,942.8 L160.9,942.3 L156.4,941.7 L152.5,941.3 L149.5,941.0 Z" fill="#f5b534" stroke="#4e2a04" stroke-width="1.0" stroke-linejoin="round"/><path d="M152.0,947.2 L155.8,947.6 L160.3,948.1 L165.3,948.6 L170.8,949.1 L176.5,949.5 L182.4,949.9 L188.4,950.1 L194.3,950.2 L200.0,950.0 L205.7,949.6 L211.7,949.0 L218.0,948.3 L224.3,947.4 L230.7,946.4 L237.0,945.4 L243.2,944.3 L249.1,943.2 L254.8,942.1 L260.0,941.0 L264.8,939.9 L269.4,938.8 L273.6,937.6 L277.7,936.4 L281.6,935.2 L285.3,933.9 L289.0,932.7 L292.6,931.4 L296.3,930.2 L300.0,929.0 L303.9,927.7 L307.9,926.4 L312.0,925.0 L316.0,923.6 L320.0,922.2 L323.8,920.9 L327.2,919.7 L330.3,918.6 L332.9,917.7" fill="none" stroke="#ffe27a" stroke-width="6.0" stroke-linecap="round" filter="url(#bl)"/>
<path d="M221.0,969.0 C222.5,967.8 223.2,967.9 230.0,962.0 C236.8,956.1 251.1,943.0 261.7,933.5 C272.2,924.0 282.8,912.1 293.3,905.0 C303.9,897.9 315.8,894.7 325.0,890.7 C334.2,886.7 342.1,885.2 348.7,881.2 C355.3,877.2 359.3,869.9 364.6,867.0 C369.9,864.1 372.2,864.1 380.4,863.8 C388.6,863.5 408.1,865.1 413.7,865.4" fill="none" stroke="#5e0c10" stroke-width="6.2" stroke-linecap="round" stroke-linejoin="round"/><path d="M221.0,969.0 C222.5,967.8 223.2,967.9 230.0,962.0 C236.8,956.1 251.1,943.0 261.7,933.5 C272.2,924.0 282.8,912.1 293.3,905.0 C303.9,897.9 315.8,894.7 325.0,890.7 C334.2,886.7 342.1,885.2 348.7,881.2 C355.3,877.2 359.3,869.9 364.6,867.0 C369.9,864.1 372.2,864.1 380.4,863.8 C388.6,863.5 408.1,865.1 413.7,865.4" fill="none" stroke="#c4202a" stroke-width="4.4" stroke-linecap="round" stroke-linejoin="round"/>
<path d="M218.1,975.8 L219.2,974.9 L220.6,973.9 L222.2,972.7 L224.0,971.3 L226.0,969.8 L228.1,968.1 L230.3,966.4 L232.6,964.5 L234.9,962.6 L237.3,960.7 L239.8,958.5 L242.6,956.0 L245.7,953.3 L248.9,950.5 L252.0,947.7 L255.1,944.9 L258.0,942.3 L260.5,940.0 L262.7,938.1 L264.3,936.6 L259.7,931.4 L258.0,932.9 L255.9,934.8 L253.3,937.1 L250.4,939.7 L247.4,942.5 L244.2,945.3 L241.0,948.1 L238.0,950.8 L235.2,953.2 L232.7,955.3 L230.5,957.2 L228.2,959.1 L225.9,960.9 L223.8,962.6 L221.7,964.2 L219.7,965.7 L217.9,967.1 L216.3,968.3 L215.0,969.4 L213.9,970.2 Z" fill="#c4202a" stroke="#4e2a04" stroke-width="1.0" stroke-linejoin="round"/><path d="M217.1,972.1 L218.5,971.1 L220.1,969.9 L221.8,968.5 L223.8,967.0 L225.9,965.4 L228.1,963.6 L230.4,961.8 L232.7,959.9 L235.0,958.0 L237.5,955.9 L240.3,953.4 L243.4,950.7 L246.5,947.9 L249.7,945.1 L252.8,942.3 L255.6,939.7 L258.2,937.4 L260.4,935.5" fill="none" stroke="#e85050" stroke-width="3.5" stroke-linecap="round" filter="url(#bl)"/>
<path d="M276.6,932.2 L273.9,931.5 L270.4,930.5 L266.3,929.3 L261.6,928.0 L256.6,926.6 L251.4,925.2 L246.1,923.7 L240.9,922.4 L235.9,921.2 L231.3,920.1 L227.0,919.2 L222.8,918.4 L218.7,917.7 L214.6,917.0 L210.6,916.3 L206.5,915.7 L202.5,915.2 L198.5,914.8 L194.5,914.4 L190.4,914.0 L186.1,913.8 L181.6,913.6 L176.9,913.6 L172.2,913.6 L167.7,913.6 L163.3,913.7 L159.3,913.8 L159.2,909.8 L150.5,920.0 L159.6,929.8 L159.6,925.8 L163.6,925.7 L167.8,925.6 L172.3,925.6 L176.8,925.6 L181.3,925.6 L185.6,925.8 L189.6,926.0 L193.4,926.3 L197.2,926.7 L201.1,927.1 L204.9,927.6 L208.8,928.2 L212.6,928.8 L216.6,929.5 L220.5,930.2 L224.6,931.0 L228.7,931.9 L233.1,932.9 L237.9,934.0 L243.0,935.3 L248.2,936.7 L253.4,938.2 L258.4,939.6 L263.0,940.9 L267.2,942.0 L270.7,943.0 L273.4,943.8 Z" fill="#b86a10" stroke="#4e2a04" stroke-width="1.0" stroke-linejoin="round"/><path d="M272.3,937.3 L268.8,936.3 L264.7,935.1 L260.0,933.8 L255.0,932.4 L249.8,930.9 L244.5,929.5 L239.4,928.2 L234.5,927.0 L230.0,926.0 L225.8,925.1 L221.7,924.3 L217.6,923.6 L213.6,922.9 L209.7,922.2 L205.7,921.7 L201.8,921.2 L197.9,920.7 L194.0,920.3 L190.0,920.0 L185.9,919.8 L181.4,919.6 L176.9,919.6 L172.3,919.6 L167.8,919.6 L163.4,919.7" fill="none" stroke="#e89a30" stroke-width="6.0" stroke-linecap="round" filter="url(#bl)"/>
<path d="M176.2,917.5 L178.2,917.3 L180.8,917.1 L183.9,916.8 L187.3,916.5 L191.0,916.1 L194.9,915.8 L198.9,915.4 L202.8,915.1 L206.6,914.8 L210.2,914.5 L213.8,914.2 L217.6,914.0 L221.7,913.8 L225.7,913.5 L229.8,913.3 L233.6,913.1 L237.2,912.9 L240.4,912.8 L240.5,914.7 L245.0,910.0 L240.0,905.8 L240.1,907.8 L236.9,907.9 L233.3,908.1 L229.5,908.3 L225.5,908.5 L221.4,908.8 L217.3,909.0 L213.5,909.3 L209.8,909.5 L206.2,909.8 L202.4,910.1 L198.4,910.4 L194.5,910.8 L190.6,911.1 L186.9,911.5 L183.4,911.8 L180.4,912.1 L177.8,912.3 L175.8,912.5 Z" fill="#f5b534" stroke="#4e2a04" stroke-width="1.0" stroke-linejoin="round"/><path d="M178.0,914.8 L180.6,914.6 L183.7,914.3 L187.1,914.0 L190.8,913.6 L194.7,913.3 L198.7,912.9 L202.6,912.6 L206.4,912.3 L210.0,912.0 L213.6,911.8 L217.5,911.5 L221.5,911.3 L225.6,911.0 L229.6,910.8 L233.5,910.6 L237.0,910.4" fill="none" stroke="#ffe27a" stroke-width="2.5" stroke-linecap="round" filter="url(#bl)"/>
<path d="M108.0,944.7 C111.1,944.2 121.4,942.5 126.7,942.0 C132.0,941.5 136.4,941.3 140.0,942.0 C143.6,942.7 146.7,945.3 148.0,946.0" fill="none" stroke="#4e2a04" stroke-width="5.6" stroke-linecap="round" stroke-linejoin="round"/><path d="M108.0,944.7 C111.1,944.2 121.4,942.5 126.7,942.0 C132.0,941.5 136.4,941.3 140.0,942.0 C143.6,942.7 146.7,945.3 148.0,946.0" fill="none" stroke="#e39322" stroke-width="3.6" stroke-linecap="round" stroke-linejoin="round"/><path d="M108.0,944.7 C111.1,944.2 121.4,942.5 126.7,942.0 C132.0,941.5 136.4,941.3 140.0,942.0 C143.6,942.7 146.7,945.3 148.0,946.0" fill="none" stroke="#ffc864" stroke-width="1.4" stroke-linecap="round" stroke-linejoin="round" transform="translate(-0.4,-0.5)"/>
<path d="M230.0,932.0 C223.3,932.2 202.5,932.5 190.0,933.0 C177.5,933.5 163.8,932.7 155.0,935.0 C146.2,937.3 139.5,942.5 137.0,947.0 C134.5,951.5 136.5,958.0 140.0,962.0 C143.5,966.0 150.5,970.0 158.0,971.0 C165.5,972.0 177.0,970.0 185.0,968.0 C193.0,966.0 202.5,960.5 206.0,959.0" fill="none" stroke="#4e2a04" stroke-width="5.6" stroke-linecap="round" stroke-linejoin="round"/><path d="M230.0,932.0 C223.3,932.2 202.5,932.5 190.0,933.0 C177.5,933.5 163.8,932.7 155.0,935.0 C146.2,937.3 139.5,942.5 137.0,947.0 C134.5,951.5 136.5,958.0 140.0,962.0 C143.5,966.0 150.5,970.0 158.0,971.0 C165.5,972.0 177.0,970.0 185.0,968.0 C193.0,966.0 202.5,960.5 206.0,959.0" fill="none" stroke="#e39322" stroke-width="3.6" stroke-linecap="round" stroke-linejoin="round"/><path d="M230.0,932.0 C223.3,932.2 202.5,932.5 190.0,933.0 C177.5,933.5 163.8,932.7 155.0,935.0 C146.2,937.3 139.5,942.5 137.0,947.0 C134.5,951.5 136.5,958.0 140.0,962.0 C143.5,966.0 150.5,970.0 158.0,971.0 C165.5,972.0 177.0,970.0 185.0,968.0 C193.0,966.0 202.5,960.5 206.0,959.0" fill="none" stroke="#ffc864" stroke-width="1.4" stroke-linecap="round" stroke-linejoin="round" transform="translate(-0.4,-0.5)"/>
<path d="M245.8,854.3 C248.5,857.5 257.5,866.2 261.7,873.3 C265.9,880.4 269.4,889.2 271.2,897.1 C273.0,905.0 273.5,914.5 272.7,920.8 C271.9,927.1 269.5,932.4 266.4,935.0 C263.2,937.6 258.6,937.0 253.8,936.7 C249.1,936.5 240.6,934.0 237.9,933.5" fill="none" stroke="#4e2a04" stroke-width="5.6" stroke-linecap="round" stroke-linejoin="round"/><path d="M245.8,854.3 C248.5,857.5 257.5,866.2 261.7,873.3 C265.9,880.4 269.4,889.2 271.2,897.1 C273.0,905.0 273.5,914.5 272.7,920.8 C271.9,927.1 269.5,932.4 266.4,935.0 C263.2,937.6 258.6,937.0 253.8,936.7 C249.1,936.5 240.6,934.0 237.9,933.5" fill="none" stroke="#e39322" stroke-width="3.6" stroke-linecap="round" stroke-linejoin="round"/><path d="M245.8,854.3 C248.5,857.5 257.5,866.2 261.7,873.3 C265.9,880.4 269.4,889.2 271.2,897.1 C273.0,905.0 273.5,914.5 272.7,920.8 C271.9,927.1 269.5,932.4 266.4,935.0 C263.2,937.6 258.6,937.0 253.8,936.7 C249.1,936.5 240.6,934.0 237.9,933.5" fill="none" stroke="#ffc864" stroke-width="1.4" stroke-linecap="round" stroke-linejoin="round" transform="translate(-0.4,-0.5)"/>
<path d="M277.5,852.7 C280.1,854.0 289.9,854.6 293.3,860.7 C296.7,866.8 295.9,879.2 298.0,889.2 C300.1,899.2 303.6,911.6 306.0,920.8 C308.4,930.0 308.6,939.3 312.3,944.6 C316.0,949.9 321.9,952.5 328.2,952.5 C334.5,952.5 346.1,947.8 350.3,944.6 C354.5,941.4 355.1,938.0 353.5,933.5 C351.9,929.0 346.9,921.1 340.8,917.7 C334.7,914.3 323.7,913.2 317.1,912.9 C310.5,912.6 307.8,915.0 301.2,916.1 C294.6,917.2 285.4,917.1 277.5,919.2 C269.6,921.3 261.7,925.8 253.8,928.7 C245.9,931.6 234.0,935.4 230.0,936.7" fill="none" stroke="#4e2a04" stroke-width="5.6" stroke-linecap="round" stroke-linejoin="round"/><path d="M277.5,852.7 C280.1,854.0 289.9,854.6 293.3,860.7 C296.7,866.8 295.9,879.2 298.0,889.2 C300.1,899.2 303.6,911.6 306.0,920.8 C308.4,930.0 308.6,939.3 312.3,944.6 C316.0,949.9 321.9,952.5 328.2,952.5 C334.5,952.5 346.1,947.8 350.3,944.6 C354.5,941.4 355.1,938.0 353.5,933.5 C351.9,929.0 346.9,921.1 340.8,917.7 C334.7,914.3 323.7,913.2 317.1,912.9 C310.5,912.6 307.8,915.0 301.2,916.1 C294.6,917.2 285.4,917.1 277.5,919.2 C269.6,921.3 261.7,925.8 253.8,928.7 C245.9,931.6 234.0,935.4 230.0,936.7" fill="none" stroke="#e39322" stroke-width="3.6" stroke-linecap="round" stroke-linejoin="round"/><path d="M277.5,852.7 C280.1,854.0 289.9,854.6 293.3,860.7 C296.7,866.8 295.9,879.2 298.0,889.2 C300.1,899.2 303.6,911.6 306.0,920.8 C308.4,930.0 308.6,939.3 312.3,944.6 C316.0,949.9 321.9,952.5 328.2,952.5 C334.5,952.5 346.1,947.8 350.3,944.6 C354.5,941.4 355.1,938.0 353.5,933.5 C351.9,929.0 346.9,921.1 340.8,917.7 C334.7,914.3 323.7,913.2 317.1,912.9 C310.5,912.6 307.8,915.0 301.2,916.1 C294.6,917.2 285.4,917.1 277.5,919.2 C269.6,921.3 261.7,925.8 253.8,928.7 C245.9,931.6 234.0,935.4 230.0,936.7" fill="none" stroke="#ffc864" stroke-width="1.4" stroke-linecap="round" stroke-linejoin="round" transform="translate(-0.4,-0.5)"/>
<path d="M245.8,912.9 L237.9,920.8" fill="none" stroke="#4e2a04" stroke-width="5.6" stroke-linecap="round" stroke-linejoin="round"/><path d="M245.8,912.9 L237.9,920.8" fill="none" stroke="#e39322" stroke-width="3.6" stroke-linecap="round" stroke-linejoin="round"/><path d="M245.8,912.9 L237.9,920.8" fill="none" stroke="#ffc864" stroke-width="1.4" stroke-linecap="round" stroke-linejoin="round" transform="translate(-0.4,-0.5)"/>
<path d="M283.8,914.5 L280.7,901.8 L285.4,889.2 L293.3,882.8 L302.8,887.6 L310.7,878.1 L320.2,884.4 L320.2,892.3 M310.7,878.1 L309.2,871.7" fill="none" stroke="#555" stroke-width="3.4" stroke-linecap="round" stroke-linejoin="round"/>
<path d="M283.8,914.5 L280.7,901.8 L285.4,889.2 L293.3,882.8 L302.8,887.6 L310.7,878.1 L320.2,884.4 L320.2,892.3 M310.7,878.1 L309.2,871.7" fill="none" stroke="#c8c8c8" stroke-width="1.8" stroke-linecap="round" stroke-linejoin="round"/>
<circle cx="280.7" cy="901.8" r="2.6" fill="#bbb" stroke="#444" stroke-width="0.6"/>
<circle cx="285.4" cy="889.2" r="2.6" fill="#bbb" stroke="#444" stroke-width="0.6"/>
<circle cx="293.3" cy="882.8" r="2.6" fill="#bbb" stroke="#444" stroke-width="0.6"/>
<circle cx="302.8" cy="887.6" r="2.6" fill="#2a4fd0" stroke="#444" stroke-width="0.6"/>
<circle cx="310.7" cy="878.1" r="2.6" fill="#bbb" stroke="#444" stroke-width="0.6"/>
<circle cx="309.2" cy="871.7" r="2.6" fill="#c8141a" stroke="#444" stroke-width="0.6"/>
<circle cx="320.2" cy="884.4" r="2.6" fill="#bbb" stroke="#444" stroke-width="0.6"/>
<path d="M291.9,1134.7 L287.3,1122.7 L292.7,1112 L286,1101.3 L291.3,1090.7 L284.7,1081.3 L283.3,1073.3 L279.3,1066.7 L291.3,1061.3 L292.7,1052 L287.3,1045.3 L280.1,1048 L274,1042.7 L268.7,1037.3 L260.7,1040 L255.3,1033.3 L247.3,1036 L242,1030.7 L236.7,1033.3 M279.3,1066.7 L274,1060 M292.7,1052 L290,1040 M242,1030.7 L239.3,1041.3 M280.1,1048 L279.3,1066.7" fill="none" stroke="#5a4a36" stroke-width="4.6" stroke-linejoin="round" stroke-linecap="round"/>
<path d="M291.9,1134.7 L287.3,1122.7 L292.7,1112 L286,1101.3 L291.3,1090.7 L284.7,1081.3 L283.3,1073.3 L279.3,1066.7 L291.3,1061.3 L292.7,1052 L287.3,1045.3 L280.1,1048 L274,1042.7 L268.7,1037.3 L260.7,1040 L255.3,1033.3 L247.3,1036 L242,1030.7 L236.7,1033.3 M279.3,1066.7 L274,1060 M292.7,1052 L290,1040 M242,1030.7 L239.3,1041.3 M280.1,1048 L279.3,1066.7" fill="none" stroke="#e2cfae" stroke-width="2.8" stroke-linejoin="round" stroke-linecap="round"/>
<g fill="#e6d2b0" stroke="#5a4a36" stroke-width="0.7"><circle cx="291.9" cy="1134.7" r="2.5"/><circle cx="287.3" cy="1122.7" r="2.5"/><circle cx="292.7" cy="1112" r="2.5"/><circle cx="286" cy="1101.3" r="2.5"/><circle cx="291.3" cy="1090.7" r="2.5"/><circle cx="284.7" cy="1081.3" r="2.5"/><circle cx="283.3" cy="1073.3" r="2.5"/><circle cx="279.3" cy="1066.7" r="2.5"/><circle cx="291.3" cy="1061.3" r="2.5"/><circle cx="292.7" cy="1052" r="2.5"/><circle cx="287.3" cy="1045.3" r="2.5"/><circle cx="280.1" cy="1048" r="2.5"/><circle cx="274" cy="1042.7" r="2.5"/><circle cx="268.7" cy="1037.3" r="2.5"/><circle cx="260.7" cy="1040" r="2.5"/><circle cx="255.3" cy="1033.3" r="2.5"/><circle cx="247.3" cy="1036" r="2.5"/><circle cx="242" cy="1030.7" r="2.5"/><circle cx="236.7" cy="1033.3" r="2.5"/></g>
<circle cx="291.9" cy="1134.7" r="3.2" fill="#e0e040" stroke="#333" stroke-width="0.6"/>
<circle cx="283.3" cy="1073.3" r="3.2" fill="#e0e040" stroke="#333" stroke-width="0.6"/>
<circle cx="274" cy="1060" r="3.3" fill="#c01818" stroke="#333" stroke-width="0.6"/>
<circle cx="290" cy="1040" r="3.3" fill="#c01818" stroke="#333" stroke-width="0.6"/>
<circle cx="280.1" cy="1048" r="3.2" fill="#2040c0" stroke="#333" stroke-width="0.6"/>
<circle cx="239.3" cy="1041.3" r="3.3" fill="#c01818" stroke="#333" stroke-width="0.6"/>
<defs><radialGradient id="au" cx="0.42" cy="0.38" r="0.62"><stop offset="0" stop-color="#fffbb0"/><stop offset="0.3" stop-color="#fbe62a"/><stop offset="0.75" stop-color="#dcbc08"/><stop offset="1" stop-color="#806400"/></radialGradient></defs>
<g fill="url(#au)" stroke="#6a5500" stroke-width="0.7"><circle cx="438.9" cy="1172.4" r="8.8"/><circle cx="436.8" cy="1174.2" r="8.8"/><circle cx="434.6" cy="1176.0" r="8.8"/><circle cx="432.4" cy="1177.9" r="8.8"/><circle cx="430.1" cy="1179.8" r="8.8"/><circle cx="427.9" cy="1181.6" r="8.8"/><circle cx="425.8" cy="1183.5" r="8.8"/><circle cx="423.6" cy="1185.3" r="8.8"/><circle cx="421.4" cy="1187.2" r="8.8"/><circle cx="419.1" cy="1189.0" r="8.8"/><circle cx="416.9" cy="1190.9" r="8.8"/><circle cx="430.9" cy="1155.0" r="8.8"/><circle cx="428.8" cy="1156.8" r="8.8"/><circle cx="426.6" cy="1158.6" r="8.8"/><circle cx="424.4" cy="1160.5" r="8.8"/><circle cx="422.1" cy="1162.3" r="8.8"/><circle cx="419.9" cy="1164.2" r="8.8"/><circle cx="417.8" cy="1166.0" r="8.8"/><circle cx="415.6" cy="1167.9" r="8.8"/><circle cx="413.4" cy="1169.8" r="8.8"/><circle cx="411.1" cy="1171.6" r="8.8"/><circle cx="408.9" cy="1173.5" r="8.8"/><circle cx="179.7" cy="1137.7" r="8.8"/><circle cx="197.1" cy="1137.7" r="8.8"/><circle cx="214.6" cy="1137.7" r="8.8"/><circle cx="232.1" cy="1137.7" r="8.8"/><circle cx="249.5" cy="1137.7" r="8.8"/><circle cx="266.9" cy="1137.7" r="8.8"/><circle cx="284.4" cy="1137.7" r="8.8"/><circle cx="301.8" cy="1137.7" r="8.8"/><circle cx="319.3" cy="1137.7" r="8.8"/><circle cx="336.7" cy="1137.7" r="8.8"/><circle cx="354.2" cy="1137.7" r="8.8"/><circle cx="371.6" cy="1137.7" r="8.8"/><circle cx="389.1" cy="1137.7" r="8.8"/><circle cx="406.6" cy="1137.7" r="8.8"/><circle cx="424.0" cy="1137.7" r="8.8"/><circle cx="441.4" cy="1137.7" r="8.8"/><circle cx="177.5" cy="1139.5" r="8.8"/><circle cx="194.9" cy="1139.5" r="8.8"/><circle cx="212.4" cy="1139.5" r="8.8"/><circle cx="229.8" cy="1139.5" r="8.8"/><circle cx="247.3" cy="1139.5" r="8.8"/><circle cx="264.8" cy="1139.5" r="8.8"/><circle cx="282.2" cy="1139.5" r="8.8"/><circle cx="299.6" cy="1139.5" r="8.8"/><circle cx="317.1" cy="1139.5" r="8.8"/><circle cx="334.5" cy="1139.5" r="8.8"/><circle cx="352.0" cy="1139.5" r="8.8"/><circle cx="369.4" cy="1139.5" r="8.8"/><circle cx="386.9" cy="1139.5" r="8.8"/><circle cx="404.4" cy="1139.5" r="8.8"/><circle cx="421.8" cy="1139.5" r="8.8"/><circle cx="439.2" cy="1139.5" r="8.8"/><circle cx="175.3" cy="1141.3" r="8.8"/><circle cx="192.8" cy="1141.3" r="8.8"/><circle cx="210.2" cy="1141.3" r="8.8"/><circle cx="227.7" cy="1141.3" r="8.8"/><circle cx="245.1" cy="1141.3" r="8.8"/><circle cx="262.6" cy="1141.3" r="8.8"/><circle cx="280.0" cy="1141.3" r="8.8"/><circle cx="297.4" cy="1141.3" r="8.8"/><circle cx="314.9" cy="1141.3" r="8.8"/><circle cx="332.3" cy="1141.3" r="8.8"/><circle cx="349.8" cy="1141.3" r="8.8"/><circle cx="367.2" cy="1141.3" r="8.8"/><circle cx="384.7" cy="1141.3" r="8.8"/><circle cx="402.2" cy="1141.3" r="8.8"/><circle cx="419.6" cy="1141.3" r="8.8"/><circle cx="437.1" cy="1141.3" r="8.8"/><circle cx="173.1" cy="1143.2" r="8.8"/><circle cx="190.5" cy="1143.2" r="8.8"/><circle cx="208.0" cy="1143.2" r="8.8"/><circle cx="225.4" cy="1143.2" r="8.8"/><circle cx="242.9" cy="1143.2" r="8.8"/><circle cx="260.4" cy="1143.2" r="8.8"/><circle cx="277.8" cy="1143.2" r="8.8"/><circle cx="295.2" cy="1143.2" r="8.8"/><circle cx="312.7" cy="1143.2" r="8.8"/><circle cx="330.1" cy="1143.2" r="8.8"/><circle cx="347.6" cy="1143.2" r="8.8"/><circle cx="365.1" cy="1143.2" r="8.8"/><circle cx="382.5" cy="1143.2" r="8.8"/><circle cx="400.0" cy="1143.2" r="8.8"/><circle cx="417.4" cy="1143.2" r="8.8"/><circle cx="434.9" cy="1143.2" r="8.8"/><circle cx="170.9" cy="1145.0" r="8.8"/><circle cx="188.3" cy="1145.0" r="8.8"/><circle cx="205.8" cy="1145.0" r="8.8"/><circle cx="223.2" cy="1145.0" r="8.8"/><circle cx="240.7" cy="1145.0" r="8.8"/><circle cx="258.1" cy="1145.0" r="8.8"/><circle cx="275.6" cy="1145.0" r="8.8"/><circle cx="293.0" cy="1145.0" r="8.8"/><circle cx="310.5" cy="1145.0" r="8.8"/><circle cx="327.9" cy="1145.0" r="8.8"/><circle cx="345.4" cy="1145.0" r="8.8"/><circle cx="362.8" cy="1145.0" r="8.8"/><circle cx="380.3" cy="1145.0" r="8.8"/><circle cx="397.8" cy="1145.0" r="8.8"/><circle cx="415.2" cy="1145.0" r="8.8"/><circle cx="432.6" cy="1145.0" r="8.8"/><circle cx="168.7" cy="1146.9" r="8.8"/><circle cx="186.1" cy="1146.9" r="8.8"/><circle cx="203.6" cy="1146.9" r="8.8"/><circle cx="221.0" cy="1146.9" r="8.8"/><circle cx="238.5" cy="1146.9" r="8.8"/><circle cx="255.9" cy="1146.9" r="8.8"/><circle cx="273.4" cy="1146.9" r="8.8"/><circle cx="290.8" cy="1146.9" r="8.8"/><circle cx="308.3" cy="1146.9" r="8.8"/><circle cx="325.7" cy="1146.9" r="8.8"/><circle cx="343.2" cy="1146.9" r="8.8"/><circle cx="360.6" cy="1146.9" r="8.8"/><circle cx="378.1" cy="1146.9" r="8.8"/><circle cx="395.6" cy="1146.9" r="8.8"/><circle cx="413.0" cy="1146.9" r="8.8"/><circle cx="430.4" cy="1146.9" r="8.8"/><circle cx="166.5" cy="1148.8" r="8.8"/><circle cx="183.9" cy="1148.8" r="8.8"/><circle cx="201.4" cy="1148.8" r="8.8"/><circle cx="218.8" cy="1148.8" r="8.8"/><circle cx="236.3" cy="1148.8" r="8.8"/><circle cx="253.8" cy="1148.8" r="8.8"/><circle cx="271.2" cy="1148.8" r="8.8"/><circle cx="288.6" cy="1148.8" r="8.8"/><circle cx="306.1" cy="1148.8" r="8.8"/><circle cx="323.5" cy="1148.8" r="8.8"/><circle cx="341.0" cy="1148.8" r="8.8"/><circle cx="358.4" cy="1148.8" r="8.8"/><circle cx="375.9" cy="1148.8" r="8.8"/><circle cx="393.4" cy="1148.8" r="8.8"/><circle cx="410.8" cy="1148.8" r="8.8"/><circle cx="428.2" cy="1148.8" r="8.8"/><circle cx="164.3" cy="1150.6" r="8.8"/><circle cx="181.8" cy="1150.6" r="8.8"/><circle cx="199.2" cy="1150.6" r="8.8"/><circle cx="216.7" cy="1150.6" r="8.8"/><circle cx="234.1" cy="1150.6" r="8.8"/><circle cx="251.6" cy="1150.6" r="8.8"/><circle cx="269.0" cy="1150.6" r="8.8"/><circle cx="286.4" cy="1150.6" r="8.8"/><circle cx="303.9" cy="1150.6" r="8.8"/><circle cx="321.3" cy="1150.6" r="8.8"/><circle cx="338.8" cy="1150.6" r="8.8"/><circle cx="356.2" cy="1150.6" r="8.8"/><circle cx="373.7" cy="1150.6" r="8.8"/><circle cx="391.2" cy="1150.6" r="8.8"/><circle cx="408.6" cy="1150.6" r="8.8"/><circle cx="426.1" cy="1150.6" r="8.8"/><circle cx="162.1" cy="1152.5" r="8.8"/><circle cx="179.5" cy="1152.5" r="8.8"/><circle cx="197.0" cy="1152.5" r="8.8"/><circle cx="214.4" cy="1152.5" r="8.8"/><circle cx="231.9" cy="1152.5" r="8.8"/><circle cx="249.3" cy="1152.5" r="8.8"/><circle cx="266.8" cy="1152.5" r="8.8"/><circle cx="284.2" cy="1152.5" r="8.8"/><circle cx="301.7" cy="1152.5" r="8.8"/><circle cx="319.1" cy="1152.5" r="8.8"/><circle cx="336.6" cy="1152.5" r="8.8"/><circle cx="354.1" cy="1152.5" r="8.8"/><circle cx="371.5" cy="1152.5" r="8.8"/><circle cx="389.0" cy="1152.5" r="8.8"/><circle cx="406.4" cy="1152.5" r="8.8"/><circle cx="423.9" cy="1152.5" r="8.8"/><circle cx="159.9" cy="1154.3" r="8.8"/><circle cx="177.3" cy="1154.3" r="8.8"/><circle cx="194.8" cy="1154.3" r="8.8"/><circle cx="212.2" cy="1154.3" r="8.8"/><circle cx="229.7" cy="1154.3" r="8.8"/><circle cx="247.2" cy="1154.3" r="8.8"/><circle cx="264.6" cy="1154.3" r="8.8"/><circle cx="282.0" cy="1154.3" r="8.8"/><circle cx="299.5" cy="1154.3" r="8.8"/><circle cx="316.9" cy="1154.3" r="8.8"/><circle cx="334.4" cy="1154.3" r="8.8"/><circle cx="351.8" cy="1154.3" r="8.8"/><circle cx="369.3" cy="1154.3" r="8.8"/><circle cx="386.8" cy="1154.3" r="8.8"/><circle cx="404.2" cy="1154.3" r="8.8"/><circle cx="421.6" cy="1154.3" r="8.8"/><circle cx="157.7" cy="1156.2" r="8.8"/><circle cx="175.1" cy="1156.2" r="8.8"/><circle cx="192.6" cy="1156.2" r="8.8"/><circle cx="210.0" cy="1156.2" r="8.8"/><circle cx="227.5" cy="1156.2" r="8.8"/><circle cx="244.9" cy="1156.2" r="8.8"/><circle cx="262.4" cy="1156.2" r="8.8"/><circle cx="279.8" cy="1156.2" r="8.8"/><circle cx="297.3" cy="1156.2" r="8.8"/><circle cx="314.7" cy="1156.2" r="8.8"/><circle cx="332.2" cy="1156.2" r="8.8"/><circle cx="349.6" cy="1156.2" r="8.8"/><circle cx="367.1" cy="1156.2" r="8.8"/><circle cx="384.6" cy="1156.2" r="8.8"/><circle cx="402.0" cy="1156.2" r="8.8"/><circle cx="419.4" cy="1156.2" r="8.8"/><circle cx="153.0" cy="1192.7" r="8.8"/><circle cx="170.4" cy="1192.7" r="8.8"/><circle cx="187.9" cy="1192.7" r="8.8"/><circle cx="205.3" cy="1192.7" r="8.8"/><circle cx="222.8" cy="1192.7" r="8.8"/><circle cx="240.2" cy="1192.7" r="8.8"/><circle cx="257.7" cy="1192.7" r="8.8"/><circle cx="275.1" cy="1192.7" r="8.8"/><circle cx="292.6" cy="1192.7" r="8.8"/><circle cx="310.0" cy="1192.7" r="8.8"/><circle cx="327.5" cy="1192.7" r="8.8"/><circle cx="344.9" cy="1192.7" r="8.8"/><circle cx="362.4" cy="1192.7" r="8.8"/><circle cx="379.9" cy="1192.7" r="8.8"/><circle cx="397.3" cy="1192.7" r="8.8"/><circle cx="414.8" cy="1192.7" r="8.8"/><circle cx="145.0" cy="1175.3" r="8.8"/><circle cx="162.4" cy="1175.3" r="8.8"/><circle cx="179.9" cy="1175.3" r="8.8"/><circle cx="197.3" cy="1175.3" r="8.8"/><circle cx="214.8" cy="1175.3" r="8.8"/><circle cx="232.2" cy="1175.3" r="8.8"/><circle cx="249.7" cy="1175.3" r="8.8"/><circle cx="267.1" cy="1175.3" r="8.8"/><circle cx="284.6" cy="1175.3" r="8.8"/><circle cx="302.0" cy="1175.3" r="8.8"/><circle cx="319.5" cy="1175.3" r="8.8"/><circle cx="336.9" cy="1175.3" r="8.8"/><circle cx="354.4" cy="1175.3" r="8.8"/><circle cx="371.9" cy="1175.3" r="8.8"/><circle cx="389.3" cy="1175.3" r="8.8"/><circle cx="406.8" cy="1175.3" r="8.8"/><circle cx="155.5" cy="1158.0" r="8.8"/><circle cx="172.9" cy="1158.0" r="8.8"/><circle cx="190.4" cy="1158.0" r="8.8"/><circle cx="207.8" cy="1158.0" r="8.8"/><circle cx="225.3" cy="1158.0" r="8.8"/><circle cx="242.8" cy="1158.0" r="8.8"/><circle cx="260.2" cy="1158.0" r="8.8"/><circle cx="277.6" cy="1158.0" r="8.8"/><circle cx="295.1" cy="1158.0" r="8.8"/><circle cx="312.5" cy="1158.0" r="8.8"/><circle cx="330.0" cy="1158.0" r="8.8"/><circle cx="347.4" cy="1158.0" r="8.8"/><circle cx="364.9" cy="1158.0" r="8.8"/><circle cx="382.4" cy="1158.0" r="8.8"/><circle cx="399.8" cy="1158.0" r="8.8"/><circle cx="417.2" cy="1158.0" r="8.8"/></g>
<text x="37" y="208.7" font-size="28.5" font-weight="bold">b</text>
<text class="sf" x="338.8" y="295.5" font-size="21.5" fill="#111" textLength="35.2" lengthAdjust="spacingAndGlyphs">GFP</text>
<text class="sf" x="384.8" y="295.5" font-size="21.5" fill="#111" textLength="51.0" lengthAdjust="spacingAndGlyphs">target</text>
<text class="sf" x="269.6" y="512.6" font-size="21.5" fill="#111" textLength="87.6" lengthAdjust="spacingAndGlyphs">nanobody</text>
<text class="sf" x="160.25" y="663.1" font-size="21.5" fill="#111" textLength="64.8" lengthAdjust="spacingAndGlyphs">flexible</text>
<text class="sf" x="236.0" y="663.1" font-size="21.5" fill="#111" textLength="50.2" lengthAdjust="spacingAndGlyphs">linker</text>
<text class="sf" x="197.6" y="804.7" font-size="21.5" fill="#111" textLength="98.1" lengthAdjust="spacingAndGlyphs">spyCatcher</text>
<text class="sf" x="345.6" y="793.8" font-size="21.5" fill="#111" textLength="91.0" lengthAdjust="spacingAndGlyphs">isopeptide</text>
<text class="sf" x="369.4" y="818.75" font-size="21.5" fill="#111" textLength="42.7" lengthAdjust="spacingAndGlyphs">bond</text>
<text class="sf" x="298.0" y="992.2" font-size="21.5" fill="#111" textLength="130.8" lengthAdjust="spacingAndGlyphs">MCA-modified</text>
<text class="sf" x="298.0" y="1016.0" font-size="21.5" fill="#111" textLength="58.5" lengthAdjust="spacingAndGlyphs">spyTag</text>
<text class="sf" x="368.5" y="1016.0" font-size="21.5" fill="#111" textLength="68.5" lengthAdjust="spacingAndGlyphs">peptide</text>
<text class="sf" x="46.1" y="1036.6" font-size="21.5" fill="#111" textLength="62.4" lengthAdjust="spacingAndGlyphs">flexible</text>
<text class="sf" x="121.0" y="1036.6" font-size="21.5" fill="#111" textLength="50.5" lengthAdjust="spacingAndGlyphs">linker</text>
<text class="sf" x="78.3" y="1062.2" font-size="21.5" fill="#111" textLength="62.5" lengthAdjust="spacingAndGlyphs">(SGSG)</text>
<text class="sf" x="343.0" y="1100.4" font-size="21.5" fill="#111" textLength="39.0" lengthAdjust="spacingAndGlyphs">HDT</text>
<text class="sf" x="45.4" y="1153.5" font-size="21.5" fill="#111" textLength="38.1" lengthAdjust="spacingAndGlyphs">gold</text>
<text class="sf" x="94.0" y="1153.5" font-size="21.5" fill="#111" textLength="43.5" lengthAdjust="spacingAndGlyphs">layer</text>
<text class="sf" x="254.5" y="1222.5" font-size="21.5" fill="#111" textLength="9.0" lengthAdjust="spacingAndGlyphs">4</text>
<text class="sf" x="274.0" y="1222.5" font-size="21.5" fill="#111" textLength="28.5" lengthAdjust="spacingAndGlyphs">nm</text>
<text x="191.6" y="686.8" font-size="15" fill="#111" textLength="5" lengthAdjust="spacingAndGlyphs">(</text>
<text x="198.6" y="688.1" font-size="17.3" fill="#111" stroke="#111" stroke-width="0.45" textLength="17.4" lengthAdjust="spacingAndGlyphs">31</text>
<text class="sf" x="229.4" y="688.1" font-size="21.5" fill="#111" textLength="20.2" lengthAdjust="spacingAndGlyphs">aa</text>
<text x="250.2" y="686.8" font-size="15" fill="#111" textLength="5" lengthAdjust="spacingAndGlyphs">)</text>
<path d="M320,872 L377,827" stroke="#111" stroke-width="1.4"/>
<path d="M230,973.3 L291.3,997.3" stroke="#111" stroke-width="1.4"/>
<path d="M135.3,1014.7 L176.7,1007.5" stroke="#111" stroke-width="1.4"/>
<path d="M295,1092.6 L338.5,1092.6" stroke="#111" stroke-width="1.4"/>
<path d="M146,1227 H411" stroke="#000" stroke-width="2.6"/>
<path d="M131.5,1227 L150,1219.5 L146,1227 L150,1234.5 Z" fill="#000"/>
<path d="M425.5,1227 L407,1219.5 L411,1227 L407,1234.5 Z" fill="#000"/>
<text x="461.5" y="204.3" font-size="28.5" font-weight="bold">c</text>
<clipPath id="cclip"><rect x="561.3" y="220.8" width="575" height="354.4"/></clipPath>
<g clip-path="url(#cclip)">
<path d="M561.3,337.7 L567.0,338.0 L572.8,335.2 L578.5,335.8 L584.3,334.4 L590.0,335.0 L595.8,334.8 L601.5,333.3 L607.3,328.2 L613.0,332.8 L618.8,324.7 L624.5,334.0 L630.3,333.8 L636.0,329.7 L641.8,329.8 L647.5,330.4 L653.3,331.9 L659.0,331.3 L664.8,327.2 L670.5,328.6 L676.3,329.0 L682.0,322.0 L687.8,327.3 L693.5,326.4 L699.3,325.4 L705.0,332.8 L710.8,327.4 L716.5,325.6 L722.3,324.3 L728.0,318.0 L733.8,320.6 L739.5,315.1 L745.3,311.1 L751.0,314.5 L756.8,313.9 L762.5,310.5 L768.3,301.6 L774.0,309.0 L779.8,309.3 L785.5,310.3 L791.3,312.4 L797.0,312.0 L802.8,313.6 L808.5,308.7 L814.3,309.6 L820.0,307.4 L825.8,302.8 L831.5,299.0 L837.3,297.5 L843.0,284.9 L848.8,282.8 L854.5,280.5 L860.3,277.7 L866.0,278.0 L871.8,275.7 L877.5,279.0 L883.3,286.3 L889.0,291.1 L894.8,294.5 L900.5,288.3 L906.3,295.3 L912.0,291.0 L917.8,287.6 L923.5,280.1 L929.3,273.1 L935.0,269.4 L940.8,269.8 L946.5,274.3 L952.3,280.3 L958.0,291.0 L963.8,299.2 L969.5,296.0 L975.3,305.3 L981.0,308.8 L986.8,310.1 L992.5,314.8 L998.3,314.1 L1004.0,311.7 L1009.8,314.7 L1015.5,311.7 L1021.3,311.5 L1027.0,311.3 L1032.8,312.8 L1038.5,306.9 L1044.3,312.9 L1050.0,304.1 L1055.8,309.1 L1061.5,304.0 L1067.3,310.0 L1073.0,311.3 L1078.8,311.0 L1084.5,307.6 L1090.3,300.8 L1096.0,307.2 L1101.8,308.3 L1107.5,311.1 L1113.3,310.6 L1119.0,303.7 L1124.8,303.0 L1130.5,308.4 L1136.3,306.9" fill="none" stroke="#1a1a1a" stroke-width="1.1" stroke-linejoin="miter"/>
<g fill="#fff" stroke="#555" stroke-width="0.9"><circle cx="561.3" cy="338.4" r="2.6"/><circle cx="567.0" cy="338.2" r="2.6"/><circle cx="572.8" cy="337.9" r="2.6"/><circle cx="578.5" cy="337.6" r="2.6"/><circle cx="584.3" cy="337.3" r="2.6"/><circle cx="590.0" cy="337.0" r="2.6"/><circle cx="595.8" cy="336.7" r="2.6"/><circle cx="601.5" cy="336.4" r="2.6"/><circle cx="607.3" cy="336.1" r="2.6"/><circle cx="613.0" cy="335.8" r="2.6"/><circle cx="618.8" cy="335.5" r="2.6"/><circle cx="624.5" cy="335.2" r="2.6"/><circle cx="630.3" cy="334.9" r="2.6"/><circle cx="636.0" cy="334.6" r="2.6"/><circle cx="641.8" cy="334.3" r="2.6"/><circle cx="647.5" cy="334.0" r="2.6"/><circle cx="653.3" cy="333.7" r="2.6"/><circle cx="659.0" cy="333.3" r="2.6"/><circle cx="664.8" cy="333.0" r="2.6"/><circle cx="670.5" cy="332.7" r="2.6"/><circle cx="676.3" cy="332.3" r="2.6"/><circle cx="682.0" cy="331.9" r="2.6"/><circle cx="687.8" cy="331.5" r="2.6"/><circle cx="693.5" cy="331.1" r="2.6"/><circle cx="699.3" cy="330.7" r="2.6"/><circle cx="705.0" cy="330.2" r="2.6"/><circle cx="710.8" cy="329.6" r="2.6"/><circle cx="716.5" cy="328.9" r="2.6"/><circle cx="722.3" cy="328.1" r="2.6"/><circle cx="728.0" cy="327.0" r="2.6"/><circle cx="733.8" cy="325.6" r="2.6"/><circle cx="739.5" cy="323.8" r="2.6"/><circle cx="745.3" cy="321.7" r="2.6"/><circle cx="751.0" cy="319.2" r="2.6"/><circle cx="756.8" cy="316.6" r="2.6"/><circle cx="762.5" cy="314.1" r="2.6"/><circle cx="768.3" cy="312.3" r="2.6"/><circle cx="774.0" cy="311.5" r="2.6"/><circle cx="779.8" cy="311.8" r="2.6"/><circle cx="785.5" cy="312.9" r="2.6"/><circle cx="791.3" cy="314.2" r="2.6"/><circle cx="797.0" cy="315.3" r="2.6"/><circle cx="802.8" cy="315.9" r="2.6"/><circle cx="808.5" cy="315.5" r="2.6"/><circle cx="814.3" cy="314.1" r="2.6"/><circle cx="820.0" cy="311.4" r="2.6"/><circle cx="825.8" cy="307.5" r="2.6"/><circle cx="831.5" cy="302.4" r="2.6"/><circle cx="837.3" cy="296.4" r="2.6"/><circle cx="843.0" cy="290.2" r="2.6"/><circle cx="848.8" cy="285.0" r="2.6"/><circle cx="854.5" cy="281.5" r="2.6"/><circle cx="860.3" cy="280.0" r="2.6"/><circle cx="866.0" cy="280.2" r="2.6"/><circle cx="871.8" cy="282.1" r="2.6"/><circle cx="877.5" cy="285.8" r="2.6"/><circle cx="883.3" cy="290.6" r="2.6"/><circle cx="889.0" cy="295.2" r="2.6"/><circle cx="894.8" cy="298.5" r="2.6"/><circle cx="900.5" cy="299.6" r="2.6"/><circle cx="906.3" cy="298.3" r="2.6"/><circle cx="912.0" cy="294.6" r="2.6"/><circle cx="917.8" cy="288.8" r="2.6"/><circle cx="923.5" cy="281.9" r="2.6"/><circle cx="929.3" cy="275.4" r="2.6"/><circle cx="935.0" cy="271.6" r="2.6"/><circle cx="940.8" cy="272.4" r="2.6"/><circle cx="946.5" cy="277.3" r="2.6"/><circle cx="952.3" cy="284.6" r="2.6"/><circle cx="958.0" cy="292.2" r="2.6"/><circle cx="963.8" cy="299.0" r="2.6"/><circle cx="969.5" cy="304.4" r="2.6"/><circle cx="975.3" cy="308.4" r="2.6"/><circle cx="981.0" cy="311.0" r="2.6"/><circle cx="986.8" cy="312.7" r="2.6"/><circle cx="992.5" cy="313.8" r="2.6"/><circle cx="998.3" cy="314.3" r="2.6"/><circle cx="1004.0" cy="314.7" r="2.6"/><circle cx="1009.8" cy="314.9" r="2.6"/><circle cx="1015.5" cy="314.9" r="2.6"/><circle cx="1021.3" cy="314.9" r="2.6"/><circle cx="1027.0" cy="314.9" r="2.6"/><circle cx="1032.8" cy="314.8" r="2.6"/><circle cx="1038.5" cy="314.7" r="2.6"/><circle cx="1044.3" cy="314.6" r="2.6"/><circle cx="1050.0" cy="314.5" r="2.6"/><circle cx="1055.8" cy="314.3" r="2.6"/><circle cx="1061.5" cy="314.1" r="2.6"/><circle cx="1067.3" cy="313.9" r="2.6"/><circle cx="1073.0" cy="313.7" r="2.6"/><circle cx="1078.8" cy="313.5" r="2.6"/><circle cx="1084.5" cy="313.3" r="2.6"/><circle cx="1090.3" cy="313.1" r="2.6"/><circle cx="1096.0" cy="312.9" r="2.6"/><circle cx="1101.8" cy="312.7" r="2.6"/><circle cx="1107.5" cy="312.5" r="2.6"/><circle cx="1113.3" cy="312.2" r="2.6"/><circle cx="1119.0" cy="312.0" r="2.6"/><circle cx="1124.8" cy="311.8" r="2.6"/><circle cx="1130.5" cy="311.5" r="2.6"/><circle cx="1136.3" cy="311.3" r="2.6"/></g>
<path d="M561.3,339.9 L563.3,339.8 L565.3,339.7 L567.3,339.6 L569.3,339.5 L571.3,339.4 L573.3,339.3 L575.3,339.2 L577.3,339.2 L579.3,339.1 L581.3,339.0 L583.3,338.9 L585.3,338.8 L587.3,338.7 L589.3,338.6 L591.3,338.5 L593.3,338.4 L595.3,338.3 L597.3,338.2 L599.3,338.1 L601.3,338.0 L603.3,337.9 L605.3,337.8 L607.3,337.7 L609.3,337.6 L611.3,337.5 L613.3,337.4 L615.3,337.3 L617.3,337.2 L619.3,337.2 L621.3,337.1 L623.3,337.0 L625.3,336.9 L627.3,336.8 L629.3,336.7 L631.3,336.6 L633.3,336.5 L635.3,336.4 L637.3,336.3 L639.3,336.2 L641.3,336.1 L643.3,336.0 L645.3,335.9 L647.3,335.8 L649.3,335.7 L651.3,335.6 L653.3,335.5 L655.3,335.4 L657.3,335.3 L659.3,335.2 L661.3,335.1 L663.3,335.0 L665.3,334.9 L667.3,334.9 L669.3,334.8 L671.3,334.7 L673.3,334.6 L675.3,334.5 L677.3,334.4 L679.3,334.3 L681.3,334.2 L683.3,334.1 L685.3,334.0 L687.3,333.9 L689.3,333.8 L691.3,333.7 L693.3,333.6 L695.3,333.5 L697.3,333.4 L699.3,333.3 L701.3,333.2 L703.3,333.1 L705.3,333.0 L707.3,332.9 L709.3,332.8 L711.3,332.7 L713.3,332.6 L715.3,332.5 L717.3,332.4 L719.3,332.3 L721.3,332.2 L723.3,332.1 L725.3,332.0 L727.3,331.9 L729.3,331.8 L731.3,331.7 L733.3,331.6 L735.3,331.5 L737.3,331.4 L739.3,331.3 L741.3,331.2 L743.3,331.1 L745.3,331.0 L747.3,330.9 L749.3,330.8 L751.3,330.7 L753.3,330.6 L755.3,330.5 L757.3,330.4 L759.3,330.3 L761.3,330.2 L763.3,330.1 L765.3,330.0 L767.3,329.9 L769.3,329.8 L771.3,329.7 L773.3,329.6 L775.3,329.5 L777.3,329.4 L779.3,329.3 L781.3,329.2 L783.3,329.1 L785.3,329.0 L787.3,328.8 L789.3,328.7 L791.3,328.6 L793.3,328.5 L795.3,328.4 L797.3,328.3 L799.3,328.2 L801.3,328.1 L803.3,328.0 L805.3,327.8 L807.3,327.7 L809.3,327.6 L811.3,327.5 L813.3,327.4 L815.3,327.3 L817.3,327.1 L819.3,327.0 L821.3,326.9 L823.3,326.8 L825.3,326.6 L827.3,326.5 L829.3,326.4 L831.3,326.3 L833.3,326.1 L835.3,326.0 L837.3,325.8 L839.3,325.7 L841.3,325.6 L843.3,325.4 L845.3,325.3 L847.3,325.1 L849.3,325.0 L851.3,324.8 L853.3,324.6 L855.3,324.5 L857.3,324.3 L859.3,324.1 L861.3,323.9 L863.3,323.7 L865.3,323.5 L867.3,323.3 L869.3,323.0 L871.3,322.8 L873.3,322.5 L875.3,322.2 L877.3,321.9 L879.3,321.6 L881.3,321.2 L883.3,320.7 L885.3,320.2 L887.3,319.6 L889.3,319.0 L891.3,318.3 L893.3,317.4 L895.3,316.5 L897.3,315.4 L899.3,314.2 L901.3,312.8 L903.3,311.2 L905.3,309.5 L907.3,307.6 L909.3,305.6 L911.3,303.3 L913.3,300.9 L915.3,298.4 L917.3,295.7 L919.3,292.9 L921.3,290.1 L923.3,287.3 L925.3,284.6 L927.3,282.1 L929.3,279.8 L931.3,277.8 L933.3,276.4 L935.3,275.4 L937.3,275.0 L939.3,275.3 L941.3,276.1 L943.3,277.4 L945.3,279.2 L947.3,281.4 L949.3,283.7 L951.3,286.3 L953.3,288.9 L955.3,291.5 L957.3,294.1 L959.3,296.5 L961.3,298.9 L963.3,301.1 L965.3,303.1 L967.3,305.0 L969.3,306.7 L971.3,308.2 L973.3,309.5 L975.3,310.7 L977.3,311.7 L979.3,312.6 L981.3,313.4 L983.3,314.0 L985.3,314.5 L987.3,315.0 L989.3,315.4 L991.3,315.7 L993.3,315.9 L995.3,316.1 L997.3,316.3 L999.3,316.4 L1001.3,316.5 L1003.3,316.6 L1005.3,316.7 L1007.3,316.7 L1009.3,316.8 L1011.3,316.8 L1013.3,316.8 L1015.3,316.8 L1017.3,316.8 L1019.3,316.8 L1021.3,316.8 L1023.3,316.7 L1025.3,316.7 L1027.3,316.7 L1029.3,316.6 L1031.3,316.6 L1033.3,316.6 L1035.3,316.5 L1037.3,316.5 L1039.3,316.4 L1041.3,316.4 L1043.3,316.3 L1045.3,316.2 L1047.3,316.2 L1049.3,316.1 L1051.3,316.1 L1053.3,316.0 L1055.3,315.9 L1057.3,315.9 L1059.3,315.8 L1061.3,315.7 L1063.3,315.7 L1065.3,315.6 L1067.3,315.5 L1069.3,315.5 L1071.3,315.4 L1073.3,315.3 L1075.3,315.2 L1077.3,315.1 L1079.3,315.1 L1081.3,315.0 L1083.3,314.9 L1085.3,314.8 L1087.3,314.8 L1089.3,314.7 L1091.3,314.6 L1093.3,314.5 L1095.3,314.4 L1097.3,314.4 L1099.3,314.3 L1101.3,314.2 L1103.3,314.1 L1105.3,314.0 L1107.3,313.9 L1109.3,313.9 L1111.3,313.8 L1113.3,313.7 L1115.3,313.6 L1117.3,313.5 L1119.3,313.4 L1121.3,313.3 L1123.3,313.3 L1125.3,313.2 L1127.3,313.1 L1129.3,313.0 L1131.3,312.9 L1133.3,312.8 L1135.3,312.7 L1136.3,312.7" fill="none" stroke="#1f9488" stroke-width="3.0" stroke-linejoin="round"/>
<path d="M561.3,339.9 L563.3,339.8 L565.3,339.8 L567.3,339.7 L569.3,339.6 L571.3,339.5 L573.3,339.4 L575.3,339.3 L577.3,339.2 L579.3,339.1 L581.3,339.0 L583.3,338.9 L585.3,338.8 L587.3,338.7 L589.3,338.6 L591.3,338.5 L593.3,338.4 L595.3,338.3 L597.3,338.2 L599.3,338.1 L601.3,338.0 L603.3,337.9 L605.3,337.9 L607.3,337.8 L609.3,337.7 L611.3,337.6 L613.3,337.5 L615.3,337.4 L617.3,337.3 L619.3,337.2 L621.3,337.1 L623.3,337.0 L625.3,336.9 L627.3,336.8 L629.3,336.7 L631.3,336.6 L633.3,336.5 L635.3,336.4 L637.3,336.3 L639.3,336.2 L641.3,336.1 L643.3,336.0 L645.3,335.9 L647.3,335.8 L649.3,335.8 L651.3,335.7 L653.3,335.6 L655.3,335.5 L657.3,335.4 L659.3,335.3 L661.3,335.2 L663.3,335.1 L665.3,335.0 L667.3,334.9 L669.3,334.8 L671.3,334.7 L673.3,334.6 L675.3,334.5 L677.3,334.4 L679.3,334.3 L681.3,334.2 L683.3,334.1 L685.3,334.0 L687.3,333.9 L689.3,333.8 L691.3,333.7 L693.3,333.6 L695.3,333.5 L697.3,333.4 L699.3,333.3 L701.3,333.2 L703.3,333.1 L705.3,333.0 L707.3,332.9 L709.3,332.8 L711.3,332.7 L713.3,332.6 L715.3,332.5 L717.3,332.4 L719.3,332.3 L721.3,332.2 L723.3,332.1 L725.3,332.0 L727.3,331.9 L729.3,331.8 L731.3,331.7 L733.3,331.6 L735.3,331.5 L737.3,331.4 L739.3,331.3 L741.3,331.2 L743.3,331.1 L745.3,331.0 L747.3,330.9 L749.3,330.8 L751.3,330.7 L753.3,330.6 L755.3,330.5 L757.3,330.4 L759.3,330.3 L761.3,330.2 L763.3,330.0 L765.3,329.9 L767.3,329.8 L769.3,329.7 L771.3,329.6 L773.3,329.5 L775.3,329.4 L777.3,329.3 L779.3,329.1 L781.3,329.0 L783.3,328.9 L785.3,328.8 L787.3,328.6 L789.3,328.5 L791.3,328.4 L793.3,328.3 L795.3,328.1 L797.3,328.0 L799.3,327.8 L801.3,327.7 L803.3,327.5 L805.3,327.4 L807.3,327.2 L809.3,327.0 L811.3,326.8 L813.3,326.6 L815.3,326.4 L817.3,326.2 L819.3,325.9 L821.3,325.7 L823.3,325.4 L825.3,325.0 L827.3,324.6 L829.3,324.2 L831.3,323.7 L833.3,323.1 L835.3,322.5 L837.3,321.8 L839.3,321.0 L841.3,320.1 L843.3,319.2 L845.3,318.1 L847.3,317.0 L849.3,315.7 L851.3,314.4 L853.3,313.0 L855.3,311.6 L857.3,310.2 L859.3,308.7 L861.3,307.3 L863.3,305.9 L865.3,304.7 L867.3,303.7 L869.3,302.8 L871.3,302.3 L873.3,302.0 L875.3,302.1 L877.3,302.5 L879.3,303.1 L881.3,304.0 L883.3,305.0 L885.3,306.2 L887.3,307.4 L889.3,308.7 L891.3,309.9 L893.3,311.2 L895.3,312.4 L897.3,313.5 L899.3,314.5 L901.3,315.5 L903.3,316.3 L905.3,317.1 L907.3,317.8 L909.3,318.4 L911.3,318.9 L913.3,319.4 L915.3,319.7 L917.3,320.0 L919.3,320.3 L921.3,320.5 L923.3,320.7 L925.3,320.8 L927.3,320.9 L929.3,320.9 L931.3,321.0 L933.3,321.0 L935.3,321.0 L937.3,321.0 L939.3,321.0 L941.3,321.0 L943.3,321.0 L945.3,320.9 L947.3,320.9 L949.3,320.8 L951.3,320.8 L953.3,320.7 L955.3,320.7 L957.3,320.6 L959.3,320.6 L961.3,320.5 L963.3,320.4 L965.3,320.4 L967.3,320.3 L969.3,320.2 L971.3,320.2 L973.3,320.1 L975.3,320.0 L977.3,319.9 L979.3,319.9 L981.3,319.8 L983.3,319.7 L985.3,319.6 L987.3,319.6 L989.3,319.5 L991.3,319.4 L993.3,319.3 L995.3,319.2 L997.3,319.2 L999.3,319.1 L1001.3,319.0 L1003.3,318.9 L1005.3,318.8 L1007.3,318.7 L1009.3,318.7 L1011.3,318.6 L1013.3,318.5 L1015.3,318.4 L1017.3,318.3 L1019.3,318.2 L1021.3,318.1 L1023.3,318.0 L1025.3,318.0 L1027.3,317.9 L1029.3,317.8 L1031.3,317.7 L1033.3,317.6 L1035.3,317.5 L1037.3,317.4 L1039.3,317.3 L1041.3,317.3 L1043.3,317.2 L1045.3,317.1 L1047.3,317.0 L1049.3,316.9 L1051.3,316.8 L1053.3,316.7 L1055.3,316.6 L1057.3,316.5 L1059.3,316.4 L1061.3,316.4 L1063.3,316.3 L1065.3,316.2 L1067.3,316.1 L1069.3,316.0 L1071.3,315.9 L1073.3,315.8 L1075.3,315.7 L1077.3,315.6 L1079.3,315.5 L1081.3,315.4 L1083.3,315.4 L1085.3,315.3 L1087.3,315.2 L1089.3,315.1 L1091.3,315.0 L1093.3,314.9 L1095.3,314.8 L1097.3,314.7 L1099.3,314.6 L1101.3,314.5 L1103.3,314.4 L1105.3,314.3 L1107.3,314.3 L1109.3,314.2 L1111.3,314.1 L1113.3,314.0 L1115.3,313.9 L1117.3,313.8 L1119.3,313.7 L1121.3,313.6 L1123.3,313.5 L1125.3,313.4 L1127.3,313.3 L1129.3,313.2 L1131.3,313.1 L1133.3,313.1 L1135.3,313.0 L1136.3,312.9" fill="none" stroke="#8a1c1f" stroke-width="3.0" stroke-linejoin="round"/>
<path d="M561.3,339.9 L563.3,339.8 L565.3,339.7 L567.3,339.6 L569.3,339.5 L571.3,339.4 L573.3,339.3 L575.3,339.2 L577.3,339.1 L579.3,339.0 L581.3,338.9 L583.3,338.8 L585.3,338.7 L587.3,338.6 L589.3,338.5 L591.3,338.4 L593.3,338.3 L595.3,338.2 L597.3,338.1 L599.3,338.0 L601.3,338.0 L603.3,337.9 L605.3,337.8 L607.3,337.7 L609.3,337.6 L611.3,337.5 L613.3,337.4 L615.3,337.3 L617.3,337.2 L619.3,337.1 L621.3,337.0 L623.3,336.9 L625.3,336.8 L627.3,336.7 L629.3,336.6 L631.3,336.5 L633.3,336.4 L635.3,336.3 L637.3,336.2 L639.3,336.1 L641.3,336.0 L643.3,335.9 L645.3,335.8 L647.3,335.6 L649.3,335.5 L651.3,335.4 L653.3,335.3 L655.3,335.2 L657.3,335.1 L659.3,335.0 L661.3,334.9 L663.3,334.8 L665.3,334.7 L667.3,334.6 L669.3,334.5 L671.3,334.4 L673.3,334.3 L675.3,334.1 L677.3,334.0 L679.3,333.9 L681.3,333.8 L683.3,333.7 L685.3,333.6 L687.3,333.4 L689.3,333.3 L691.3,333.2 L693.3,333.1 L695.3,332.9 L697.3,332.8 L699.3,332.6 L701.3,332.5 L703.3,332.3 L705.3,332.2 L707.3,332.0 L709.3,331.8 L711.3,331.6 L713.3,331.4 L715.3,331.2 L717.3,331.0 L719.3,330.7 L721.3,330.4 L723.3,330.1 L725.3,329.8 L727.3,329.4 L729.3,329.0 L731.3,328.5 L733.3,328.1 L735.3,327.5 L737.3,327.0 L739.3,326.3 L741.3,325.7 L743.3,325.0 L745.3,324.2 L747.3,323.4 L749.3,322.6 L751.3,321.8 L753.3,320.9 L755.3,320.1 L757.3,319.2 L759.3,318.4 L761.3,317.6 L763.3,316.9 L765.3,316.2 L767.3,315.7 L769.3,315.3 L771.3,315.1 L773.3,315.0 L775.3,315.0 L777.3,315.2 L779.3,315.5 L781.3,315.9 L783.3,316.4 L785.3,317.0 L787.3,317.7 L789.3,318.3 L791.3,319.0 L793.3,319.7 L795.3,320.3 L797.3,320.9 L799.3,321.5 L801.3,322.1 L803.3,322.6 L805.3,323.1 L807.3,323.6 L809.3,324.0 L811.3,324.3 L813.3,324.6 L815.3,324.9 L817.3,325.1 L819.3,325.3 L821.3,325.5 L823.3,325.6 L825.3,325.7 L827.3,325.8 L829.3,325.8 L831.3,325.9 L833.3,325.9 L835.3,325.9 L837.3,325.9 L839.3,325.9 L841.3,325.8 L843.3,325.8 L845.3,325.8 L847.3,325.7 L849.3,325.7 L851.3,325.6 L853.3,325.6 L855.3,325.5 L857.3,325.4 L859.3,325.4 L861.3,325.3 L863.3,325.2 L865.3,325.2 L867.3,325.1 L869.3,325.0 L871.3,325.0 L873.3,324.9 L875.3,324.8 L877.3,324.7 L879.3,324.6 L881.3,324.6 L883.3,324.5 L885.3,324.4 L887.3,324.3 L889.3,324.2 L891.3,324.2 L893.3,324.1 L895.3,324.0 L897.3,323.9 L899.3,323.8 L901.3,323.7 L903.3,323.7 L905.3,323.6 L907.3,323.5 L909.3,323.4 L911.3,323.3 L913.3,323.2 L915.3,323.1 L917.3,323.0 L919.3,323.0 L921.3,322.9 L923.3,322.8 L925.3,322.7 L927.3,322.6 L929.3,322.5 L931.3,322.4 L933.3,322.3 L935.3,322.3 L937.3,322.2 L939.3,322.1 L941.3,322.0 L943.3,321.9 L945.3,321.8 L947.3,321.7 L949.3,321.6 L951.3,321.5 L953.3,321.4 L955.3,321.3 L957.3,321.3 L959.3,321.2 L961.3,321.1 L963.3,321.0 L965.3,320.9 L967.3,320.8 L969.3,320.7 L971.3,320.6 L973.3,320.5 L975.3,320.4 L977.3,320.3 L979.3,320.3 L981.3,320.2 L983.3,320.1 L985.3,320.0 L987.3,319.9 L989.3,319.8 L991.3,319.7 L993.3,319.6 L995.3,319.5 L997.3,319.4 L999.3,319.3 L1001.3,319.2 L1003.3,319.2 L1005.3,319.1 L1007.3,319.0 L1009.3,318.9 L1011.3,318.8 L1013.3,318.7 L1015.3,318.6 L1017.3,318.5 L1019.3,318.4 L1021.3,318.3 L1023.3,318.2 L1025.3,318.1 L1027.3,318.0 L1029.3,317.9 L1031.3,317.9 L1033.3,317.8 L1035.3,317.7 L1037.3,317.6 L1039.3,317.5 L1041.3,317.4 L1043.3,317.3 L1045.3,317.2 L1047.3,317.1 L1049.3,317.0 L1051.3,316.9 L1053.3,316.8 L1055.3,316.7 L1057.3,316.6 L1059.3,316.6 L1061.3,316.5 L1063.3,316.4 L1065.3,316.3 L1067.3,316.2 L1069.3,316.1 L1071.3,316.0 L1073.3,315.9 L1075.3,315.8 L1077.3,315.7 L1079.3,315.6 L1081.3,315.5 L1083.3,315.4 L1085.3,315.3 L1087.3,315.2 L1089.3,315.2 L1091.3,315.1 L1093.3,315.0 L1095.3,314.9 L1097.3,314.8 L1099.3,314.7 L1101.3,314.6 L1103.3,314.5 L1105.3,314.4 L1107.3,314.3 L1109.3,314.2 L1111.3,314.1 L1113.3,314.0 L1115.3,313.9 L1117.3,313.8 L1119.3,313.8 L1121.3,313.7 L1123.3,313.6 L1125.3,313.5 L1127.3,313.4 L1129.3,313.3 L1131.3,313.2 L1133.3,313.1 L1135.3,313.0 L1136.3,313.0" fill="none" stroke="#1c4a8e" stroke-width="3.0" stroke-linejoin="round"/>
<path d="M561.3,339.9 L563.3,339.8 L565.3,339.7 L567.3,339.6 L569.3,339.5 L571.3,339.4 L573.3,339.3 L575.3,339.2 L577.3,339.1 L579.3,339.0 L581.3,339.0 L583.3,338.9 L585.3,338.8 L587.3,338.7 L589.3,338.6 L591.3,338.5 L593.3,338.4 L595.3,338.3 L597.3,338.2 L599.3,338.1 L601.3,338.0 L603.3,337.9 L605.3,337.8 L607.3,337.7 L609.3,337.6 L611.3,337.5 L613.3,337.4 L615.3,337.3 L617.3,337.2 L619.3,337.1 L621.3,337.0 L623.3,336.9 L625.3,336.8 L627.3,336.7 L629.3,336.6 L631.3,336.5 L633.3,336.5 L635.3,336.4 L637.3,336.3 L639.3,336.2 L641.3,336.1 L643.3,336.0 L645.3,335.9 L647.3,335.8 L649.3,335.7 L651.3,335.6 L653.3,335.5 L655.3,335.4 L657.3,335.3 L659.3,335.2 L661.3,335.1 L663.3,335.0 L665.3,334.9 L667.3,334.8 L669.3,334.7 L671.3,334.6 L673.3,334.5 L675.3,334.4 L677.3,334.3 L679.3,334.2 L681.3,334.1 L683.3,334.0 L685.3,333.9 L687.3,333.8 L689.3,333.7 L691.3,333.6 L693.3,333.5 L695.3,333.4 L697.3,333.3 L699.3,333.2 L701.3,333.1 L703.3,333.0 L705.3,332.9 L707.3,332.8 L709.3,332.7 L711.3,332.6 L713.3,332.5 L715.3,332.3 L717.3,332.2 L719.3,332.1 L721.3,332.0 L723.3,331.9 L725.3,331.8 L727.3,331.7 L729.3,331.6 L731.3,331.5 L733.3,331.4 L735.3,331.3 L737.3,331.1 L739.3,331.0 L741.3,330.9 L743.3,330.8 L745.3,330.7 L747.3,330.6 L749.3,330.4 L751.3,330.3 L753.3,330.2 L755.3,330.1 L757.3,329.9 L759.3,329.8 L761.3,329.7 L763.3,329.5 L765.3,329.4 L767.3,329.3 L769.3,329.1 L771.3,329.0 L773.3,328.8 L775.3,328.7 L777.3,328.5 L779.3,328.3 L781.3,328.1 L783.3,327.9 L785.3,327.7 L787.3,327.5 L789.3,327.3 L791.3,327.0 L793.3,326.8 L795.3,326.5 L797.3,326.1 L799.3,325.7 L801.3,325.3 L803.3,324.8 L805.3,324.3 L807.3,323.7 L809.3,323.0 L811.3,322.3 L813.3,321.5 L815.3,320.6 L817.3,319.5 L819.3,318.4 L821.3,317.2 L823.3,315.9 L825.3,314.6 L827.3,313.1 L829.3,311.6 L831.3,310.0 L833.3,308.4 L835.3,306.8 L837.3,305.2 L839.3,303.7 L841.3,302.3 L843.3,301.0 L845.3,300.0 L847.3,299.3 L849.3,298.8 L851.3,298.7 L853.3,298.9 L855.3,299.4 L857.3,300.2 L859.3,301.2 L861.3,302.4 L863.3,303.7 L865.3,305.1 L867.3,306.5 L869.3,307.9 L871.3,309.3 L873.3,310.7 L875.3,312.0 L877.3,313.2 L879.3,314.3 L881.3,315.3 L883.3,316.3 L885.3,317.1 L887.3,317.8 L889.3,318.5 L891.3,319.1 L893.3,319.6 L895.3,320.0 L897.3,320.3 L899.3,320.6 L901.3,320.9 L903.3,321.1 L905.3,321.2 L907.3,321.4 L909.3,321.5 L911.3,321.5 L913.3,321.6 L915.3,321.6 L917.3,321.6 L919.3,321.6 L921.3,321.6 L923.3,321.6 L925.3,321.6 L927.3,321.6 L929.3,321.5 L931.3,321.5 L933.3,321.5 L935.3,321.4 L937.3,321.4 L939.3,321.3 L941.3,321.3 L943.3,321.2 L945.3,321.1 L947.3,321.1 L949.3,321.0 L951.3,320.9 L953.3,320.9 L955.3,320.8 L957.3,320.7 L959.3,320.7 L961.3,320.6 L963.3,320.5 L965.3,320.4 L967.3,320.4 L969.3,320.3 L971.3,320.2 L973.3,320.1 L975.3,320.1 L977.3,320.0 L979.3,319.9 L981.3,319.8 L983.3,319.7 L985.3,319.7 L987.3,319.6 L989.3,319.5 L991.3,319.4 L993.3,319.3 L995.3,319.3 L997.3,319.2 L999.3,319.1 L1001.3,319.0 L1003.3,318.9 L1005.3,318.8 L1007.3,318.7 L1009.3,318.7 L1011.3,318.6 L1013.3,318.5 L1015.3,318.4 L1017.3,318.3 L1019.3,318.2 L1021.3,318.1 L1023.3,318.0 L1025.3,318.0 L1027.3,317.9 L1029.3,317.8 L1031.3,317.7 L1033.3,317.6 L1035.3,317.5 L1037.3,317.4 L1039.3,317.3 L1041.3,317.2 L1043.3,317.2 L1045.3,317.1 L1047.3,317.0 L1049.3,316.9 L1051.3,316.8 L1053.3,316.7 L1055.3,316.6 L1057.3,316.5 L1059.3,316.4 L1061.3,316.3 L1063.3,316.3 L1065.3,316.2 L1067.3,316.1 L1069.3,316.0 L1071.3,315.9 L1073.3,315.8 L1075.3,315.7 L1077.3,315.6 L1079.3,315.5 L1081.3,315.4 L1083.3,315.3 L1085.3,315.3 L1087.3,315.2 L1089.3,315.1 L1091.3,315.0 L1093.3,314.9 L1095.3,314.8 L1097.3,314.7 L1099.3,314.6 L1101.3,314.5 L1103.3,314.4 L1105.3,314.3 L1107.3,314.2 L1109.3,314.1 L1111.3,314.1 L1113.3,314.0 L1115.3,313.9 L1117.3,313.8 L1119.3,313.7 L1121.3,313.6 L1123.3,313.5 L1125.3,313.4 L1127.3,313.3 L1129.3,313.2 L1131.3,313.1 L1133.3,313.0 L1135.3,312.9 L1136.3,312.9" fill="none" stroke="#f1c58f" stroke-width="3.0" stroke-linejoin="round"/>
<path d="M561.3,437.2 L567.0,442.4 L572.8,444.5 L578.5,446.1 L584.3,439.6 L590.0,446.6 L595.8,442.6 L601.5,445.4 L607.3,434.9 L613.0,444.8 L618.8,430.9 L624.5,440.9 L630.3,441.1 L636.0,437.8 L641.8,436.2 L647.5,442.6 L653.3,437.5 L659.0,439.2 L664.8,435.9 L670.5,437.9 L676.3,437.2 L682.0,435.6 L687.8,435.9 L693.5,438.8 L699.3,435.4 L705.0,437.8 L710.8,435.5 L716.5,434.9 L722.3,432.5 L728.0,428.7 L733.8,430.4 L739.5,428.5 L745.3,424.5 L751.0,423.3 L756.8,423.7 L762.5,416.8 L768.3,410.6 L774.0,407.4 L779.8,412.0 L785.5,410.8 L791.3,412.8 L797.0,407.1 L802.8,411.8 L808.5,405.6 L814.3,409.9 L820.0,406.4 L825.8,402.0 L831.5,394.0 L837.3,382.5 L843.0,383.5 L848.8,377.3 L854.5,373.7 L860.3,374.6 L866.0,371.0 L871.8,379.7 L877.5,385.2 L883.3,394.4 L889.0,397.1 L894.8,403.3 L900.5,399.2 L906.3,396.2 L912.0,387.6 L917.8,379.9 L923.5,367.7 L929.3,360.7 L935.0,356.8 L940.8,357.3 L946.5,369.3 L952.3,375.2 L958.0,389.6 L963.8,393.9 L969.5,406.5 L975.3,410.1 L981.0,415.0 L986.8,412.4 L992.5,416.6 L998.3,415.6 L1004.0,416.2 L1009.8,412.8 L1015.5,419.3 L1021.3,419.4 L1027.0,418.1 L1032.8,418.3 L1038.5,416.7 L1044.3,420.4 L1050.0,418.1 L1055.8,418.7 L1061.5,420.0 L1067.3,416.1 L1073.0,412.5 L1078.8,417.1 L1084.5,411.4 L1090.3,413.8 L1096.0,412.9 L1101.8,415.1 L1107.5,416.6 L1113.3,408.8 L1119.0,414.3 L1124.8,414.9 L1130.5,414.0 L1136.3,412.4" fill="none" stroke="#1a1a1a" stroke-width="1.1" stroke-linejoin="miter"/>
<g fill="#fff" stroke="#555" stroke-width="0.9"><circle cx="561.3" cy="446.8" r="2.6"/><circle cx="567.0" cy="446.5" r="2.6"/><circle cx="572.8" cy="446.2" r="2.6"/><circle cx="578.5" cy="445.8" r="2.6"/><circle cx="584.3" cy="445.5" r="2.6"/><circle cx="590.0" cy="445.2" r="2.6"/><circle cx="595.8" cy="444.8" r="2.6"/><circle cx="601.5" cy="444.5" r="2.6"/><circle cx="607.3" cy="444.1" r="2.6"/><circle cx="613.0" cy="443.8" r="2.6"/><circle cx="618.8" cy="443.4" r="2.6"/><circle cx="624.5" cy="443.1" r="2.6"/><circle cx="630.3" cy="442.7" r="2.6"/><circle cx="636.0" cy="442.4" r="2.6"/><circle cx="641.8" cy="442.0" r="2.6"/><circle cx="647.5" cy="441.6" r="2.6"/><circle cx="653.3" cy="441.2" r="2.6"/><circle cx="659.0" cy="440.8" r="2.6"/><circle cx="664.8" cy="440.5" r="2.6"/><circle cx="670.5" cy="440.0" r="2.6"/><circle cx="676.3" cy="439.6" r="2.6"/><circle cx="682.0" cy="439.2" r="2.6"/><circle cx="687.8" cy="438.7" r="2.6"/><circle cx="693.5" cy="438.3" r="2.6"/><circle cx="699.3" cy="437.8" r="2.6"/><circle cx="705.0" cy="437.2" r="2.6"/><circle cx="710.8" cy="436.6" r="2.6"/><circle cx="716.5" cy="435.8" r="2.6"/><circle cx="722.3" cy="434.9" r="2.6"/><circle cx="728.0" cy="433.7" r="2.6"/><circle cx="733.8" cy="432.2" r="2.6"/><circle cx="739.5" cy="430.3" r="2.6"/><circle cx="745.3" cy="427.9" r="2.6"/><circle cx="751.0" cy="425.1" r="2.6"/><circle cx="756.8" cy="421.9" r="2.6"/><circle cx="762.5" cy="418.7" r="2.6"/><circle cx="768.3" cy="415.9" r="2.6"/><circle cx="774.0" cy="414.1" r="2.6"/><circle cx="779.8" cy="413.5" r="2.6"/><circle cx="785.5" cy="414.1" r="2.6"/><circle cx="791.3" cy="415.2" r="2.6"/><circle cx="797.0" cy="416.1" r="2.6"/><circle cx="802.8" cy="416.1" r="2.6"/><circle cx="808.5" cy="415.0" r="2.6"/><circle cx="814.3" cy="412.4" r="2.6"/><circle cx="820.0" cy="408.4" r="2.6"/><circle cx="825.8" cy="403.0" r="2.6"/><circle cx="831.5" cy="396.9" r="2.6"/><circle cx="837.3" cy="390.7" r="2.6"/><circle cx="843.0" cy="385.4" r="2.6"/><circle cx="848.8" cy="381.2" r="2.6"/><circle cx="854.5" cy="378.1" r="2.6"/><circle cx="860.3" cy="376.6" r="2.6"/><circle cx="866.0" cy="377.8" r="2.6"/><circle cx="871.8" cy="382.1" r="2.6"/><circle cx="877.5" cy="388.5" r="2.6"/><circle cx="883.3" cy="394.8" r="2.6"/><circle cx="889.0" cy="399.6" r="2.6"/><circle cx="894.8" cy="401.9" r="2.6"/><circle cx="900.5" cy="401.3" r="2.6"/><circle cx="906.3" cy="397.4" r="2.6"/><circle cx="912.0" cy="390.5" r="2.6"/><circle cx="917.8" cy="381.3" r="2.6"/><circle cx="923.5" cy="371.0" r="2.6"/><circle cx="929.3" cy="362.2" r="2.6"/><circle cx="935.0" cy="357.8" r="2.6"/><circle cx="940.8" cy="360.0" r="2.6"/><circle cx="946.5" cy="367.8" r="2.6"/><circle cx="952.3" cy="378.3" r="2.6"/><circle cx="958.0" cy="388.9" r="2.6"/><circle cx="963.8" cy="398.0" r="2.6"/><circle cx="969.5" cy="405.2" r="2.6"/><circle cx="975.3" cy="410.4" r="2.6"/><circle cx="981.0" cy="413.9" r="2.6"/><circle cx="986.8" cy="416.1" r="2.6"/><circle cx="992.5" cy="417.4" r="2.6"/><circle cx="998.3" cy="418.2" r="2.6"/><circle cx="1004.0" cy="418.7" r="2.6"/><circle cx="1009.8" cy="419.0" r="2.6"/><circle cx="1015.5" cy="419.1" r="2.6"/><circle cx="1021.3" cy="419.1" r="2.6"/><circle cx="1027.0" cy="419.1" r="2.6"/><circle cx="1032.8" cy="419.1" r="2.6"/><circle cx="1038.5" cy="419.0" r="2.6"/><circle cx="1044.3" cy="418.9" r="2.6"/><circle cx="1050.0" cy="418.7" r="2.6"/><circle cx="1055.8" cy="418.5" r="2.6"/><circle cx="1061.5" cy="418.4" r="2.6"/><circle cx="1067.3" cy="418.1" r="2.6"/><circle cx="1073.0" cy="417.9" r="2.6"/><circle cx="1078.8" cy="417.7" r="2.6"/><circle cx="1084.5" cy="417.5" r="2.6"/><circle cx="1090.3" cy="417.2" r="2.6"/><circle cx="1096.0" cy="417.0" r="2.6"/><circle cx="1101.8" cy="416.7" r="2.6"/><circle cx="1107.5" cy="416.5" r="2.6"/><circle cx="1113.3" cy="416.2" r="2.6"/><circle cx="1119.0" cy="415.9" r="2.6"/><circle cx="1124.8" cy="415.7" r="2.6"/><circle cx="1130.5" cy="415.4" r="2.6"/><circle cx="1136.3" cy="415.1" r="2.6"/></g>
<path d="M561.3,448.4 L563.3,448.3 L565.3,448.2 L567.3,448.0 L569.3,447.9 L571.3,447.8 L573.3,447.7 L575.3,447.6 L577.3,447.5 L579.3,447.4 L581.3,447.3 L583.3,447.2 L585.3,447.0 L587.3,446.9 L589.3,446.8 L591.3,446.7 L593.3,446.6 L595.3,446.5 L597.3,446.4 L599.3,446.3 L601.3,446.2 L603.3,446.0 L605.3,445.9 L607.3,445.8 L609.3,445.7 L611.3,445.6 L613.3,445.5 L615.3,445.4 L617.3,445.3 L619.3,445.1 L621.3,445.0 L623.3,444.9 L625.3,444.8 L627.3,444.7 L629.3,444.6 L631.3,444.5 L633.3,444.4 L635.3,444.3 L637.3,444.1 L639.3,444.0 L641.3,443.9 L643.3,443.8 L645.3,443.7 L647.3,443.6 L649.3,443.5 L651.3,443.4 L653.3,443.2 L655.3,443.1 L657.3,443.0 L659.3,442.9 L661.3,442.8 L663.3,442.7 L665.3,442.6 L667.3,442.5 L669.3,442.3 L671.3,442.2 L673.3,442.1 L675.3,442.0 L677.3,441.9 L679.3,441.8 L681.3,441.7 L683.3,441.5 L685.3,441.4 L687.3,441.3 L689.3,441.2 L691.3,441.1 L693.3,441.0 L695.3,440.9 L697.3,440.7 L699.3,440.6 L701.3,440.5 L703.3,440.4 L705.3,440.3 L707.3,440.2 L709.3,440.1 L711.3,439.9 L713.3,439.8 L715.3,439.7 L717.3,439.6 L719.3,439.5 L721.3,439.4 L723.3,439.2 L725.3,439.1 L727.3,439.0 L729.3,438.9 L731.3,438.8 L733.3,438.7 L735.3,438.5 L737.3,438.4 L739.3,438.3 L741.3,438.2 L743.3,438.1 L745.3,437.9 L747.3,437.8 L749.3,437.7 L751.3,437.6 L753.3,437.5 L755.3,437.3 L757.3,437.2 L759.3,437.1 L761.3,437.0 L763.3,436.9 L765.3,436.7 L767.3,436.6 L769.3,436.5 L771.3,436.4 L773.3,436.2 L775.3,436.1 L777.3,436.0 L779.3,435.9 L781.3,435.7 L783.3,435.6 L785.3,435.5 L787.3,435.3 L789.3,435.2 L791.3,435.1 L793.3,435.0 L795.3,434.8 L797.3,434.7 L799.3,434.6 L801.3,434.4 L803.3,434.3 L805.3,434.1 L807.3,434.0 L809.3,433.9 L811.3,433.7 L813.3,433.6 L815.3,433.4 L817.3,433.3 L819.3,433.1 L821.3,433.0 L823.3,432.8 L825.3,432.7 L827.3,432.5 L829.3,432.3 L831.3,432.2 L833.3,432.0 L835.3,431.8 L837.3,431.7 L839.3,431.5 L841.3,431.3 L843.3,431.1 L845.3,430.9 L847.3,430.7 L849.3,430.5 L851.3,430.3 L853.3,430.1 L855.3,429.9 L857.3,429.7 L859.3,429.4 L861.3,429.2 L863.3,428.9 L865.3,428.6 L867.3,428.3 L869.3,428.0 L871.3,427.7 L873.3,427.3 L875.3,426.9 L877.3,426.4 L879.3,425.9 L881.3,425.4 L883.3,424.7 L885.3,424.0 L887.3,423.2 L889.3,422.2 L891.3,421.1 L893.3,419.9 L895.3,418.5 L897.3,416.9 L899.3,415.1 L901.3,413.0 L903.3,410.7 L905.3,408.2 L907.3,405.5 L909.3,402.4 L911.3,399.2 L913.3,395.7 L915.3,392.1 L917.3,388.3 L919.3,384.4 L921.3,380.5 L923.3,376.6 L925.3,372.9 L927.3,369.6 L929.3,366.7 L931.3,364.3 L933.3,362.6 L935.3,361.8 L937.3,361.8 L939.3,362.6 L941.3,364.1 L943.3,366.4 L945.3,369.2 L947.3,372.4 L949.3,375.9 L951.3,379.6 L953.3,383.3 L955.3,386.9 L957.3,390.5 L959.3,393.9 L961.3,397.1 L963.3,400.1 L965.3,402.8 L967.3,405.3 L969.3,407.6 L971.3,409.6 L973.3,411.4 L975.3,412.9 L977.3,414.2 L979.3,415.4 L981.3,416.4 L983.3,417.2 L985.3,417.9 L987.3,418.5 L989.3,419.0 L991.3,419.4 L993.3,419.8 L995.3,420.0 L997.3,420.3 L999.3,420.5 L1001.3,420.6 L1003.3,420.7 L1005.3,420.8 L1007.3,420.9 L1009.3,420.9 L1011.3,421.0 L1013.3,421.0 L1015.3,421.0 L1017.3,421.1 L1019.3,421.1 L1021.3,421.0 L1023.3,421.0 L1025.3,421.0 L1027.3,421.0 L1029.3,421.0 L1031.3,420.9 L1033.3,420.9 L1035.3,420.8 L1037.3,420.8 L1039.3,420.7 L1041.3,420.7 L1043.3,420.6 L1045.3,420.6 L1047.3,420.5 L1049.3,420.5 L1051.3,420.4 L1053.3,420.3 L1055.3,420.2 L1057.3,420.2 L1059.3,420.1 L1061.3,420.0 L1063.3,419.9 L1065.3,419.9 L1067.3,419.8 L1069.3,419.7 L1071.3,419.6 L1073.3,419.5 L1075.3,419.5 L1077.3,419.4 L1079.3,419.3 L1081.3,419.2 L1083.3,419.1 L1085.3,419.0 L1087.3,418.9 L1089.3,418.8 L1091.3,418.8 L1093.3,418.7 L1095.3,418.6 L1097.3,418.5 L1099.3,418.4 L1101.3,418.3 L1103.3,418.2 L1105.3,418.1 L1107.3,418.0 L1109.3,417.9 L1111.3,417.8 L1113.3,417.7 L1115.3,417.6 L1117.3,417.5 L1119.3,417.4 L1121.3,417.3 L1123.3,417.2 L1125.3,417.1 L1127.3,417.0 L1129.3,416.9 L1131.3,416.8 L1133.3,416.7 L1135.3,416.6 L1136.3,416.6" fill="none" stroke="#1f9488" stroke-width="3.0" stroke-linejoin="round"/>
<path d="M561.3,448.4 L563.3,448.3 L565.3,448.2 L567.3,448.1 L569.3,448.0 L571.3,447.8 L573.3,447.7 L575.3,447.6 L577.3,447.5 L579.3,447.4 L581.3,447.3 L583.3,447.2 L585.3,447.1 L587.3,447.0 L589.3,446.8 L591.3,446.7 L593.3,446.6 L595.3,446.5 L597.3,446.4 L599.3,446.3 L601.3,446.2 L603.3,446.1 L605.3,446.0 L607.3,445.8 L609.3,445.7 L611.3,445.6 L613.3,445.5 L615.3,445.4 L617.3,445.3 L619.3,445.2 L621.3,445.1 L623.3,444.9 L625.3,444.8 L627.3,444.7 L629.3,444.6 L631.3,444.5 L633.3,444.4 L635.3,444.3 L637.3,444.2 L639.3,444.0 L641.3,443.9 L643.3,443.8 L645.3,443.7 L647.3,443.6 L649.3,443.5 L651.3,443.4 L653.3,443.3 L655.3,443.1 L657.3,443.0 L659.3,442.9 L661.3,442.8 L663.3,442.7 L665.3,442.6 L667.3,442.5 L669.3,442.3 L671.3,442.2 L673.3,442.1 L675.3,442.0 L677.3,441.9 L679.3,441.8 L681.3,441.7 L683.3,441.5 L685.3,441.4 L687.3,441.3 L689.3,441.2 L691.3,441.1 L693.3,441.0 L695.3,440.8 L697.3,440.7 L699.3,440.6 L701.3,440.5 L703.3,440.4 L705.3,440.2 L707.3,440.1 L709.3,440.0 L711.3,439.9 L713.3,439.8 L715.3,439.7 L717.3,439.5 L719.3,439.4 L721.3,439.3 L723.3,439.2 L725.3,439.0 L727.3,438.9 L729.3,438.8 L731.3,438.7 L733.3,438.5 L735.3,438.4 L737.3,438.3 L739.3,438.2 L741.3,438.0 L743.3,437.9 L745.3,437.8 L747.3,437.7 L749.3,437.5 L751.3,437.4 L753.3,437.3 L755.3,437.1 L757.3,437.0 L759.3,436.8 L761.3,436.7 L763.3,436.6 L765.3,436.4 L767.3,436.3 L769.3,436.1 L771.3,436.0 L773.3,435.8 L775.3,435.7 L777.3,435.5 L779.3,435.4 L781.3,435.2 L783.3,435.0 L785.3,434.9 L787.3,434.7 L789.3,434.5 L791.3,434.3 L793.3,434.1 L795.3,433.9 L797.3,433.7 L799.3,433.5 L801.3,433.2 L803.3,433.0 L805.3,432.7 L807.3,432.4 L809.3,432.1 L811.3,431.7 L813.3,431.3 L815.3,430.9 L817.3,430.4 L819.3,429.8 L821.3,429.2 L823.3,428.4 L825.3,427.6 L827.3,426.6 L829.3,425.6 L831.3,424.4 L833.3,423.0 L835.3,421.5 L837.3,419.9 L839.3,418.1 L841.3,416.2 L843.3,414.2 L845.3,412.0 L847.3,409.7 L849.3,407.4 L851.3,405.1 L853.3,402.9 L855.3,400.7 L857.3,398.7 L859.3,397.0 L861.3,395.6 L863.3,394.7 L865.3,394.3 L867.3,394.3 L869.3,394.8 L871.3,395.8 L873.3,397.2 L875.3,398.8 L877.3,400.7 L879.3,402.7 L881.3,404.8 L883.3,406.9 L885.3,409.0 L887.3,410.9 L889.3,412.8 L891.3,414.6 L893.3,416.2 L895.3,417.7 L897.3,419.0 L899.3,420.2 L901.3,421.2 L903.3,422.1 L905.3,422.9 L907.3,423.5 L909.3,424.1 L911.3,424.6 L913.3,424.9 L915.3,425.3 L917.3,425.5 L919.3,425.7 L921.3,425.9 L923.3,426.0 L925.3,426.1 L927.3,426.1 L929.3,426.2 L931.3,426.2 L933.3,426.2 L935.3,426.2 L937.3,426.2 L939.3,426.2 L941.3,426.1 L943.3,426.1 L945.3,426.1 L947.3,426.0 L949.3,426.0 L951.3,425.9 L953.3,425.9 L955.3,425.8 L957.3,425.7 L959.3,425.7 L961.3,425.6 L963.3,425.5 L965.3,425.5 L967.3,425.4 L969.3,425.3 L971.3,425.2 L973.3,425.1 L975.3,425.1 L977.3,425.0 L979.3,424.9 L981.3,424.8 L983.3,424.7 L985.3,424.6 L987.3,424.5 L989.3,424.5 L991.3,424.4 L993.3,424.3 L995.3,424.2 L997.3,424.1 L999.3,424.0 L1001.3,423.9 L1003.3,423.8 L1005.3,423.7 L1007.3,423.6 L1009.3,423.5 L1011.3,423.4 L1013.3,423.3 L1015.3,423.2 L1017.3,423.1 L1019.3,423.0 L1021.3,422.9 L1023.3,422.8 L1025.3,422.7 L1027.3,422.6 L1029.3,422.5 L1031.3,422.4 L1033.3,422.3 L1035.3,422.2 L1037.3,422.1 L1039.3,422.0 L1041.3,421.9 L1043.3,421.8 L1045.3,421.7 L1047.3,421.6 L1049.3,421.5 L1051.3,421.4 L1053.3,421.3 L1055.3,421.2 L1057.3,421.1 L1059.3,421.0 L1061.3,420.9 L1063.3,420.8 L1065.3,420.7 L1067.3,420.5 L1069.3,420.4 L1071.3,420.3 L1073.3,420.2 L1075.3,420.1 L1077.3,420.0 L1079.3,419.9 L1081.3,419.8 L1083.3,419.7 L1085.3,419.6 L1087.3,419.5 L1089.3,419.4 L1091.3,419.3 L1093.3,419.2 L1095.3,419.1 L1097.3,419.0 L1099.3,418.9 L1101.3,418.7 L1103.3,418.6 L1105.3,418.5 L1107.3,418.4 L1109.3,418.3 L1111.3,418.2 L1113.3,418.1 L1115.3,418.0 L1117.3,417.9 L1119.3,417.8 L1121.3,417.7 L1123.3,417.6 L1125.3,417.5 L1127.3,417.4 L1129.3,417.2 L1131.3,417.1 L1133.3,417.0 L1135.3,416.9 L1136.3,416.9" fill="none" stroke="#8a1c1f" stroke-width="3.0" stroke-linejoin="round"/>
<path d="M561.3,448.4 L563.3,448.3 L565.3,448.1 L567.3,448.0 L569.3,447.9 L571.3,447.8 L573.3,447.7 L575.3,447.6 L577.3,447.5 L579.3,447.4 L581.3,447.2 L583.3,447.1 L585.3,447.0 L587.3,446.9 L589.3,446.8 L591.3,446.7 L593.3,446.6 L595.3,446.5 L597.3,446.3 L599.3,446.2 L601.3,446.1 L603.3,446.0 L605.3,445.9 L607.3,445.8 L609.3,445.7 L611.3,445.5 L613.3,445.4 L615.3,445.3 L617.3,445.2 L619.3,445.1 L621.3,445.0 L623.3,444.8 L625.3,444.7 L627.3,444.6 L629.3,444.5 L631.3,444.4 L633.3,444.3 L635.3,444.1 L637.3,444.0 L639.3,443.9 L641.3,443.8 L643.3,443.7 L645.3,443.5 L647.3,443.4 L649.3,443.3 L651.3,443.2 L653.3,443.1 L655.3,442.9 L657.3,442.8 L659.3,442.7 L661.3,442.6 L663.3,442.4 L665.3,442.3 L667.3,442.2 L669.3,442.1 L671.3,441.9 L673.3,441.8 L675.3,441.7 L677.3,441.5 L679.3,441.4 L681.3,441.3 L683.3,441.1 L685.3,441.0 L687.3,440.9 L689.3,440.7 L691.3,440.6 L693.3,440.4 L695.3,440.3 L697.3,440.1 L699.3,440.0 L701.3,439.8 L703.3,439.6 L705.3,439.4 L707.3,439.3 L709.3,439.1 L711.3,438.9 L713.3,438.6 L715.3,438.4 L717.3,438.2 L719.3,437.9 L721.3,437.6 L723.3,437.3 L725.3,436.9 L727.3,436.5 L729.3,436.1 L731.3,435.6 L733.3,435.1 L735.3,434.5 L737.3,433.9 L739.3,433.3 L741.3,432.6 L743.3,431.8 L745.3,431.0 L747.3,430.1 L749.3,429.2 L751.3,428.2 L753.3,427.2 L755.3,426.2 L757.3,425.1 L759.3,424.1 L761.3,423.1 L763.3,422.1 L765.3,421.2 L767.3,420.3 L769.3,419.6 L771.3,419.0 L773.3,418.6 L775.3,418.4 L777.3,418.3 L779.3,418.5 L781.3,418.7 L783.3,419.2 L785.3,419.8 L787.3,420.4 L789.3,421.2 L791.3,422.0 L793.3,422.8 L795.3,423.6 L797.3,424.4 L799.3,425.2 L801.3,426.0 L803.3,426.7 L805.3,427.4 L807.3,428.0 L809.3,428.6 L811.3,429.1 L813.3,429.6 L815.3,430.0 L817.3,430.3 L819.3,430.6 L821.3,430.9 L823.3,431.1 L825.3,431.3 L827.3,431.5 L829.3,431.6 L831.3,431.7 L833.3,431.7 L835.3,431.8 L837.3,431.8 L839.3,431.8 L841.3,431.8 L843.3,431.8 L845.3,431.8 L847.3,431.7 L849.3,431.7 L851.3,431.6 L853.3,431.6 L855.3,431.5 L857.3,431.4 L859.3,431.4 L861.3,431.3 L863.3,431.2 L865.3,431.1 L867.3,431.0 L869.3,431.0 L871.3,430.9 L873.3,430.8 L875.3,430.7 L877.3,430.6 L879.3,430.5 L881.3,430.4 L883.3,430.4 L885.3,430.3 L887.3,430.2 L889.3,430.1 L891.3,430.0 L893.3,429.9 L895.3,429.8 L897.3,429.7 L899.3,429.6 L901.3,429.5 L903.3,429.4 L905.3,429.3 L907.3,429.2 L909.3,429.1 L911.3,429.0 L913.3,428.9 L915.3,428.8 L917.3,428.7 L919.3,428.6 L921.3,428.5 L923.3,428.4 L925.3,428.3 L927.3,428.2 L929.3,428.1 L931.3,428.0 L933.3,427.9 L935.3,427.8 L937.3,427.7 L939.3,427.6 L941.3,427.5 L943.3,427.4 L945.3,427.3 L947.3,427.1 L949.3,427.0 L951.3,426.9 L953.3,426.8 L955.3,426.7 L957.3,426.6 L959.3,426.5 L961.3,426.4 L963.3,426.3 L965.3,426.2 L967.3,426.1 L969.3,426.0 L971.3,425.9 L973.3,425.8 L975.3,425.7 L977.3,425.6 L979.3,425.5 L981.3,425.3 L983.3,425.2 L985.3,425.1 L987.3,425.0 L989.3,424.9 L991.3,424.8 L993.3,424.7 L995.3,424.6 L997.3,424.5 L999.3,424.4 L1001.3,424.3 L1003.3,424.2 L1005.3,424.1 L1007.3,424.0 L1009.3,423.8 L1011.3,423.7 L1013.3,423.6 L1015.3,423.5 L1017.3,423.4 L1019.3,423.3 L1021.3,423.2 L1023.3,423.1 L1025.3,423.0 L1027.3,422.9 L1029.3,422.8 L1031.3,422.7 L1033.3,422.5 L1035.3,422.4 L1037.3,422.3 L1039.3,422.2 L1041.3,422.1 L1043.3,422.0 L1045.3,421.9 L1047.3,421.8 L1049.3,421.7 L1051.3,421.6 L1053.3,421.5 L1055.3,421.4 L1057.3,421.3 L1059.3,421.1 L1061.3,421.0 L1063.3,420.9 L1065.3,420.8 L1067.3,420.7 L1069.3,420.6 L1071.3,420.5 L1073.3,420.4 L1075.3,420.3 L1077.3,420.2 L1079.3,420.1 L1081.3,419.9 L1083.3,419.8 L1085.3,419.7 L1087.3,419.6 L1089.3,419.5 L1091.3,419.4 L1093.3,419.3 L1095.3,419.2 L1097.3,419.1 L1099.3,419.0 L1101.3,418.9 L1103.3,418.8 L1105.3,418.6 L1107.3,418.5 L1109.3,418.4 L1111.3,418.3 L1113.3,418.2 L1115.3,418.1 L1117.3,418.0 L1119.3,417.9 L1121.3,417.8 L1123.3,417.7 L1125.3,417.6 L1127.3,417.4 L1129.3,417.3 L1131.3,417.2 L1133.3,417.1 L1135.3,417.0 L1136.3,417.0" fill="none" stroke="#1c4a8e" stroke-width="3.0" stroke-linejoin="round"/>
<path d="M561.3,448.4 L563.3,448.3 L565.3,448.2 L567.3,448.1 L569.3,448.0 L571.3,447.9 L573.3,447.7 L575.3,447.6 L577.3,447.5 L579.3,447.4 L581.3,447.3 L583.3,447.2 L585.3,447.1 L587.3,447.0 L589.3,446.9 L591.3,446.7 L593.3,446.6 L595.3,446.5 L597.3,446.4 L599.3,446.3 L601.3,446.2 L603.3,446.1 L605.3,446.0 L607.3,445.8 L609.3,445.7 L611.3,445.6 L613.3,445.5 L615.3,445.4 L617.3,445.3 L619.3,445.2 L621.3,445.1 L623.3,445.0 L625.3,444.8 L627.3,444.7 L629.3,444.6 L631.3,444.5 L633.3,444.4 L635.3,444.3 L637.3,444.2 L639.3,444.1 L641.3,443.9 L643.3,443.8 L645.3,443.7 L647.3,443.6 L649.3,443.5 L651.3,443.4 L653.3,443.3 L655.3,443.1 L657.3,443.0 L659.3,442.9 L661.3,442.8 L663.3,442.7 L665.3,442.6 L667.3,442.5 L669.3,442.3 L671.3,442.2 L673.3,442.1 L675.3,442.0 L677.3,441.9 L679.3,441.8 L681.3,441.6 L683.3,441.5 L685.3,441.4 L687.3,441.3 L689.3,441.2 L691.3,441.1 L693.3,440.9 L695.3,440.8 L697.3,440.7 L699.3,440.6 L701.3,440.5 L703.3,440.3 L705.3,440.2 L707.3,440.1 L709.3,440.0 L711.3,439.9 L713.3,439.7 L715.3,439.6 L717.3,439.5 L719.3,439.4 L721.3,439.2 L723.3,439.1 L725.3,439.0 L727.3,438.9 L729.3,438.7 L731.3,438.6 L733.3,438.5 L735.3,438.3 L737.3,438.2 L739.3,438.1 L741.3,437.9 L743.3,437.8 L745.3,437.7 L747.3,437.5 L749.3,437.4 L751.3,437.2 L753.3,437.1 L755.3,436.9 L757.3,436.8 L759.3,436.6 L761.3,436.5 L763.3,436.3 L765.3,436.1 L767.3,436.0 L769.3,435.8 L771.3,435.6 L773.3,435.4 L775.3,435.2 L777.3,435.0 L779.3,434.7 L781.3,434.5 L783.3,434.2 L785.3,433.9 L787.3,433.5 L789.3,433.2 L791.3,432.7 L793.3,432.3 L795.3,431.8 L797.3,431.2 L799.3,430.5 L801.3,429.8 L803.3,429.0 L805.3,428.2 L807.3,427.2 L809.3,426.2 L811.3,425.0 L813.3,423.8 L815.3,422.5 L817.3,421.2 L819.3,419.7 L821.3,418.3 L823.3,416.8 L825.3,415.3 L827.3,413.9 L829.3,412.5 L831.3,411.2 L833.3,410.2 L835.3,409.3 L837.3,408.6 L839.3,408.3 L841.3,408.2 L843.3,408.4 L845.3,408.9 L847.3,409.7 L849.3,410.6 L851.3,411.7 L853.3,412.8 L855.3,414.1 L857.3,415.3 L859.3,416.6 L861.3,417.8 L863.3,419.0 L865.3,420.1 L867.3,421.2 L869.3,422.2 L871.3,423.0 L873.3,423.8 L875.3,424.6 L877.3,425.2 L879.3,425.7 L881.3,426.2 L883.3,426.6 L885.3,427.0 L887.3,427.2 L889.3,427.5 L891.3,427.7 L893.3,427.8 L895.3,427.9 L897.3,428.0 L899.3,428.0 L901.3,428.1 L903.3,428.1 L905.3,428.1 L907.3,428.1 L909.3,428.1 L911.3,428.0 L913.3,428.0 L915.3,427.9 L917.3,427.9 L919.3,427.8 L921.3,427.8 L923.3,427.7 L925.3,427.6 L927.3,427.6 L929.3,427.5 L931.3,427.4 L933.3,427.3 L935.3,427.3 L937.3,427.2 L939.3,427.1 L941.3,427.0 L943.3,426.9 L945.3,426.8 L947.3,426.8 L949.3,426.7 L951.3,426.6 L953.3,426.5 L955.3,426.4 L957.3,426.3 L959.3,426.2 L961.3,426.1 L963.3,426.0 L965.3,425.9 L967.3,425.8 L969.3,425.7 L971.3,425.6 L973.3,425.5 L975.3,425.4 L977.3,425.3 L979.3,425.2 L981.3,425.1 L983.3,425.0 L985.3,424.9 L987.3,424.8 L989.3,424.7 L991.3,424.6 L993.3,424.5 L995.3,424.4 L997.3,424.3 L999.3,424.2 L1001.3,424.1 L1003.3,424.0 L1005.3,423.9 L1007.3,423.8 L1009.3,423.7 L1011.3,423.6 L1013.3,423.5 L1015.3,423.4 L1017.3,423.3 L1019.3,423.2 L1021.3,423.1 L1023.3,423.0 L1025.3,422.9 L1027.3,422.8 L1029.3,422.7 L1031.3,422.6 L1033.3,422.5 L1035.3,422.3 L1037.3,422.2 L1039.3,422.1 L1041.3,422.0 L1043.3,421.9 L1045.3,421.8 L1047.3,421.7 L1049.3,421.6 L1051.3,421.5 L1053.3,421.4 L1055.3,421.3 L1057.3,421.2 L1059.3,421.1 L1061.3,421.0 L1063.3,420.9 L1065.3,420.7 L1067.3,420.6 L1069.3,420.5 L1071.3,420.4 L1073.3,420.3 L1075.3,420.2 L1077.3,420.1 L1079.3,420.0 L1081.3,419.9 L1083.3,419.8 L1085.3,419.7 L1087.3,419.6 L1089.3,419.5 L1091.3,419.4 L1093.3,419.2 L1095.3,419.1 L1097.3,419.0 L1099.3,418.9 L1101.3,418.8 L1103.3,418.7 L1105.3,418.6 L1107.3,418.5 L1109.3,418.4 L1111.3,418.3 L1113.3,418.2 L1115.3,418.1 L1117.3,417.9 L1119.3,417.8 L1121.3,417.7 L1123.3,417.6 L1125.3,417.5 L1127.3,417.4 L1129.3,417.3 L1131.3,417.2 L1133.3,417.1 L1135.3,417.0 L1136.3,416.9" fill="none" stroke="#f1c58f" stroke-width="3.0" stroke-linejoin="round"/>
<path d="M561.3,540.7 L567.0,530.8 L572.8,538.1 L578.5,539.2 L584.3,536.0 L590.0,535.8 L595.8,533.4 L601.5,535.3 L607.3,535.8 L613.0,535.6 L618.8,534.0 L624.5,534.8 L630.3,534.3 L636.0,534.8 L641.8,535.2 L647.5,533.5 L653.3,525.5 L659.0,531.1 L664.8,528.8 L670.5,530.4 L676.3,527.0 L682.0,525.0 L687.8,532.3 L693.5,521.7 L699.3,528.5 L705.0,528.0 L710.8,530.0 L716.5,520.7 L722.3,521.6 L728.0,521.8 L733.8,526.0 L739.5,523.8 L745.3,523.1 L751.0,514.8 L756.8,514.9 L762.5,512.1 L768.3,510.6 L774.0,505.2 L779.8,497.9 L785.5,504.1 L791.3,502.3 L797.0,506.4 L802.8,499.8 L808.5,506.0 L814.3,505.7 L820.0,499.3 L825.8,501.6 L831.5,499.7 L837.3,490.2 L843.0,485.2 L848.8,472.3 L854.5,456.3 L860.3,455.7 L866.0,459.4 L871.8,466.1 L877.5,474.6 L883.3,479.8 L889.0,487.0 L894.8,485.9 L900.5,490.5 L906.3,488.9 L912.0,480.4 L917.8,468.5 L923.5,462.6 L929.3,445.3 L935.0,449.2 L940.8,452.2 L946.5,455.6 L952.3,464.3 L958.0,476.5 L963.8,484.7 L969.5,489.9 L975.3,498.8 L981.0,499.3 L986.8,503.2 L992.5,503.3 L998.3,502.9 L1004.0,498.4 L1009.8,507.7 L1015.5,509.8 L1021.3,510.0 L1027.0,506.0 L1032.8,509.0 L1038.5,511.2 L1044.3,512.5 L1050.0,506.2 L1055.8,499.5 L1061.5,506.2 L1067.3,501.2 L1073.0,508.9 L1078.8,505.5 L1084.5,506.3 L1090.3,503.7 L1096.0,508.4 L1101.8,506.4 L1107.5,501.5 L1113.3,504.3 L1119.0,508.0 L1124.8,506.2 L1130.5,502.7 L1136.3,505.7" fill="none" stroke="#1a1a1a" stroke-width="1.1" stroke-linejoin="miter"/>
<g fill="#fff" stroke="#555" stroke-width="0.9"><circle cx="561.3" cy="540.1" r="2.6"/><circle cx="567.0" cy="539.7" r="2.6"/><circle cx="572.8" cy="539.4" r="2.6"/><circle cx="578.5" cy="539.0" r="2.6"/><circle cx="584.3" cy="538.6" r="2.6"/><circle cx="590.0" cy="538.3" r="2.6"/><circle cx="595.8" cy="537.9" r="2.6"/><circle cx="601.5" cy="537.6" r="2.6"/><circle cx="607.3" cy="537.2" r="2.6"/><circle cx="613.0" cy="536.8" r="2.6"/><circle cx="618.8" cy="536.5" r="2.6"/><circle cx="624.5" cy="536.1" r="2.6"/><circle cx="630.3" cy="535.7" r="2.6"/><circle cx="636.0" cy="535.3" r="2.6"/><circle cx="641.8" cy="535.0" r="2.6"/><circle cx="647.5" cy="534.6" r="2.6"/><circle cx="653.3" cy="534.2" r="2.6"/><circle cx="659.0" cy="533.8" r="2.6"/><circle cx="664.8" cy="533.4" r="2.6"/><circle cx="670.5" cy="533.0" r="2.6"/><circle cx="676.3" cy="532.5" r="2.6"/><circle cx="682.0" cy="532.1" r="2.6"/><circle cx="687.8" cy="531.6" r="2.6"/><circle cx="693.5" cy="531.2" r="2.6"/><circle cx="699.3" cy="530.7" r="2.6"/><circle cx="705.0" cy="530.2" r="2.6"/><circle cx="710.8" cy="529.6" r="2.6"/><circle cx="716.5" cy="529.0" r="2.6"/><circle cx="722.3" cy="528.3" r="2.6"/><circle cx="728.0" cy="527.4" r="2.6"/><circle cx="733.8" cy="526.3" r="2.6"/><circle cx="739.5" cy="525.0" r="2.6"/><circle cx="745.3" cy="523.2" r="2.6"/><circle cx="751.0" cy="521.0" r="2.6"/><circle cx="756.8" cy="518.4" r="2.6"/><circle cx="762.5" cy="515.3" r="2.6"/><circle cx="768.3" cy="512.0" r="2.6"/><circle cx="774.0" cy="508.7" r="2.6"/><circle cx="779.8" cy="505.9" r="2.6"/><circle cx="785.5" cy="504.2" r="2.6"/><circle cx="791.3" cy="503.9" r="2.6"/><circle cx="797.0" cy="504.8" r="2.6"/><circle cx="802.8" cy="506.3" r="2.6"/><circle cx="808.5" cy="507.6" r="2.6"/><circle cx="814.3" cy="508.2" r="2.6"/><circle cx="820.0" cy="507.6" r="2.6"/><circle cx="825.8" cy="505.2" r="2.6"/><circle cx="831.5" cy="500.5" r="2.6"/><circle cx="837.3" cy="493.5" r="2.6"/><circle cx="843.0" cy="484.3" r="2.6"/><circle cx="848.8" cy="473.9" r="2.6"/><circle cx="854.5" cy="464.3" r="2.6"/><circle cx="860.3" cy="458.4" r="2.6"/><circle cx="866.0" cy="458.6" r="2.6"/><circle cx="871.8" cy="464.6" r="2.6"/><circle cx="877.5" cy="473.3" r="2.6"/><circle cx="883.3" cy="481.9" r="2.6"/><circle cx="889.0" cy="488.5" r="2.6"/><circle cx="894.8" cy="492.0" r="2.6"/><circle cx="900.5" cy="492.2" r="2.6"/><circle cx="906.3" cy="489.0" r="2.6"/><circle cx="912.0" cy="482.8" r="2.6"/><circle cx="917.8" cy="474.2" r="2.6"/><circle cx="923.5" cy="464.6" r="2.6"/><circle cx="929.3" cy="456.0" r="2.6"/><circle cx="935.0" cy="451.0" r="2.6"/><circle cx="940.8" cy="451.8" r="2.6"/><circle cx="946.5" cy="458.1" r="2.6"/><circle cx="952.3" cy="467.6" r="2.6"/><circle cx="958.0" cy="477.7" r="2.6"/><circle cx="963.8" cy="486.9" r="2.6"/><circle cx="969.5" cy="494.4" r="2.6"/><circle cx="975.3" cy="500.1" r="2.6"/><circle cx="981.0" cy="504.1" r="2.6"/><circle cx="986.8" cy="506.7" r="2.6"/><circle cx="992.5" cy="508.4" r="2.6"/><circle cx="998.3" cy="509.4" r="2.6"/><circle cx="1004.0" cy="509.9" r="2.6"/><circle cx="1009.8" cy="510.3" r="2.6"/><circle cx="1015.5" cy="510.5" r="2.6"/><circle cx="1021.3" cy="510.5" r="2.6"/><circle cx="1027.0" cy="510.5" r="2.6"/><circle cx="1032.8" cy="510.5" r="2.6"/><circle cx="1038.5" cy="510.4" r="2.6"/><circle cx="1044.3" cy="510.2" r="2.6"/><circle cx="1050.0" cy="510.1" r="2.6"/><circle cx="1055.8" cy="509.9" r="2.6"/><circle cx="1061.5" cy="509.7" r="2.6"/><circle cx="1067.3" cy="509.5" r="2.6"/><circle cx="1073.0" cy="509.3" r="2.6"/><circle cx="1078.8" cy="509.0" r="2.6"/><circle cx="1084.5" cy="508.8" r="2.6"/><circle cx="1090.3" cy="508.5" r="2.6"/><circle cx="1096.0" cy="508.3" r="2.6"/><circle cx="1101.8" cy="508.0" r="2.6"/><circle cx="1107.5" cy="507.7" r="2.6"/><circle cx="1113.3" cy="507.4" r="2.6"/><circle cx="1119.0" cy="507.2" r="2.6"/><circle cx="1124.8" cy="506.9" r="2.6"/><circle cx="1130.5" cy="506.6" r="2.6"/><circle cx="1136.3" cy="506.3" r="2.6"/></g>
<path d="M561.3,541.6 L563.3,541.4 L565.3,541.3 L567.3,541.2 L569.3,541.1 L571.3,541.0 L573.3,540.9 L575.3,540.7 L577.3,540.6 L579.3,540.5 L581.3,540.4 L583.3,540.3 L585.3,540.2 L587.3,540.0 L589.3,539.9 L591.3,539.8 L593.3,539.7 L595.3,539.6 L597.3,539.4 L599.3,539.3 L601.3,539.2 L603.3,539.1 L605.3,539.0 L607.3,538.8 L609.3,538.7 L611.3,538.6 L613.3,538.5 L615.3,538.4 L617.3,538.3 L619.3,538.1 L621.3,538.0 L623.3,537.9 L625.3,537.8 L627.3,537.7 L629.3,537.5 L631.3,537.4 L633.3,537.3 L635.3,537.2 L637.3,537.1 L639.3,536.9 L641.3,536.8 L643.3,536.7 L645.3,536.6 L647.3,536.5 L649.3,536.3 L651.3,536.2 L653.3,536.1 L655.3,536.0 L657.3,535.9 L659.3,535.7 L661.3,535.6 L663.3,535.5 L665.3,535.4 L667.3,535.3 L669.3,535.1 L671.3,535.0 L673.3,534.9 L675.3,534.8 L677.3,534.7 L679.3,534.5 L681.3,534.4 L683.3,534.3 L685.3,534.2 L687.3,534.1 L689.3,533.9 L691.3,533.8 L693.3,533.7 L695.3,533.6 L697.3,533.5 L699.3,533.3 L701.3,533.2 L703.3,533.1 L705.3,533.0 L707.3,532.8 L709.3,532.7 L711.3,532.6 L713.3,532.5 L715.3,532.4 L717.3,532.2 L719.3,532.1 L721.3,532.0 L723.3,531.9 L725.3,531.7 L727.3,531.6 L729.3,531.5 L731.3,531.4 L733.3,531.2 L735.3,531.1 L737.3,531.0 L739.3,530.9 L741.3,530.7 L743.3,530.6 L745.3,530.5 L747.3,530.4 L749.3,530.2 L751.3,530.1 L753.3,530.0 L755.3,529.8 L757.3,529.7 L759.3,529.6 L761.3,529.5 L763.3,529.3 L765.3,529.2 L767.3,529.1 L769.3,528.9 L771.3,528.8 L773.3,528.7 L775.3,528.5 L777.3,528.4 L779.3,528.3 L781.3,528.1 L783.3,528.0 L785.3,527.9 L787.3,527.7 L789.3,527.6 L791.3,527.4 L793.3,527.3 L795.3,527.2 L797.3,527.0 L799.3,526.9 L801.3,526.7 L803.3,526.6 L805.3,526.4 L807.3,526.3 L809.3,526.1 L811.3,526.0 L813.3,525.8 L815.3,525.7 L817.3,525.5 L819.3,525.4 L821.3,525.2 L823.3,525.0 L825.3,524.9 L827.3,524.7 L829.3,524.5 L831.3,524.4 L833.3,524.2 L835.3,524.0 L837.3,523.8 L839.3,523.7 L841.3,523.5 L843.3,523.3 L845.3,523.1 L847.3,522.9 L849.3,522.7 L851.3,522.4 L853.3,522.2 L855.3,522.0 L857.3,521.7 L859.3,521.5 L861.3,521.2 L863.3,520.9 L865.3,520.7 L867.3,520.3 L869.3,520.0 L871.3,519.6 L873.3,519.3 L875.3,518.8 L877.3,518.3 L879.3,517.8 L881.3,517.2 L883.3,516.6 L885.3,515.8 L887.3,515.0 L889.3,514.0 L891.3,512.9 L893.3,511.6 L895.3,510.2 L897.3,508.7 L899.3,506.9 L901.3,504.9 L903.3,502.7 L905.3,500.3 L907.3,497.7 L909.3,494.8 L911.3,491.7 L913.3,488.4 L915.3,485.0 L917.3,481.4 L919.3,477.7 L921.3,474.0 L923.3,470.4 L925.3,466.8 L927.3,463.5 L929.3,460.6 L931.3,458.1 L933.3,456.3 L935.3,455.1 L937.3,454.6 L939.3,454.9 L941.3,455.9 L943.3,457.7 L945.3,459.9 L947.3,462.7 L949.3,465.8 L951.3,469.1 L953.3,472.5 L955.3,476.0 L957.3,479.4 L959.3,482.8 L961.3,486.0 L963.3,489.0 L965.3,491.8 L967.3,494.4 L969.3,496.8 L971.3,499.0 L973.3,500.9 L975.3,502.6 L977.3,504.2 L979.3,505.5 L981.3,506.6 L983.3,507.6 L985.3,508.5 L987.3,509.2 L989.3,509.8 L991.3,510.3 L993.3,510.7 L995.3,511.1 L997.3,511.4 L999.3,511.6 L1001.3,511.8 L1003.3,512.0 L1005.3,512.1 L1007.3,512.2 L1009.3,512.3 L1011.3,512.3 L1013.3,512.4 L1015.3,512.4 L1017.3,512.4 L1019.3,512.4 L1021.3,512.4 L1023.3,512.4 L1025.3,512.4 L1027.3,512.4 L1029.3,512.4 L1031.3,512.3 L1033.3,512.3 L1035.3,512.2 L1037.3,512.2 L1039.3,512.1 L1041.3,512.1 L1043.3,512.0 L1045.3,512.0 L1047.3,511.9 L1049.3,511.8 L1051.3,511.8 L1053.3,511.7 L1055.3,511.6 L1057.3,511.6 L1059.3,511.5 L1061.3,511.4 L1063.3,511.3 L1065.3,511.2 L1067.3,511.1 L1069.3,511.1 L1071.3,511.0 L1073.3,510.9 L1075.3,510.8 L1077.3,510.7 L1079.3,510.6 L1081.3,510.5 L1083.3,510.4 L1085.3,510.3 L1087.3,510.2 L1089.3,510.1 L1091.3,510.0 L1093.3,510.0 L1095.3,509.9 L1097.3,509.8 L1099.3,509.7 L1101.3,509.6 L1103.3,509.5 L1105.3,509.4 L1107.3,509.3 L1109.3,509.2 L1111.3,509.0 L1113.3,508.9 L1115.3,508.8 L1117.3,508.7 L1119.3,508.6 L1121.3,508.5 L1123.3,508.4 L1125.3,508.3 L1127.3,508.2 L1129.3,508.1 L1131.3,508.0 L1133.3,507.9 L1135.3,507.8 L1136.3,507.7" fill="none" stroke="#1f9488" stroke-width="3.0" stroke-linejoin="round"/>
<path d="M561.3,541.5 L563.3,541.4 L565.3,541.3 L567.3,541.2 L569.3,541.1 L571.3,540.9 L573.3,540.8 L575.3,540.7 L577.3,540.6 L579.3,540.5 L581.3,540.3 L583.3,540.2 L585.3,540.1 L587.3,540.0 L589.3,539.9 L591.3,539.7 L593.3,539.6 L595.3,539.5 L597.3,539.4 L599.3,539.3 L601.3,539.1 L603.3,539.0 L605.3,538.9 L607.3,538.8 L609.3,538.7 L611.3,538.5 L613.3,538.4 L615.3,538.3 L617.3,538.2 L619.3,538.1 L621.3,537.9 L623.3,537.8 L625.3,537.7 L627.3,537.6 L629.3,537.5 L631.3,537.3 L633.3,537.2 L635.3,537.1 L637.3,537.0 L639.3,536.9 L641.3,536.7 L643.3,536.6 L645.3,536.5 L647.3,536.4 L649.3,536.2 L651.3,536.1 L653.3,536.0 L655.3,535.9 L657.3,535.8 L659.3,535.6 L661.3,535.5 L663.3,535.4 L665.3,535.3 L667.3,535.1 L669.3,535.0 L671.3,534.9 L673.3,534.8 L675.3,534.6 L677.3,534.5 L679.3,534.4 L681.3,534.3 L683.3,534.1 L685.3,534.0 L687.3,533.9 L689.3,533.7 L691.3,533.6 L693.3,533.5 L695.3,533.4 L697.3,533.2 L699.3,533.1 L701.3,533.0 L703.3,532.8 L705.3,532.7 L707.3,532.6 L709.3,532.4 L711.3,532.3 L713.3,532.2 L715.3,532.0 L717.3,531.9 L719.3,531.8 L721.3,531.6 L723.3,531.5 L725.3,531.4 L727.3,531.2 L729.3,531.1 L731.3,530.9 L733.3,530.8 L735.3,530.7 L737.3,530.5 L739.3,530.4 L741.3,530.2 L743.3,530.1 L745.3,529.9 L747.3,529.8 L749.3,529.6 L751.3,529.5 L753.3,529.3 L755.3,529.1 L757.3,529.0 L759.3,528.8 L761.3,528.6 L763.3,528.5 L765.3,528.3 L767.3,528.1 L769.3,527.9 L771.3,527.7 L773.3,527.6 L775.3,527.4 L777.3,527.2 L779.3,527.0 L781.3,526.7 L783.3,526.5 L785.3,526.3 L787.3,526.1 L789.3,525.8 L791.3,525.6 L793.3,525.3 L795.3,525.0 L797.3,524.7 L799.3,524.3 L801.3,524.0 L803.3,523.6 L805.3,523.1 L807.3,522.7 L809.3,522.1 L811.3,521.5 L813.3,520.8 L815.3,520.0 L817.3,519.0 L819.3,518.0 L821.3,516.8 L823.3,515.4 L825.3,513.8 L827.3,512.0 L829.3,510.0 L831.3,507.8 L833.3,505.3 L835.3,502.5 L837.3,499.6 L839.3,496.4 L841.3,493.0 L843.3,489.4 L845.3,485.7 L847.3,482.0 L849.3,478.3 L851.3,474.7 L853.3,471.4 L855.3,468.5 L857.3,466.1 L859.3,464.3 L861.3,463.3 L863.3,463.2 L865.3,463.9 L867.3,465.3 L869.3,467.4 L871.3,470.0 L873.3,473.1 L875.3,476.4 L877.3,479.9 L879.3,483.4 L881.3,486.8 L883.3,490.2 L885.3,493.4 L887.3,496.4 L889.3,499.1 L891.3,501.7 L893.3,503.9 L895.3,506.0 L897.3,507.8 L899.3,509.3 L901.3,510.7 L903.3,511.9 L905.3,512.9 L907.3,513.7 L909.3,514.4 L911.3,515.0 L913.3,515.5 L915.3,515.9 L917.3,516.2 L919.3,516.5 L921.3,516.7 L923.3,516.8 L925.3,517.0 L927.3,517.1 L929.3,517.2 L931.3,517.2 L933.3,517.3 L935.3,517.3 L937.3,517.3 L939.3,517.3 L941.3,517.3 L943.3,517.3 L945.3,517.3 L947.3,517.2 L949.3,517.2 L951.3,517.2 L953.3,517.1 L955.3,517.1 L957.3,517.0 L959.3,517.0 L961.3,516.9 L963.3,516.9 L965.3,516.8 L967.3,516.7 L969.3,516.7 L971.3,516.6 L973.3,516.5 L975.3,516.4 L977.3,516.4 L979.3,516.3 L981.3,516.2 L983.3,516.1 L985.3,516.0 L987.3,515.9 L989.3,515.9 L991.3,515.8 L993.3,515.7 L995.3,515.6 L997.3,515.5 L999.3,515.4 L1001.3,515.3 L1003.3,515.2 L1005.3,515.1 L1007.3,515.0 L1009.3,514.9 L1011.3,514.8 L1013.3,514.7 L1015.3,514.6 L1017.3,514.5 L1019.3,514.4 L1021.3,514.3 L1023.3,514.2 L1025.3,514.1 L1027.3,514.0 L1029.3,513.9 L1031.3,513.8 L1033.3,513.7 L1035.3,513.6 L1037.3,513.5 L1039.3,513.4 L1041.3,513.3 L1043.3,513.2 L1045.3,513.1 L1047.3,512.9 L1049.3,512.8 L1051.3,512.7 L1053.3,512.6 L1055.3,512.5 L1057.3,512.4 L1059.3,512.3 L1061.3,512.2 L1063.3,512.1 L1065.3,512.0 L1067.3,511.9 L1069.3,511.8 L1071.3,511.6 L1073.3,511.5 L1075.3,511.4 L1077.3,511.3 L1079.3,511.2 L1081.3,511.1 L1083.3,511.0 L1085.3,510.9 L1087.3,510.8 L1089.3,510.6 L1091.3,510.5 L1093.3,510.4 L1095.3,510.3 L1097.3,510.2 L1099.3,510.1 L1101.3,510.0 L1103.3,509.9 L1105.3,509.8 L1107.3,509.6 L1109.3,509.5 L1111.3,509.4 L1113.3,509.3 L1115.3,509.2 L1117.3,509.1 L1119.3,509.0 L1121.3,508.9 L1123.3,508.7 L1125.3,508.6 L1127.3,508.5 L1129.3,508.4 L1131.3,508.3 L1133.3,508.2 L1135.3,508.1 L1136.3,508.0" fill="none" stroke="#8a1c1f" stroke-width="3.0" stroke-linejoin="round"/>
<path d="M561.3,541.6 L563.3,541.4 L565.3,541.3 L567.3,541.2 L569.3,541.1 L571.3,541.0 L573.3,540.8 L575.3,540.7 L577.3,540.6 L579.3,540.5 L581.3,540.4 L583.3,540.2 L585.3,540.1 L587.3,540.0 L589.3,539.9 L591.3,539.8 L593.3,539.6 L595.3,539.5 L597.3,539.4 L599.3,539.3 L601.3,539.2 L603.3,539.0 L605.3,538.9 L607.3,538.8 L609.3,538.7 L611.3,538.6 L613.3,538.4 L615.3,538.3 L617.3,538.2 L619.3,538.1 L621.3,537.9 L623.3,537.8 L625.3,537.7 L627.3,537.6 L629.3,537.5 L631.3,537.3 L633.3,537.2 L635.3,537.1 L637.3,537.0 L639.3,536.8 L641.3,536.7 L643.3,536.6 L645.3,536.5 L647.3,536.3 L649.3,536.2 L651.3,536.1 L653.3,535.9 L655.3,535.8 L657.3,535.7 L659.3,535.6 L661.3,535.4 L663.3,535.3 L665.3,535.2 L667.3,535.0 L669.3,534.9 L671.3,534.8 L673.3,534.6 L675.3,534.5 L677.3,534.4 L679.3,534.2 L681.3,534.1 L683.3,533.9 L685.3,533.8 L687.3,533.7 L689.3,533.5 L691.3,533.4 L693.3,533.2 L695.3,533.1 L697.3,532.9 L699.3,532.8 L701.3,532.6 L703.3,532.5 L705.3,532.3 L707.3,532.1 L709.3,532.0 L711.3,531.8 L713.3,531.6 L715.3,531.4 L717.3,531.2 L719.3,531.0 L721.3,530.7 L723.3,530.5 L725.3,530.2 L727.3,529.9 L729.3,529.6 L731.3,529.3 L733.3,529.0 L735.3,528.6 L737.3,528.1 L739.3,527.7 L741.3,527.2 L743.3,526.6 L745.3,526.0 L747.3,525.3 L749.3,524.6 L751.3,523.8 L753.3,523.0 L755.3,522.2 L757.3,521.2 L759.3,520.2 L761.3,519.2 L763.3,518.2 L765.3,517.1 L767.3,516.0 L769.3,514.9 L771.3,513.8 L773.3,512.8 L775.3,511.8 L777.3,510.9 L779.3,510.1 L781.3,509.4 L783.3,508.9 L785.3,508.6 L787.3,508.4 L789.3,508.5 L791.3,508.7 L793.3,509.1 L795.3,509.6 L797.3,510.3 L799.3,511.0 L801.3,511.8 L803.3,512.6 L805.3,513.5 L807.3,514.4 L809.3,515.2 L811.3,516.0 L813.3,516.8 L815.3,517.6 L817.3,518.3 L819.3,519.0 L821.3,519.6 L823.3,520.1 L825.3,520.6 L827.3,521.1 L829.3,521.4 L831.3,521.8 L833.3,522.1 L835.3,522.3 L837.3,522.5 L839.3,522.7 L841.3,522.8 L843.3,522.9 L845.3,523.0 L847.3,523.1 L849.3,523.1 L851.3,523.1 L853.3,523.1 L855.3,523.1 L857.3,523.1 L859.3,523.1 L861.3,523.0 L863.3,523.0 L865.3,522.9 L867.3,522.8 L869.3,522.8 L871.3,522.7 L873.3,522.6 L875.3,522.5 L877.3,522.5 L879.3,522.4 L881.3,522.3 L883.3,522.2 L885.3,522.1 L887.3,522.0 L889.3,521.9 L891.3,521.8 L893.3,521.8 L895.3,521.7 L897.3,521.6 L899.3,521.5 L901.3,521.4 L903.3,521.3 L905.3,521.2 L907.3,521.1 L909.3,521.0 L911.3,520.9 L913.3,520.8 L915.3,520.7 L917.3,520.5 L919.3,520.4 L921.3,520.3 L923.3,520.2 L925.3,520.1 L927.3,520.0 L929.3,519.9 L931.3,519.8 L933.3,519.7 L935.3,519.6 L937.3,519.5 L939.3,519.4 L941.3,519.3 L943.3,519.2 L945.3,519.0 L947.3,518.9 L949.3,518.8 L951.3,518.7 L953.3,518.6 L955.3,518.5 L957.3,518.4 L959.3,518.3 L961.3,518.2 L963.3,518.0 L965.3,517.9 L967.3,517.8 L969.3,517.7 L971.3,517.6 L973.3,517.5 L975.3,517.4 L977.3,517.3 L979.3,517.2 L981.3,517.0 L983.3,516.9 L985.3,516.8 L987.3,516.7 L989.3,516.6 L991.3,516.5 L993.3,516.4 L995.3,516.2 L997.3,516.1 L999.3,516.0 L1001.3,515.9 L1003.3,515.8 L1005.3,515.7 L1007.3,515.6 L1009.3,515.5 L1011.3,515.3 L1013.3,515.2 L1015.3,515.1 L1017.3,515.0 L1019.3,514.9 L1021.3,514.8 L1023.3,514.7 L1025.3,514.5 L1027.3,514.4 L1029.3,514.3 L1031.3,514.2 L1033.3,514.1 L1035.3,514.0 L1037.3,513.9 L1039.3,513.7 L1041.3,513.6 L1043.3,513.5 L1045.3,513.4 L1047.3,513.3 L1049.3,513.2 L1051.3,513.0 L1053.3,512.9 L1055.3,512.8 L1057.3,512.7 L1059.3,512.6 L1061.3,512.5 L1063.3,512.4 L1065.3,512.2 L1067.3,512.1 L1069.3,512.0 L1071.3,511.9 L1073.3,511.8 L1075.3,511.7 L1077.3,511.6 L1079.3,511.4 L1081.3,511.3 L1083.3,511.2 L1085.3,511.1 L1087.3,511.0 L1089.3,510.9 L1091.3,510.7 L1093.3,510.6 L1095.3,510.5 L1097.3,510.4 L1099.3,510.3 L1101.3,510.2 L1103.3,510.1 L1105.3,509.9 L1107.3,509.8 L1109.3,509.7 L1111.3,509.6 L1113.3,509.5 L1115.3,509.4 L1117.3,509.2 L1119.3,509.1 L1121.3,509.0 L1123.3,508.9 L1125.3,508.8 L1127.3,508.7 L1129.3,508.5 L1131.3,508.4 L1133.3,508.3 L1135.3,508.2 L1136.3,508.1" fill="none" stroke="#1c4a8e" stroke-width="3.0" stroke-linejoin="round"/>
</g>
<rect x="561.3" y="220.8" width="575.0" height="354.40000000000003" fill="none" stroke="#333" stroke-width="1.4"/>
<path d="M561.3,237.7 h3.5 M561.3,254.6 h6.7 M561.3,271.4 h3.5 M561.3,288.3 h6.7 M561.3,305.2 h3.5 M561.3,322.1 h6.7 M561.3,338.9 h3.5 M561.3,355.8 h6.7 M561.3,372.7 h3.5 M561.3,389.5 h6.7 M561.3,406.4 h3.5 M561.3,423.3 h6.7 M561.3,440.1 h3.5 M561.3,457.0 h6.7 M561.3,473.9 h3.5 M561.3,490.8 h6.7 M561.3,507.6 h3.5 M561.3,524.5 h6.7 M561.3,541.4 h3.5 M561.3,558.2 h6.7 M1136.3,575.2 v4.7 M1021.3,575.2 v4.7 M906.3,575.2 v4.7 M791.3,575.2 v4.7 M676.3,575.2 v4.7 M561.3,575.2 v4.7" stroke="#333" stroke-width="1.4" fill="none"/>
<text x="1136.3" y="598" font-size="16.6" text-anchor="middle" fill="#111">158</text>
<text x="1021.3" y="598" font-size="16.6" text-anchor="middle" fill="#111">160</text>
<text x="906.3" y="598" font-size="16.6" text-anchor="middle" fill="#111">162</text>
<text x="791.3" y="598" font-size="16.6" text-anchor="middle" fill="#111">164</text>
<text x="676.3" y="598" font-size="16.6" text-anchor="middle" fill="#111">166</text>
<text x="561.3" y="598" font-size="16.6" text-anchor="middle" fill="#111">168</text>
<text x="848.2" y="632" font-size="19.4" text-anchor="middle" fill="#111">Binding Energy (eV)</text>
<text transform="translate(530.2,373) rotate(-90)" font-size="19.4" text-anchor="middle" fill="#111">Intensity (a.u.)</text>
<text x="583.8" y="360.0" font-size="17.4" fill="#111">Nanobody-SpyCatcher</text>
<text x="582.3" y="469.0" font-size="17.4" fill="#111">SpyTag peptide</text>
<text x="582.7" y="560.7" font-size="17.4" fill="#111">HDT</text>
<text x="1069" y="245.5" font-size="16.4" fill="#111">S 2p</text>
<path d="M570,234.0 H611.3" stroke="#1f9488" stroke-width="2.4"/>
<text x="616.3" y="239.7" font-size="16.4" fill="#111"><tspan text-decoration="underline">S</tspan>-Au</text>
<path d="M570,256.0 H611.3" stroke="#8a1c1f" stroke-width="2.4"/>
<text x="616.3" y="262.0" font-size="16.4" fill="#111"><tspan text-decoration="underline">S</tspan>-Au</text>
<path d="M703,235.7 H742" stroke="#1c4a8e" stroke-width="2.4"/>
<text x="746.0" y="241.2" font-size="16.4" fill="#111"><tspan text-decoration="underline">S</tspan>-H</text>
<path d="M703,257.5 H742" stroke="#f1c58f" stroke-width="2.4"/>
<text x="746.0" y="262.5" font-size="16.4" fill="#111"><tspan text-decoration="underline">S</tspan>-C</text>
<text x="461.5" y="664.7" font-size="28.5" font-weight="bold">d</text>
<rect x="564.0" y="727.7" width="582.4000000000001" height="194.79999999999995" fill="none" stroke="#333" stroke-width="1.4"/>
<path d="M564.0,746.9 h-4.7 M564.0,785.9 h-4.7 M564.0,824.8 h-4.7 M564.0,863.8 h-4.7 M564.0,902.7 h-4.7 M564.0,766.4 h-2.6 M564.0,805.3 h-2.6 M564.0,844.3 h-2.6 M564.0,883.2 h-2.6 M564.0,922.5 v4.7 M661.1,922.5 v4.7 M758.1,922.5 v4.7 M855.2,922.5 v4.7 M952.3,922.5 v4.7 M1049.3,922.5 v4.7 M1146.4,922.5 v4.7 M612.5,922.5 v2.6 M709.6,922.5 v2.6 M806.7,922.5 v2.6 M903.7,922.5 v2.6 M1000.8,922.5 v2.6 M1097.9,922.5 v2.6" stroke="#333" stroke-width="1.4" fill="none"/>
<text x="561.5" y="946.3" font-size="16.8" text-anchor="middle" fill="#111">0</text>
<text x="658.6" y="946.3" font-size="16.8" text-anchor="middle" fill="#111">1</text>
<text x="755.6" y="946.3" font-size="16.8" text-anchor="middle" fill="#111">2</text>
<text x="852.7" y="946.3" font-size="16.8" text-anchor="middle" fill="#111">3</text>
<text x="949.8" y="946.3" font-size="16.8" text-anchor="middle" fill="#111">4</text>
<text x="1046.8" y="946.3" font-size="16.8" text-anchor="middle" fill="#111">5</text>
<text x="1143.9" y="946.3" font-size="16.8" text-anchor="middle" fill="#111">6</text>
<text x="553.3" y="752.7" font-size="16.8" text-anchor="end" fill="#111">0</text>
<text x="553.3" y="791.6" font-size="16.8" text-anchor="end" fill="#111">-10</text>
<text x="553.3" y="830.6" font-size="16.8" text-anchor="end" fill="#111">-20</text>
<text x="553.3" y="869.5" font-size="16.8" text-anchor="end" fill="#111">-30</text>
<text x="553.3" y="908.5" font-size="16.8" text-anchor="end" fill="#111">-40</text>
<path d="M564.0,746.3 L565.5,746.7 L567.1,745.8 L568.6,746.5 L570.1,746.0 L571.6,745.9 L573.2,746.6 L574.7,745.9 L576.2,745.8 L577.8,746.0 L579.3,746.0 L580.8,745.6 L582.4,745.7 L583.9,745.1 L585.4,745.3 L586.9,745.2 L588.5,744.8 L590.0,744.7 L591.5,744.5 L593.1,744.9 L594.6,744.8 L596.2,744.7 L597.7,744.7 L599.2,744.1 L600.8,744.4 L602.3,744.4 L603.8,744.5 L605.4,743.8 L606.9,743.9 L608.5,743.2 L610.0,743.6 L611.7,742.9 L613.5,743.1 L615.2,743.8 L617.0,742.5 L618.7,743.5 L620.0,742.6 L622.0,744.4 L624.0,749.5 L625.5,749.5 L627.1,749.7 L628.6,749.3 L630.1,749.3 L631.6,749.3 L633.2,749.2 L634.7,749.6 L636.2,749.4 L637.8,750.0 L639.3,749.1 L640.8,749.4 L642.4,749.5 L643.9,749.1 L645.4,750.5 L646.9,749.1 L648.5,749.9 L650.0,749.8 L652.5,752.6 L655.0,758.8 L657.0,761.8 L659.0,763.0 L661.0,764.1 L663.0,764.8 L664.7,766.7 L666.3,767.5 L668.0,769.3 L669.5,769.6 L671.1,770.2 L672.6,768.8 L674.2,770.3 L675.7,770.3 L677.3,769.9 L678.8,770.3 L680.4,770.2 L681.9,771.0 L683.5,770.6 L685.0,770.6 L686.5,770.6 L688.0,770.7 L689.6,770.7 L691.1,770.5 L692.6,771.6 L694.1,770.2 L695.6,769.6 L697.1,770.9 L698.7,770.9 L700.2,771.1 L701.7,770.9 L703.2,771.0 L704.7,771.2 L706.2,771.4 L707.8,771.0 L709.3,771.0 L710.8,771.9 L712.3,771.4 L713.8,770.9 L715.4,772.1 L716.9,771.6 L718.4,771.1 L719.9,770.9 L721.4,771.5 L722.9,771.1 L724.5,771.1 L726.0,771.0 L727.5,771.3 L729.0,771.9 L730.5,771.4 L732.1,771.1 L733.6,771.8 L735.1,771.7 L736.6,772.0 L738.1,772.1 L739.6,771.7 L741.2,771.7 L742.7,771.8 L744.2,771.4 L745.7,772.1 L747.2,772.4 L748.8,772.0 L750.3,771.8 L751.8,771.9 L753.3,771.7 L754.8,771.7 L756.3,771.9 L757.9,771.8 L759.4,771.9 L760.9,771.6 L762.4,772.3 L763.9,772.2 L765.4,771.8 L767.0,771.4 L768.5,772.3 L770.0,772.7 L771.5,772.6 L773.0,773.2 L774.5,773.8 L776.0,774.7 L777.5,774.3 L779.0,775.0 L780.5,774.6 L782.0,775.1 L784.0,773.2 L786.0,771.4 L787.5,770.7 L789.0,770.6 L790.5,770.4 L792.0,770.4 L793.5,770.0 L795.0,769.3 L796.5,769.4 L798.0,769.2 L799.6,768.8 L801.1,768.7 L802.7,768.7 L804.3,769.1 L805.9,769.0 L807.4,768.4 L809.0,768.8 L810.6,768.5 L812.2,768.4 L813.7,769.1 L815.3,768.6" fill="none" stroke="#1d4c8b" stroke-width="4.0" stroke-linejoin="round"/>
<path d="M816.3,770 V858" stroke="#9db4d4" stroke-width="1.6" stroke-dasharray="1.5,2.5"/>
<path d="M816.3,830 V858" stroke="#5d82b8" stroke-width="1.8"/>
<path d="M816.5,857.7 L818.0,862.1 L820.0,862.9 L822.0,863.6 L824.0,863.9 L826.0,864.6 L828.0,865.4 L830.0,865.2 L832.0,866.4 L834.0,867.0 L836.0,867.5 L838.0,867.4 L840.0,868.4 L842.0,868.6 L844.0,869.5 L846.0,869.9 L848.0,870.3 L850.0,870.4 L852.0,870.9 L854.0,871.8 L856.0,871.7 L858.0,872.5 L860.0,873.0 L862.0,873.1 L864.0,874.3 L866.0,874.0 L868.0,875.0 L870.0,874.1 L872.0,874.4 L874.0,875.8 L876.0,876.0 L878.0,876.1 L880.0,876.5 L882.0,876.3 L884.0,877.0 L886.0,877.2 L888.0,877.7 L890.0,878.4 L892.0,878.4 L894.0,878.8 L896.0,878.8 L898.0,879.2 L900.0,879.6 L902.0,879.8 L904.0,880.5 L906.0,880.1 L908.0,881.2 L910.0,880.6 L912.0,881.5 L914.0,881.2 L916.0,882.2 L918.0,881.9 L920.0,882.2 L922.0,882.6 L924.0,882.4 L926.0,882.5 L928.0,882.4 L930.0,883.6 L932.0,883.2 L934.0,883.5 L936.0,883.8 L938.0,884.6 L940.0,883.7 L942.0,884.5 L944.0,884.5 L946.0,884.9 L948.0,884.4 L950.0,885.0 L952.0,885.6 L954.0,885.9 L956.0,886.1 L958.0,885.5 L960.0,886.0 L962.0,886.1 L964.0,885.9 L966.0,886.0 L968.0,886.8 L970.0,886.8 L972.0,886.8 L974.0,887.4 L976.0,886.8 L978.0,887.4 L980.0,887.4 L982.0,887.5 L984.0,887.8 L981.5,887.5" fill="none" stroke="#1d4c8b" stroke-width="4.0" stroke-linejoin="round"/>
<path d="M982.6,887 V857" stroke="#6b8fc2" stroke-width="1.8"/>
<path d="M983.5,857.3 L985.0,857.3 L986.5,857.9 L988.0,857.1 L989.5,857.6 L991.0,857.4 L992.5,857.1 L994.1,857.5 L995.6,856.9 L997.1,857.6 L998.6,856.9 L1000.1,857.0 L1001.6,857.3 L1003.1,857.5 L1004.6,857.5 L1006.1,857.5 L1007.6,857.1 L1009.1,856.9 L1010.6,857.4 L1012.2,857.3 L1013.7,856.9 L1015.2,857.6 L1016.7,857.3 L1018.2,856.9 L1019.7,857.4 L1021.2,856.8 L1022.7,856.9 L1024.2,857.4 L1025.7,856.7 L1027.2,857.2 L1028.8,856.8 L1030.3,857.5 L1031.8,857.0 L1033.3,857.3 L1034.8,856.7 L1036.3,857.1 L1037.8,857.6 L1039.3,857.4 L1040.8,856.6 L1042.3,857.6 L1043.8,857.5 L1045.3,857.1 L1046.9,857.7 L1048.4,856.9 L1049.9,857.2 L1051.4,857.6 L1052.9,857.7 L1054.4,857.7 L1055.9,856.9 L1057.4,856.6 L1058.9,857.4 L1060.4,856.7 L1061.9,857.2 L1063.4,856.8 L1065.0,857.6 L1066.5,857.5 L1068.0,857.4 L1069.5,857.3 L1071.0,857.3 L1072.5,857.2 L1074.0,857.4 L1075.5,857.3 L1077.0,857.4 L1078.5,857.1 L1080.0,857.9 L1081.5,857.4 L1083.1,857.7 L1084.6,857.7 L1086.1,857.0 L1087.6,856.7 L1089.1,857.7 L1090.6,857.1 L1092.1,857.3 L1093.6,857.2 L1095.1,857.3 L1096.6,856.9 L1098.1,857.2 L1099.6,857.1 L1101.2,857.3 L1102.7,856.5 L1104.2,857.6 L1105.7,857.4 L1107.2,856.7 L1108.7,857.0 L1110.2,857.3 L1111.7,857.5 L1113.2,857.3 L1114.7,857.8 L1116.2,857.3 L1117.7,856.9 L1119.2,857.0 L1120.8,857.5 L1122.3,857.1 L1123.8,857.6 L1125.3,857.6 L1126.8,857.5 L1128.3,857.6 L1129.8,857.2 L1131.3,857.3 L1132.8,857.1 L1134.3,857.1 L1135.8,856.7 L1137.4,857.1 L1138.9,856.9 L1140.4,856.8 L1141.9,857.3 L1143.4,857.5 L1144.9,857.2 L1146.4,857.3" fill="none" stroke="#1d4c8b" stroke-width="4.0" stroke-linejoin="round"/>
<text x="577" y="767.3" font-size="15.7" fill="#111">PBS</text>
<path d="M625,785 V765.3" stroke="#111" stroke-width="1.3"/><path d="M621.8,765.3 L625,757.3 L628.2,765.3 Z" fill="#111"/>
<text x="618" y="800.5" font-size="15.7" fill="#111">SpyTag peptide</text>
<path d="M782,813.7 V789.2" stroke="#111" stroke-width="1.3"/><path d="M778.8,789.2 L782,781.2 L785.2,789.2 Z" fill="#111"/>
<text x="762.5" y="831.2" font-size="15.7" fill="#111">PBS</text>
<path d="M815,892.5 V875" stroke="#111" stroke-width="1.3"/><path d="M811.8,875 L815,867 L818.2,875 Z" fill="#111"/>
<text x="782.4" y="911" font-size="15.7" fill="#111">Nanobody-SpyCatcher</text>
<path d="M981.5,918 V899" stroke="#111" stroke-width="1.3"/><path d="M978.3,899 L981.5,891 L984.7,899 Z" fill="#111"/>
<text x="988.4" y="912" font-size="15.7" fill="#111">PBS</text>
<text transform="translate(509.3,826.5) rotate(-90)" font-size="19.4" text-anchor="middle" fill="#111">ΔFrequency (Hz)</text>
<rect x="564.0" y="978.8" width="582.4000000000001" height="194.4000000000001" fill="none" stroke="#333" stroke-width="1.4"/>
<path d="M564.0,1161.6 h-4.7 M564.0,1115.9 h-4.7 M564.0,1070.2 h-4.7 M564.0,1024.5 h-4.7 M564.0,978.8 h-4.7 M564.0,1138.8 h-2.6 M564.0,1093.0 h-2.6 M564.0,1047.3 h-2.6 M564.0,1001.6 h-2.6 M564.0,1173.2 v4.7 M661.1,1173.2 v4.7 M758.1,1173.2 v4.7 M855.2,1173.2 v4.7 M952.3,1173.2 v4.7 M1049.3,1173.2 v4.7 M1146.4,1173.2 v4.7 M612.5,1173.2 v2.6 M709.6,1173.2 v2.6 M806.7,1173.2 v2.6 M903.7,1173.2 v2.6 M1000.8,1173.2 v2.6 M1097.9,1173.2 v2.6" stroke="#333" stroke-width="1.4" fill="none"/>
<text x="561.5" y="1197.0" font-size="16.8" text-anchor="middle" fill="#111">0</text>
<text x="658.6" y="1197.0" font-size="16.8" text-anchor="middle" fill="#111">1</text>
<text x="755.6" y="1197.0" font-size="16.8" text-anchor="middle" fill="#111">2</text>
<text x="852.7" y="1197.0" font-size="16.8" text-anchor="middle" fill="#111">3</text>
<text x="949.8" y="1197.0" font-size="16.8" text-anchor="middle" fill="#111">4</text>
<text x="1046.8" y="1197.0" font-size="16.8" text-anchor="middle" fill="#111">5</text>
<text x="1143.9" y="1197.0" font-size="16.8" text-anchor="middle" fill="#111">6</text>
<text x="553.3" y="1167.4" font-size="16.8" text-anchor="end" fill="#111">0</text>
<text x="553.3" y="1121.7" font-size="16.8" text-anchor="end" fill="#111">200</text>
<text x="553.3" y="1076.0" font-size="16.8" text-anchor="end" fill="#111">400</text>
<text x="553.3" y="1030.3" font-size="16.8" text-anchor="end" fill="#111">600</text>
<text x="553.3" y="984.6" font-size="16.8" text-anchor="end" fill="#111">800</text>
<path d="M564.0,1162.8 L565.5,1162.8 L567.1,1162.9 L568.6,1162.4 L570.2,1162.1 L571.8,1163.0 L573.3,1163.0 L574.9,1163.3 L576.4,1163.3 L578.0,1163.7 L579.5,1163.2 L581.0,1163.7 L582.6,1163.1 L584.1,1162.7 L585.7,1163.5 L587.2,1164.4 L588.8,1163.2 L590.4,1164.4 L591.9,1163.8 L593.5,1164.0 L595.0,1164.3 L596.5,1164.6 L598.0,1164.3 L599.5,1165.0 L601.0,1165.3 L602.5,1165.6 L604.0,1165.2 L605.5,1166.1 L607.0,1166.2 L608.5,1166.3 L610.0,1164.7 L611.5,1165.3 L613.0,1164.4 L614.5,1165.3 L616.0,1165.3 L617.5,1164.5 L619.5,1161.9 L621.0,1166.1 L623.7,1159.3 L625.2,1158.6 L626.8,1158.8 L628.3,1157.8 L629.9,1158.5 L631.4,1158.8 L633.0,1158.7 L634.5,1159.2 L636.1,1158.1 L637.6,1157.6 L639.2,1158.6 L640.7,1158.1 L642.3,1158.4 L643.8,1158.5 L645.4,1158.4 L646.9,1158.7 L648.5,1158.6 L650.0,1157.3 L651.9,1152.5 L653.7,1147.8 L655.4,1145.8 L657.0,1145.3 L658.7,1143.8 L660.9,1143.0 L663.0,1143.1 L664.5,1141.2 L666.0,1138.9 L667.5,1137.6 L669.0,1136.6 L670.5,1136.8 L672.1,1137.5 L673.6,1137.1 L675.1,1136.6 L676.6,1137.2 L678.1,1137.1 L679.6,1137.5 L681.2,1137.3 L682.7,1136.8 L684.2,1136.7 L685.7,1136.8 L687.2,1136.7 L688.8,1137.3 L690.3,1137.4 L691.8,1137.2 L693.3,1136.8 L694.8,1136.5 L696.3,1137.0 L697.9,1136.4 L699.4,1136.6 L700.9,1135.8 L702.4,1136.3 L703.9,1137.0 L705.4,1136.0 L707.0,1135.8 L708.5,1136.3 L710.0,1137.0 L711.5,1136.8 L713.0,1136.1 L714.5,1136.0 L716.0,1136.1 L717.5,1135.8 L719.0,1136.1 L720.5,1136.0 L722.0,1135.4 L723.5,1135.8 L725.0,1135.9 L726.5,1135.6 L728.0,1135.5 L729.5,1136.2 L731.0,1136.6 L732.5,1135.7 L734.0,1135.6 L735.5,1135.9 L737.0,1135.6 L738.5,1135.4 L740.0,1136.2 L741.5,1135.2 L743.0,1135.3 L744.5,1135.3 L746.0,1135.2 L747.5,1135.4 L749.0,1135.7 L750.5,1136.0 L752.0,1135.7 L753.5,1135.4 L755.0,1134.8 L756.5,1135.3 L758.0,1134.9 L759.5,1135.2 L761.0,1135.6 L762.5,1135.2 L764.0,1135.0 L765.5,1134.8 L767.0,1135.1 L768.5,1135.1 L770.0,1134.6 L771.5,1134.3 L773.0,1134.4 L774.5,1132.8 L776.0,1132.8 L778.0,1132.0 L780.0,1132.6 L781.5,1133.3 L783.0,1134.3 L784.5,1135.3 L786.0,1136.3 L787.5,1136.5 L789.1,1135.8 L790.6,1136.7 L792.2,1137.0 L793.7,1136.3 L795.2,1137.4 L796.8,1137.4 L798.3,1136.7 L799.9,1137.3 L801.4,1137.5 L802.9,1137.5 L804.5,1138.0 L806.0,1137.5 L807.5,1138.1 L809.1,1138.4 L810.6,1138.7 L812.2,1138.6 L813.7,1138.6 L814.8,1138.7" fill="none" stroke="#8a1217" stroke-width="4.0" stroke-linejoin="round"/>
<path d="M814.8,1138.7 L815.6,1070.0 L816.5,1049.0 L818.0,1044.0 L820.0,1041.5 L822.0,1041.0 L824.0,1039.3 L826.0,1039.6 L828.0,1038.5 L830.0,1037.5 L832.0,1037.1 L834.0,1036.0 L836.0,1035.3 L838.0,1035.2 L840.0,1034.5 L842.0,1034.4 L844.0,1033.3 L846.0,1032.5 L848.0,1032.1 L850.0,1032.5 L852.0,1031.4 L854.0,1030.6 L856.0,1030.0 L858.0,1029.4 L860.0,1029.3 L862.0,1029.0 L864.0,1028.8 L866.0,1028.3 L868.0,1027.6 L870.0,1026.8 L872.0,1026.3 L874.0,1025.4 L876.0,1025.4 L878.0,1025.5 L880.0,1024.9 L882.0,1024.8 L884.0,1023.8 L886.0,1024.2 L888.0,1023.6 L890.0,1023.2 L892.0,1023.0 L894.0,1021.7 L896.0,1022.0 L898.0,1021.5 L900.0,1022.2 L902.0,1021.2 L904.0,1020.8 L906.0,1021.0 L908.0,1020.0 L910.0,1020.6 L912.0,1019.6 L914.0,1019.5 L916.0,1019.0 L918.0,1019.3 L920.0,1018.0 L922.0,1018.8 L924.0,1018.0 L926.0,1018.1 L928.0,1017.4 L930.0,1017.7 L932.0,1017.5 L934.0,1017.4 L936.0,1017.1 L938.0,1017.0 L940.0,1016.9 L942.0,1016.2 L944.0,1015.8 L946.0,1015.5 L948.0,1016.1 L950.0,1015.5 L952.0,1015.8 L954.0,1015.3 L956.0,1014.8 L958.0,1015.3 L960.0,1015.5 L962.0,1014.6 L964.0,1014.2 L966.0,1014.0 L968.0,1014.5 L970.0,1013.8 L972.0,1013.8 L974.0,1014.0 L976.0,1013.6 L978.0,1013.5 L980.0,1013.2 L981.3,1013.3 L982.7,1013.3 L983.3,1045.3" fill="none" stroke="#8a1217" stroke-width="4.0" stroke-linejoin="round"/>
<path d="M983.3,1045.0 L984.8,1045.4 L986.3,1045.4 L987.8,1045.5 L989.3,1045.1 L990.9,1045.4 L992.4,1045.5 L993.9,1045.3 L995.4,1045.5 L996.9,1045.7 L998.4,1045.4 L999.9,1045.4 L1001.4,1044.9 L1002.9,1045.5 L1004.4,1045.3 L1006.0,1045.2 L1007.5,1045.0 L1009.0,1045.6 L1010.5,1046.4 L1012.0,1045.5 L1013.5,1045.4 L1015.0,1045.5 L1016.5,1045.1 L1018.0,1045.4 L1019.5,1045.1 L1021.1,1045.1 L1022.6,1045.4 L1024.1,1045.4 L1025.6,1045.3 L1027.1,1045.0 L1028.6,1045.5 L1030.1,1044.9 L1031.6,1045.7 L1033.1,1045.2 L1034.6,1045.4 L1036.2,1045.7 L1037.7,1045.6 L1039.2,1044.9 L1040.7,1045.3 L1042.2,1045.5 L1043.7,1044.9 L1045.2,1044.4 L1046.7,1045.3 L1048.2,1045.4 L1049.7,1045.6 L1051.3,1045.4 L1052.8,1045.4 L1054.3,1045.5 L1055.8,1045.9 L1057.3,1045.6 L1058.8,1045.6 L1060.3,1045.2 L1061.8,1045.8 L1063.3,1045.3 L1064.8,1045.7 L1066.4,1044.6 L1067.9,1045.5 L1069.4,1045.4 L1070.9,1045.2 L1072.4,1045.9 L1073.9,1045.6 L1075.4,1045.4 L1076.9,1045.2 L1078.4,1046.2 L1080.0,1045.7 L1081.5,1045.7 L1083.0,1045.1 L1084.5,1045.9 L1086.0,1045.6 L1087.5,1045.3 L1089.0,1045.4 L1090.5,1044.8 L1092.0,1045.7 L1093.5,1045.0 L1095.1,1045.8 L1096.6,1045.3 L1098.1,1045.2 L1099.6,1045.6 L1101.1,1045.5 L1102.6,1045.0 L1104.1,1045.4 L1105.6,1045.7 L1107.1,1045.4 L1108.6,1044.9 L1110.2,1045.4 L1111.7,1045.1 L1113.2,1045.2 L1114.7,1045.5 L1116.2,1045.4 L1117.7,1045.4 L1119.2,1044.8 L1120.7,1045.6 L1122.2,1045.4 L1123.7,1045.3 L1125.3,1045.5 L1126.8,1046.2 L1128.3,1045.0 L1129.8,1044.8 L1131.3,1045.8 L1132.8,1045.2 L1134.3,1046.0 L1135.8,1045.1 L1137.3,1045.3 L1138.8,1045.8 L1140.4,1045.9 L1141.9,1045.7 L1143.4,1045.7 L1144.9,1045.4 L1146.4,1045.5" fill="none" stroke="#8a1217" stroke-width="4.0" stroke-linejoin="round"/>
<text x="576.2" y="1152.4" font-size="15.7" fill="#111">PBS</text>
<path d="M619.5,1132.5 V1148.3" stroke="#111" stroke-width="1.3"/><path d="M616.3,1148.3 L619.5,1156.3 L622.7,1148.3 Z" fill="#111"/>
<text x="611.2" y="1121.2" font-size="15.7" fill="#111">SpyTag peptide</text>
<path d="M777.5,1099.5 V1117" stroke="#111" stroke-width="1.3"/><path d="M774.3,1117 L777.5,1125 L780.7,1117 Z" fill="#111"/>
<text x="762" y="1091.2" font-size="15.7" fill="#111">PBS</text>
<path d="M815,1013.7 V1032" stroke="#111" stroke-width="1.3"/><path d="M811.8,1032 L815,1040 L818.2,1032 Z" fill="#111"/>
<text x="787.5" y="1001" font-size="15.7" fill="#111">Nanobody-SpyCatcher</text>
<path d="M980.8,985.3 V1001.3" stroke="#111" stroke-width="1.3"/><path d="M977.5999999999999,1001.3 L980.8,1009.3 L984.0,1001.3 Z" fill="#111"/>
<text x="988" y="1000" font-size="15.7" fill="#111">PBS</text>
<text transform="translate(512.6,1073) rotate(-90)" font-size="19.4" text-anchor="middle" fill="#111">Mass (ng/cm<tspan dy="-7" font-size="13">2</tspan><tspan dy="7">)</tspan></text>
<text x="859.5" y="1228.5" font-size="19.4" text-anchor="middle" fill="#111">Time (h)</text>
</svg>
</body></html>
